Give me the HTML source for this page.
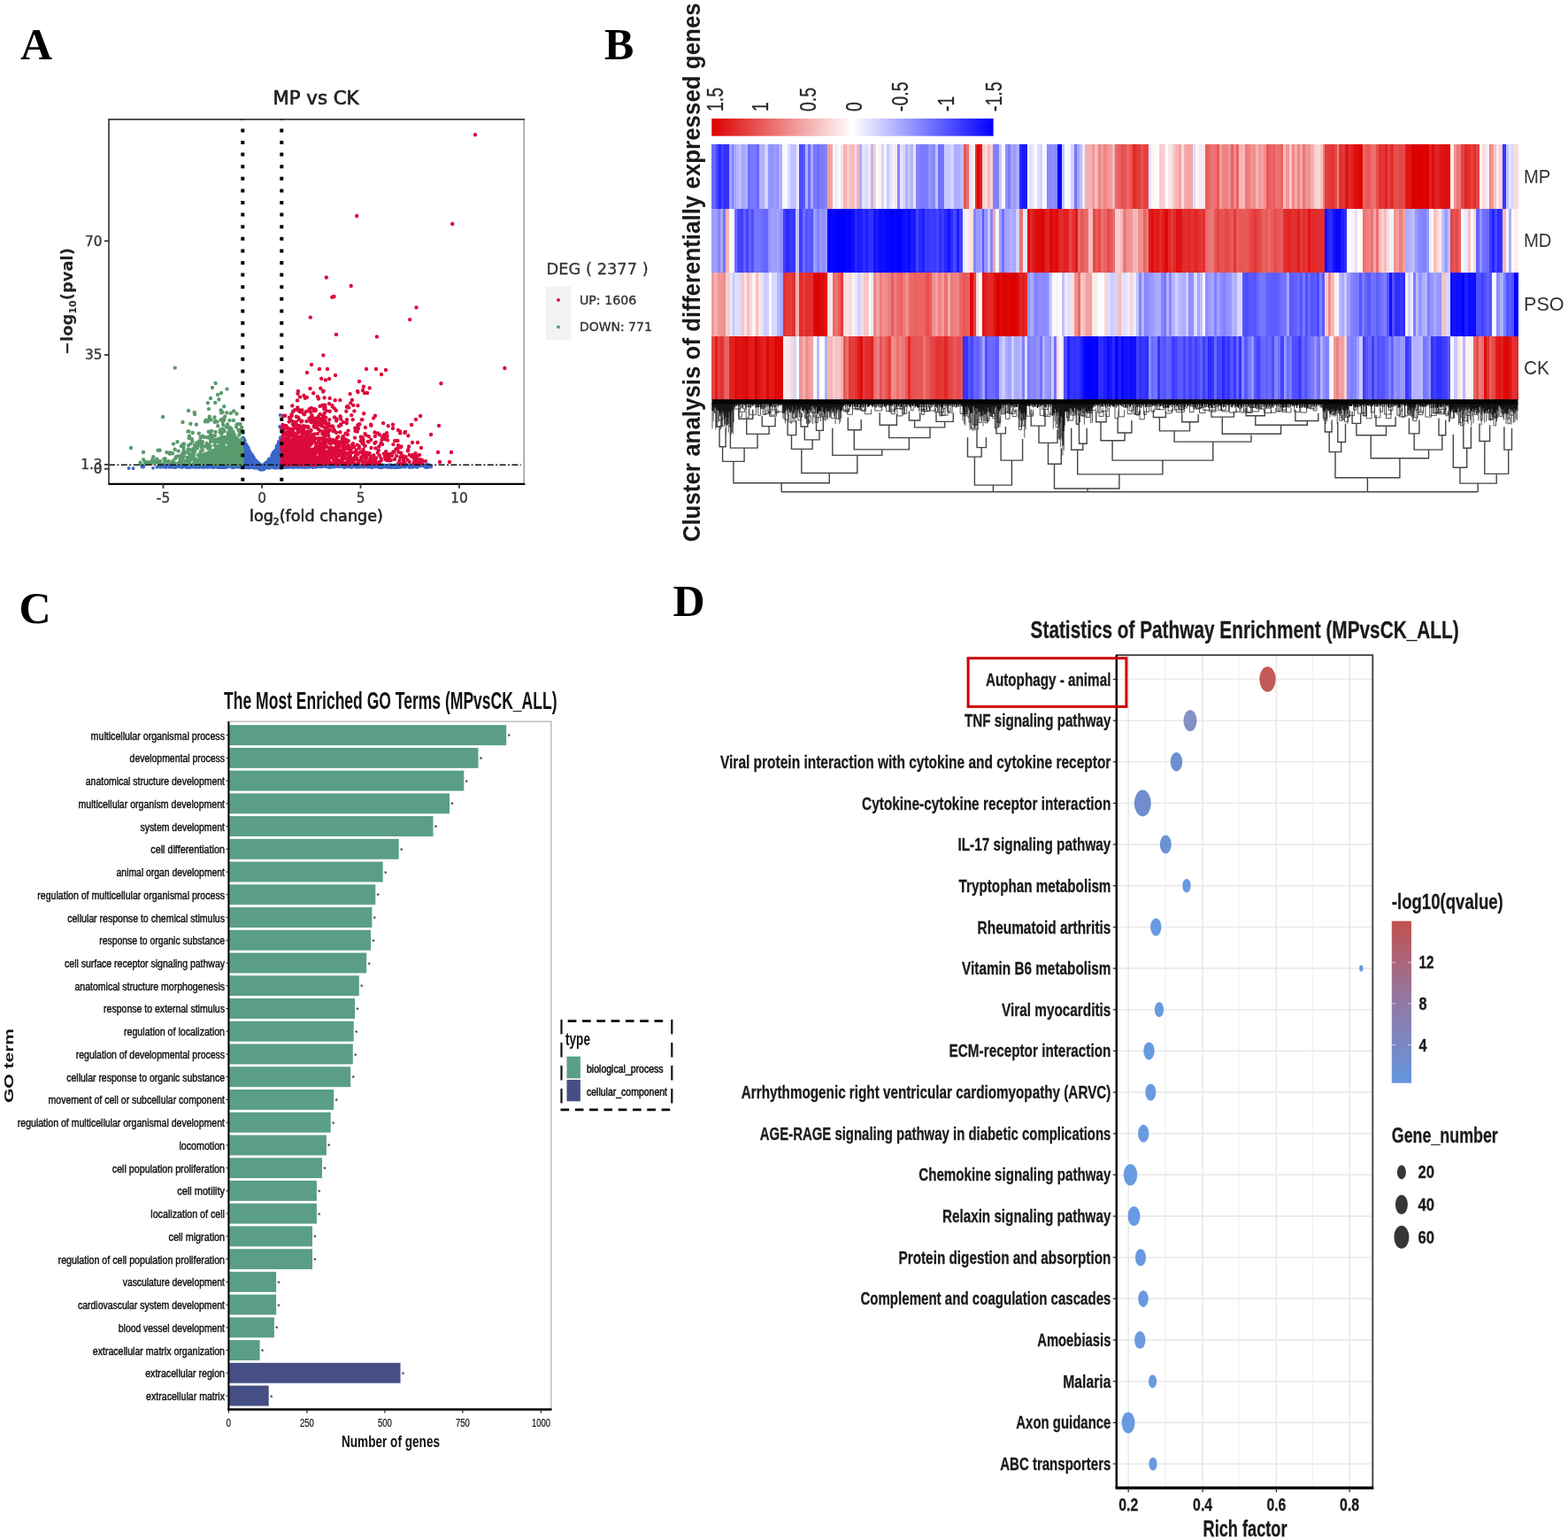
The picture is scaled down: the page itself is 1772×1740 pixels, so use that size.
<!DOCTYPE html>
<html lang="en"><head><meta charset="utf-8"><title>Figure</title>
<style>
html,body{margin:0;padding:0;background:#fff}
svg{display:block}
.dv{font-family:"DejaVu Sans","Liberation Sans",sans-serif}
.ls{font-family:"Liberation Sans",sans-serif}
.lsf{font-family:"Liberation Serif",serif}
</style></head><body>
<svg width="1772" height="1740" viewBox="0 0 1772 1740">
<rect width="1772" height="1740" fill="#fff"/>
<g id="panelA">
<path d="M284.9 526.5h0M280.5 526.5h0M191.6 528.0h0M208.0 525.5h0M213.0 526.3h0M302.1 528.1h0M210.4 527.8h0M308.5 526.3h0M376.7 526.4h0M267.7 527.5h0M389.4 527.2h0M360.2 527.2h0M424.5 527.4h0M356.8 525.3h0M320.4 526.8h0M292.9 526.6h0M192.1 525.7h0M356.4 527.2h0M394.0 526.3h0M320.4 525.1h0M325.9 528.0h0M395.9 524.9h0M241.1 528.2h0M343.9 527.8h0M198.2 527.8h0M256.2 525.3h0M204.8 526.4h0M451.9 525.4h0M265.7 527.0h0M452.1 527.7h0M301.9 526.3h0M352.2 526.8h0M293.7 525.1h0M392.5 526.2h0M364.9 525.3h0M425.6 526.9h0M211.9 528.0h0M245.6 527.7h0M324.1 527.9h0M296.0 525.3h0M295.4 527.0h0M217.8 524.9h0M323.4 527.9h0M341.3 527.4h0M415.2 526.5h0M225.2 528.1h0M342.6 525.4h0M313.4 527.0h0M231.4 526.5h0M311.1 525.0h0M442.4 525.5h0M384.3 526.5h0M335.1 527.4h0M393.2 526.7h0M468.4 525.1h0M302.9 527.5h0M221.1 525.4h0M327.6 525.6h0M206.1 525.2h0M420.8 526.6h0M235.0 527.1h0M426.5 526.9h0M303.6 525.8h0M221.9 527.7h0M458.5 527.7h0M434.4 526.1h0M287.9 527.8h0M184.4 526.1h0M342.1 526.8h0M448.3 527.5h0M299.9 527.4h0M361.1 525.2h0M288.9 526.3h0M458.3 525.2h0M334.4 526.5h0M185.8 527.6h0M181.3 527.7h0M325.8 526.4h0M280.4 526.4h0M261.5 527.3h0M417.7 526.4h0M413.9 526.8h0M368.5 526.5h0M393.2 526.5h0M327.2 525.9h0M449.8 527.4h0M352.2 525.4h0M282.3 526.8h0M361.4 525.6h0M328.4 525.9h0M391.2 527.5h0M473.2 526.6h0M484.7 527.7h0M312.8 527.1h0M209.7 525.8h0M186.0 526.8h0M254.2 528.0h0M483.2 525.0h0M254.7 528.1h0M331.3 525.2h0M333.4 527.7h0M462.9 525.9h0M276.5 528.0h0M468.8 525.6h0M205.8 528.0h0M445.6 527.1h0M350.2 527.3h0M219.8 527.4h0M248.2 528.1h0M267.9 527.3h0M373.9 527.1h0M375.4 526.4h0M238.3 525.1h0M212.7 526.8h0M332.4 526.9h0M336.0 525.0h0M285.5 525.9h0M375.8 527.1h0M303.7 528.0h0M306.7 525.4h0M447.9 527.3h0M313.6 526.7h0M228.5 527.4h0M476.0 526.4h0M255.3 527.2h0M255.0 526.6h0M241.9 528.2h0M333.7 526.9h0M284.1 526.3h0M342.9 526.1h0M400.4 526.9h0M280.4 527.7h0M402.9 528.1h0M437.1 526.2h0M405.9 527.8h0M341.2 525.5h0M427.7 526.3h0M454.8 525.9h0M329.7 527.8h0M328.2 526.2h0M372.8 526.6h0M181.1 525.8h0M334.8 526.0h0M200.4 527.4h0M242.2 525.8h0M243.2 525.0h0M332.0 526.6h0M390.4 526.2h0M318.6 525.8h0M273.7 528.2h0M326.0 526.0h0M393.1 527.3h0M339.0 526.7h0M216.5 527.6h0M481.0 528.2h0M321.3 525.0h0M325.6 527.5h0M410.6 526.5h0M321.0 525.3h0M243.1 525.3h0M353.1 526.7h0M297.3 527.1h0M277.3 528.2h0M411.1 527.8h0M465.1 525.2h0M269.2 526.9h0M487.4 527.0h0M317.7 525.5h0M267.9 527.4h0M261.8 527.6h0M294.9 525.3h0M429.9 525.2h0M469.5 525.8h0M195.3 526.7h0M411.7 527.3h0M195.1 527.8h0M302.8 527.2h0M407.5 527.4h0M250.0 527.7h0M278.7 525.2h0M433.1 526.7h0M204.4 527.9h0M298.6 526.3h0M453.1 526.9h0M307.4 527.0h0M333.8 527.3h0M226.9 525.4h0M294.5 527.4h0M303.1 525.1h0M441.2 528.2h0M190.0 525.3h0M325.7 528.2h0M300.5 525.5h0M443.3 527.4h0M222.5 525.1h0M402.1 525.7h0M320.8 528.1h0M285.6 525.2h0M321.9 526.1h0M322.9 528.0h0M341.4 526.9h0M248.8 528.2h0M272.8 525.1h0M378.4 526.7h0M370.3 527.2h0M186.7 526.0h0M277.2 526.0h0M339.5 526.8h0M305.5 525.6h0M407.5 527.6h0M311.1 527.5h0M263.8 525.1h0M304.5 526.0h0M346.3 526.9h0M245.6 527.8h0M213.8 525.3h0M405.5 525.1h0M361.1 525.1h0M271.5 527.0h0M254.9 528.2h0M266.1 525.1h0M218.1 527.5h0M289.8 525.5h0M249.3 525.2h0M239.4 525.3h0M189.4 525.5h0M303.9 528.1h0M199.3 527.4h0M410.0 527.1h0M263.8 526.2h0M260.7 527.2h0M299.9 526.1h0M186.8 527.5h0M326.3 525.1h0M244.2 525.2h0M236.3 525.8h0M433.2 526.2h0M320.4 527.0h0M322.7 527.4h0M373.6 526.4h0M280.3 525.3h0M315.1 526.6h0M398.5 527.5h0M308.3 526.0h0M410.2 526.0h0M217.3 527.3h0M354.5 525.8h0M307.1 527.4h0M227.2 526.3h0M280.5 524.9h0M321.6 524.9h0M211.5 525.5h0M438.7 528.1h0M229.3 527.6h0M479.5 525.2h0M294.6 526.7h0M260.0 525.1h0M212.6 526.2h0M247.0 527.8h0M238.2 527.6h0M254.3 526.0h0M321.2 526.4h0M379.7 526.9h0M349.3 527.9h0M230.4 526.9h0M336.6 526.4h0M290.0 525.4h0M486.7 527.6h0M283.7 528.2h0M457.5 525.5h0M305.0 526.7h0M229.5 525.2h0M207.4 527.0h0M273.7 527.3h0M340.4 527.9h0M331.0 525.0h0M421.2 526.6h0M196.5 526.9h0M458.3 525.5h0M229.4 527.5h0M304.5 525.5h0M249.2 526.9h0M339.4 527.8h0M256.1 525.3h0M192.7 525.7h0M191.8 527.8h0M364.5 526.2h0M274.3 526.3h0M311.1 526.8h0M254.3 527.5h0M415.0 526.7h0M235.3 527.9h0M219.6 527.9h0M316.1 528.1h0M257.3 525.8h0M419.3 528.0h0M335.1 525.1h0M221.9 524.9h0M405.3 527.6h0M482.2 525.1h0M323.1 528.0h0M288.0 527.7h0M186.0 525.5h0M224.2 525.2h0M253.0 528.1h0M294.4 525.1h0M389.2 527.7h0M227.5 527.0h0M448.7 526.3h0M282.6 524.9h0M373.8 525.6h0M261.5 526.3h0M290.9 526.8h0M234.4 528.1h0M205.5 526.3h0M187.7 528.2h0M257.1 526.5h0M261.2 527.5h0M341.9 527.9h0M296.8 526.3h0M256.4 527.8h0M256.9 527.7h0M209.5 525.3h0M420.7 527.4h0M183.6 526.4h0M287.9 526.8h0M468.4 527.4h0M246.9 527.4h0M198.0 528.2h0M349.6 527.8h0M241.4 526.6h0M377.5 527.7h0M286.1 528.1h0M453.7 525.9h0M182.0 525.8h0M323.2 526.7h0M297.5 527.1h0M410.7 525.4h0M309.7 526.4h0M314.2 526.5h0M261.7 525.0h0M246.8 528.2h0M291.5 525.8h0M280.6 527.1h0M253.6 526.1h0M393.3 525.0h0M324.5 525.9h0M443.9 525.8h0M178.0 527.5h0M319.2 528.1h0M212.9 527.1h0M281.4 528.1h0M393.2 525.9h0M256.7 525.5h0M432.3 528.0h0M447.1 525.1h0M270.9 527.9h0M190.6 525.5h0M375.2 526.1h0M363.4 527.6h0M278.3 528.2h0M343.6 525.9h0M352.6 525.4h0M283.0 526.9h0M314.4 527.1h0M396.9 527.5h0M308.7 528.2h0M242.2 525.0h0M181.4 526.6h0M268.9 526.6h0M286.9 527.4h0M312.7 526.6h0M213.9 528.0h0M422.5 525.6h0M373.3 526.9h0M301.5 527.9h0M370.2 527.5h0M261.0 526.6h0M296.8 527.5h0M321.9 525.7h0M411.8 527.1h0M335.9 525.8h0M232.2 525.7h0M235.7 526.7h0M310.9 525.9h0M334.8 527.7h0M267.2 527.1h0M238.3 525.8h0M211.4 527.9h0M298.3 525.6h0M405.7 527.6h0M292.0 527.5h0M226.1 525.9h0M334.1 526.7h0M223.7 526.9h0M408.1 526.8h0M356.7 526.8h0M250.4 525.3h0M418.2 525.4h0M389.2 526.7h0M276.4 527.9h0M309.2 525.9h0M347.5 526.8h0M320.1 526.9h0M387.8 527.6h0M381.5 526.9h0M330.8 528.1h0M319.1 526.5h0M211.1 526.4h0M400.8 526.1h0M435.2 526.9h0M181.7 526.0h0M300.8 527.8h0M483.0 528.0h0M264.5 528.2h0M308.9 525.9h0M308.9 525.1h0M375.7 525.6h0M354.4 525.6h0M375.2 526.4h0M249.6 527.1h0M376.6 525.5h0M357.7 526.4h0M218.6 527.1h0M269.3 526.8h0M322.3 525.8h0M278.1 526.8h0M376.2 527.0h0M465.8 528.0h0M434.8 525.6h0M223.2 526.1h0M349.1 525.1h0M317.9 527.5h0M312.2 527.7h0M458.3 527.7h0M454.3 525.6h0M385.8 525.6h0M274.8 525.8h0M315.0 526.4h0M239.5 527.8h0M269.2 526.6h0M333.3 525.4h0M182.1 526.7h0M353.2 525.4h0M295.4 525.1h0M203.2 526.1h0M188.8 526.0h0M301.6 525.0h0M337.2 525.3h0M190.5 526.2h0M284.2 527.0h0M326.1 525.7h0M244.9 526.8h0M350.5 527.3h0M434.8 526.6h0M263.7 525.0h0M381.5 527.1h0M236.4 525.6h0M192.4 525.3h0M260.0 527.2h0M355.2 526.1h0M422.9 526.2h0M369.8 525.9h0M363.5 527.5h0M385.3 525.7h0M264.2 528.1h0M418.4 526.1h0M293.6 525.6h0M279.5 527.2h0M312.6 525.1h0M196.8 528.1h0M216.6 526.3h0M462.7 528.2h0M299.2 525.1h0M481.9 526.9h0M211.4 527.5h0M344.6 528.2h0M316.6 525.4h0M291.6 525.8h0M254.6 527.6h0M195.5 525.9h0M443.3 528.0h0M373.5 526.7h0M372.0 528.2h0M184.6 525.5h0M278.7 525.8h0M231.1 526.6h0M198.4 526.3h0M315.1 527.7h0M425.4 526.1h0M373.8 527.0h0M422.0 525.6h0M419.0 525.9h0M345.3 526.2h0M480.8 526.2h0M275.0 525.3h0M296.0 526.2h0M455.8 527.3h0M238.4 525.5h0M326.5 525.5h0M429.8 526.3h0M264.3 525.6h0M390.7 527.1h0M206.2 525.6h0M241.7 525.1h0M252.1 526.0h0M293.6 525.6h0M377.8 525.6h0M204.2 525.3h0M340.6 526.3h0M245.9 527.6h0M395.8 526.4h0M303.9 527.7h0M193.8 527.0h0M212.7 525.6h0M228.1 527.1h0M442.2 525.4h0M329.7 527.4h0M419.8 525.1h0M416.2 525.0h0M327.3 527.6h0M355.4 525.3h0M321.1 525.2h0M199.8 526.9h0M216.9 527.4h0M353.8 525.1h0M386.1 526.7h0M229.2 524.9h0M315.7 527.4h0M288.4 525.2h0M313.5 526.1h0M220.9 527.8h0M412.4 526.0h0M272.0 525.7h0M294.9 526.6h0M321.2 527.8h0M289.4 528.1h0M264.4 525.1h0M446.8 527.8h0M381.0 526.1h0M255.2 525.5h0M327.0 527.8h0M281.9 527.8h0M235.3 526.9h0M319.6 527.7h0M258.6 525.2h0M215.2 528.0h0M455.5 527.5h0M294.4 527.0h0M485.0 525.2h0M328.9 525.3h0M197.7 527.3h0M311.7 527.8h0M180.6 526.5h0M237.2 525.2h0M247.2 527.8h0M235.5 525.9h0M254.0 527.9h0M367.3 527.3h0M243.4 525.9h0M429.8 527.6h0M200.3 526.9h0M312.5 525.4h0M446.1 528.2h0M460.1 525.3h0M254.8 525.5h0M250.5 528.2h0M340.0 526.5h0M217.2 525.5h0M343.7 525.9h0M297.4 528.0h0M448.6 526.6h0M338.0 526.5h0M186.4 527.5h0M295.7 528.1h0M209.7 527.6h0M185.5 526.3h0M341.0 527.9h0M447.6 528.1h0M217.9 526.6h0M386.4 526.9h0M222.2 525.4h0M225.3 525.8h0M230.6 525.1h0M299.7 525.5h0M341.8 525.1h0M298.7 526.8h0M482.0 525.2h0M430.9 528.1h0M339.3 525.1h0M256.8 526.1h0M292.2 528.0h0M313.3 528.2h0M222.9 525.7h0M468.4 525.6h0M452.2 528.1h0M340.2 526.0h0M264.2 525.2h0M244.1 525.1h0M289.3 526.1h0M217.1 525.1h0M236.7 527.7h0M308.7 527.3h0M296.9 526.4h0M438.5 526.3h0M317.0 525.9h0M321.9 526.2h0M297.7 526.5h0M298.0 528.2h0M288.6 527.4h0M351.3 527.3h0M330.7 525.7h0M332.5 528.0h0M299.4 525.8h0M257.8 525.1h0M272.2 526.0h0M369.7 525.5h0M339.4 525.8h0M413.8 525.6h0M398.1 527.8h0M335.1 525.7h0M360.3 525.0h0M356.1 525.6h0M448.6 527.0h0M319.2 525.8h0M270.2 526.4h0M318.0 526.6h0M203.1 527.2h0M224.7 526.3h0M207.1 527.2h0M439.6 525.1h0M242.9 525.2h0M243.2 525.2h0M418.1 524.9h0M339.3 526.0h0M299.9 526.3h0M288.1 526.0h0M273.2 527.0h0M303.4 526.3h0M450.8 526.6h0M315.5 524.9h0M285.7 525.5h0M386.9 526.5h0M214.0 525.9h0M432.6 525.3h0M283.6 527.3h0M337.5 527.6h0M236.2 526.2h0M288.7 526.1h0M193.1 525.6h0M274.4 528.2h0M273.7 526.3h0M233.7 527.3h0M379.1 524.9h0M356.8 527.8h0M228.3 527.9h0M296.8 526.5h0M433.4 525.6h0M301.6 525.9h0M253.0 527.3h0M210.6 526.3h0M287.4 527.0h0M196.9 526.3h0M475.4 526.2h0M383.4 527.2h0M456.7 527.2h0M365.5 526.6h0M255.4 526.9h0M259.6 526.6h0M389.3 527.7h0M336.0 526.4h0M215.4 527.0h0M288.8 527.8h0M434.2 527.4h0M297.1 526.0h0M309.0 525.9h0M309.1 526.8h0M437.4 527.7h0M288.6 527.0h0M273.9 525.1h0M271.1 525.9h0M260.3 526.3h0M303.6 526.2h0M245.4 527.8h0M337.9 527.3h0M417.5 526.1h0M280.0 527.6h0M309.3 526.0h0M213.6 527.0h0M334.8 527.5h0M218.9 527.3h0M304.2 525.7h0M451.7 527.8h0M313.0 526.0h0M384.3 526.9h0M382.9 527.4h0M440.6 526.1h0M364.1 525.9h0M254.4 527.7h0M285.8 527.2h0M305.5 525.5h0M355.5 527.4h0M313.9 527.1h0M180.3 525.7h0M336.8 528.1h0M242.8 525.6h0M244.7 525.7h0M206.5 526.9h0M410.1 527.3h0M207.7 526.8h0M466.3 525.8h0M435.5 526.7h0M196.8 526.8h0M337.6 527.8h0M270.0 527.4h0M348.2 526.1h0M211.1 528.0h0M290.2 527.6h0M276.5 527.4h0M254.4 526.8h0M468.0 527.2h0M225.6 526.4h0M282.7 526.4h0M262.8 526.7h0M415.8 527.9h0M269.1 527.5h0M238.6 527.6h0M396.0 527.9h0M279.9 527.0h0M448.4 525.7h0M205.9 525.0h0M306.4 526.6h0M289.9 525.2h0M378.4 525.1h0M294.3 527.4h0M310.4 527.2h0M237.2 525.4h0M203.2 525.6h0M435.6 527.1h0M236.8 527.2h0M293.5 527.0h0M357.3 526.2h0M432.3 525.2h0M470.8 526.6h0M312.3 526.3h0M204.7 527.7h0M316.4 527.9h0M192.3 527.6h0M348.1 525.6h0M214.8 526.0h0M338.4 527.1h0M315.0 525.5h0M281.0 526.4h0M346.9 527.9h0M279.7 525.0h0M459.7 525.0h0M476.0 525.5h0M198.5 526.2h0M271.5 525.1h0M328.0 527.2h0M285.7 528.1h0M238.2 526.7h0M206.3 527.0h0M358.8 526.5h0M353.9 527.9h0M235.6 526.4h0M214.6 527.4h0M209.3 527.4h0M330.6 527.5h0M230.8 528.0h0M290.6 526.8h0M445.8 525.9h0M374.3 527.9h0M435.5 527.7h0M475.5 525.7h0M222.1 528.0h0M252.9 528.2h0M291.4 527.2h0M397.7 525.3h0M371.2 526.4h0M462.4 527.7h0M302.3 525.5h0M217.8 525.8h0M471.8 528.1h0M222.2 526.4h0M361.6 527.4h0M239.5 525.5h0M262.7 528.2h0M214.0 527.6h0M277.5 527.8h0M449.4 525.9h0M428.8 528.2h0M251.7 526.6h0M448.7 528.1h0M236.1 526.0h0M300.8 527.7h0M440.1 525.3h0M279.6 525.3h0M326.1 527.7h0M291.1 526.3h0M299.4 528.2h0M350.0 525.0h0M303.0 526.0h0M257.8 526.3h0M342.6 524.9h0M190.5 525.7h0M448.5 526.1h0M375.3 527.3h0M424.8 525.1h0M296.0 525.7h0M407.6 526.1h0M287.9 526.9h0M231.0 526.6h0M427.3 527.5h0M395.2 526.7h0M317.1 527.2h0M300.5 527.2h0M275.0 526.4h0M353.1 528.0h0M235.0 525.0h0M289.9 526.8h0M265.2 526.6h0M295.5 527.7h0M262.5 527.5h0M306.6 526.2h0M445.9 527.6h0M405.9 526.2h0M204.4 525.3h0M319.1 525.3h0M377.0 527.5h0M280.6 526.1h0M304.8 527.1h0M197.7 528.1h0M352.3 526.6h0M288.1 525.2h0M353.6 528.0h0M369.0 527.1h0M297.9 527.8h0M316.1 526.4h0M361.1 526.1h0M248.6 525.8h0M259.4 525.7h0M315.1 526.7h0M265.7 525.1h0M162.3 526.7h0M381.7 527.0h0M296.9 528.1h0M274.7 526.6h0M339.5 527.7h0M234.6 525.2h0M278.7 525.7h0M254.7 526.6h0M313.0 527.2h0M244.3 525.8h0M200.2 526.9h0M249.7 525.2h0M470.8 527.5h0M276.2 526.8h0M300.1 527.2h0M225.7 526.3h0M228.3 525.4h0M262.3 525.5h0M193.1 527.7h0M390.2 526.7h0M358.3 527.5h0M451.9 525.6h0M305.4 525.4h0M319.6 525.0h0M182.9 527.7h0M299.6 527.7h0M237.4 525.9h0M451.5 528.1h0M252.2 525.9h0M191.7 527.5h0M388.9 528.2h0M314.0 526.6h0M221.8 527.6h0M278.8 525.8h0M261.2 525.2h0M341.7 525.0h0M451.8 527.3h0M309.2 526.5h0M305.6 527.0h0M183.3 526.1h0M347.4 525.9h0M482.4 525.9h0M302.1 526.8h0M479.5 527.0h0M301.0 526.2h0M295.9 526.2h0M303.8 525.4h0M421.3 528.1h0M319.1 526.1h0M298.1 525.8h0M442.7 526.3h0M295.6 526.1h0M408.8 525.9h0M301.1 526.2h0M253.7 527.5h0M251.5 525.2h0M160.1 527.0h0M161.9 527.9h0M150.5 529.2h0M177.3 527.8h0M162.0 527.8h0M173.0 528.8h0M145.5 529.0h0M281.4 523.9h0M302.3 525.4h0M312.4 519.3h0M310.8 527.3h0M280.6 526.6h0M289.6 526.7h0M293.9 526.8h0M304.7 523.3h0M309.3 526.1h0M304.0 523.3h0M284.3 523.4h0M290.7 527.4h0M299.1 528.0h0M305.7 524.7h0M284.5 527.9h0M302.1 527.9h0M292.6 525.4h0M290.3 525.4h0M290.1 526.5h0M291.9 523.8h0M289.4 523.8h0M314.9 498.9h0M305.5 520.4h0M288.4 521.2h0M290.6 525.2h0M313.9 528.2h0M300.1 526.0h0M311.1 518.1h0M313.4 515.4h0M296.5 527.8h0M291.6 524.5h0M298.4 530.3h0M283.5 514.4h0M278.2 507.6h0M298.9 525.3h0M305.4 528.3h0M304.5 522.2h0M318.2 512.3h0M280.2 516.4h0M274.0 523.5h0M285.4 525.2h0M312.0 516.4h0M292.4 527.2h0M312.4 518.4h0M285.2 528.2h0M297.6 528.8h0M299.7 524.1h0M282.6 523.6h0M276.0 511.1h0M291.9 526.9h0M285.9 524.9h0M305.4 525.2h0M294.0 527.3h0M276.3 508.0h0M275.9 527.4h0M300.3 522.9h0M298.7 527.7h0M303.8 525.9h0M283.1 527.4h0M314.6 525.9h0M277.9 501.4h0M292.2 527.4h0M314.1 524.5h0M276.2 527.6h0M311.0 523.7h0M299.7 525.6h0M280.6 525.0h0M311.2 510.6h0M317.4 527.8h0M290.6 527.3h0M298.0 527.9h0M292.9 528.3h0M310.7 508.8h0M318.1 518.8h0M286.7 519.4h0M295.8 528.8h0M312.2 515.4h0M277.6 520.9h0M313.5 525.6h0M314.9 510.4h0M316.8 495.5h0M303.0 525.8h0M293.8 530.1h0M308.8 527.7h0M298.6 527.6h0M300.3 528.7h0M296.6 530.3h0M299.5 526.8h0M303.3 527.3h0M315.7 501.4h0M312.7 525.1h0M277.9 527.0h0M295.8 528.9h0M281.0 517.5h0M290.1 525.6h0M282.8 524.4h0M312.6 506.0h0M274.4 519.8h0M309.0 516.1h0M283.9 526.3h0M285.5 523.2h0M296.8 530.5h0M299.5 525.5h0M308.7 527.8h0M284.7 513.4h0M275.5 505.1h0M310.0 512.2h0M294.3 527.0h0M292.1 528.4h0M284.6 518.1h0M280.4 525.6h0M282.5 522.5h0M317.2 514.8h0M295.1 527.1h0M307.2 525.8h0M301.6 526.1h0M277.8 518.8h0M280.9 521.5h0M307.0 516.3h0M315.5 517.1h0M310.8 522.5h0M293.1 527.1h0M312.5 504.3h0M297.4 526.9h0M308.8 513.5h0M284.1 521.2h0M284.3 513.9h0M304.3 524.6h0M308.7 516.6h0M315.7 522.3h0M277.6 504.1h0M288.8 520.8h0M309.1 519.7h0M274.4 498.8h0M292.4 526.2h0M288.7 525.4h0M311.4 522.2h0M277.6 508.2h0M293.4 530.3h0M304.2 519.9h0M281.9 509.0h0M289.9 521.4h0M300.9 527.5h0M296.0 526.8h0M282.1 527.1h0M297.2 527.0h0M294.0 529.4h0M278.2 504.5h0M296.6 527.2h0M303.4 522.7h0M293.5 528.1h0M301.9 524.7h0M303.9 526.3h0M289.9 528.4h0M310.9 516.5h0M293.7 527.9h0M307.1 523.9h0M279.8 518.1h0M280.1 515.0h0M275.8 503.6h0M302.3 522.3h0M286.7 523.6h0M317.3 499.5h0M303.9 518.7h0M305.4 525.4h0M280.9 510.2h0M309.1 526.3h0M296.7 527.8h0M281.3 527.8h0M287.0 517.1h0M316.6 518.2h0M315.8 518.4h0M293.2 527.6h0M291.3 522.3h0M285.6 515.9h0M293.8 527.7h0M287.7 520.5h0M294.7 527.8h0M286.0 516.3h0M297.3 529.8h0M308.1 514.8h0M299.0 523.9h0M285.5 528.0h0M298.2 529.1h0M309.7 522.8h0M302.5 526.3h0M304.6 524.4h0M315.6 517.8h0M291.2 527.6h0M282.0 523.5h0M296.9 530.3h0M288.8 524.9h0M296.1 528.5h0M291.7 527.2h0M311.4 509.4h0M280.4 511.1h0M296.0 527.8h0M310.3 510.3h0M279.6 511.0h0M301.0 528.5h0M300.6 527.9h0M283.2 527.2h0M303.9 524.9h0M289.7 528.3h0M311.1 528.9h0M301.8 526.7h0M276.3 510.9h0M309.7 512.3h0M278.6 511.7h0M288.9 523.5h0M283.4 525.2h0M311.1 522.9h0M275.1 528.0h0M296.2 528.3h0M306.0 523.5h0M296.5 527.3h0M318.1 510.8h0M288.4 528.3h0M295.0 528.0h0M305.3 524.6h0M282.2 523.2h0M282.4 518.7h0M293.3 525.3h0M282.5 517.9h0M305.0 524.6h0M316.0 517.1h0M305.8 526.2h0M274.3 515.6h0M301.8 526.1h0M281.0 506.6h0M287.3 526.9h0M289.5 525.6h0M294.0 530.2h0M308.4 511.5h0M314.4 514.8h0M310.4 526.6h0M298.8 527.8h0M284.9 514.9h0M305.4 523.1h0M293.2 526.9h0M309.9 527.3h0M274.3 507.0h0M290.6 522.6h0M308.8 528.2h0M313.4 527.0h0M288.1 519.5h0M295.3 529.8h0M314.1 525.9h0M300.1 527.7h0M294.1 527.9h0M293.3 525.2h0M276.1 515.7h0M303.7 526.5h0M302.7 524.7h0M280.0 521.7h0M276.5 497.2h0M283.9 515.4h0M310.4 513.0h0M275.4 495.0h0M309.5 528.0h0M284.4 527.0h0M303.7 525.8h0M314.7 524.3h0M274.5 525.1h0M317.1 522.2h0M309.7 518.7h0M278.4 504.1h0M314.6 503.3h0M298.5 528.3h0M300.2 528.5h0M276.1 519.3h0M291.4 523.9h0M274.8 514.5h0M294.1 530.0h0M292.8 523.5h0M298.1 527.8h0M311.6 527.5h0M290.1 522.7h0M280.3 505.5h0M308.0 527.7h0M278.8 512.7h0M296.9 528.3h0M302.6 525.8h0M309.2 521.2h0M305.7 520.0h0M311.6 508.1h0M281.7 524.2h0M305.2 525.2h0M289.2 528.1h0M293.5 527.0h0M307.7 521.1h0M307.3 525.0h0M292.1 527.5h0M313.2 524.4h0M308.1 513.7h0M309.1 527.0h0M310.5 515.4h0M290.1 521.0h0M280.9 514.2h0M297.7 527.1h0M304.5 528.1h0M283.2 512.2h0M274.3 502.1h0M317.8 512.4h0M304.3 520.6h0M307.3 524.9h0M274.9 521.4h0M285.3 524.3h0M300.1 525.2h0M304.7 528.2h0M276.7 517.5h0M280.0 516.9h0M316.9 519.2h0M308.0 527.3h0M287.2 520.8h0M293.5 527.0h0M289.0 528.5h0M310.7 510.2h0M309.5 523.5h0M274.1 494.7h0M280.7 515.4h0M303.2 527.6h0M278.0 523.4h0M302.8 526.9h0M276.6 501.7h0M279.5 524.2h0M305.9 518.2h0M284.9 520.9h0M278.7 507.2h0M286.4 519.0h0M283.7 525.1h0M290.8 524.2h0M294.7 528.1h0M311.0 528.3h0M293.3 526.5h0M305.4 527.4h0M295.1 529.0h0M279.0 519.3h0M294.6 530.5h0M283.6 519.0h0M312.5 518.2h0M278.6 521.8h0M284.4 514.8h0M283.2 524.1h0M314.9 506.4h0M277.0 519.1h0M282.9 522.1h0M279.0 522.5h0M281.7 515.2h0M296.7 527.8h0M297.7 528.4h0M302.7 521.6h0M315.9 500.6h0M290.1 528.0h0M283.8 513.4h0M277.4 527.9h0M293.3 528.0h0M307.1 514.4h0M291.6 528.9h0M316.0 513.0h0M296.5 526.8h0M301.4 522.6h0M282.7 524.5h0M283.8 526.0h0M291.9 524.7h0M274.7 523.1h0M310.6 515.7h0M285.2 520.5h0M305.4 525.9h0M279.1 526.7h0M279.8 514.4h0M313.2 522.6h0M281.2 518.9h0M291.9 527.0h0M312.1 525.5h0M315.7 527.3h0M314.5 528.4h0M286.6 516.6h0M312.5 515.4h0M311.6 521.3h0M296.6 528.1h0M299.8 526.5h0M316.6 526.3h0M313.7 523.8h0M304.6 526.2h0M290.0 523.4h0M277.0 509.5h0M294.7 530.8h0M294.9 528.2h0M281.7 520.9h0M284.1 512.8h0M282.9 510.8h0M313.8 508.0h0M289.7 522.4h0M279.4 523.4h0M285.6 527.0h0M291.8 528.5h0M299.7 527.3h0M289.6 525.1h0M281.5 528.6h0M303.8 525.0h0M316.6 499.8h0M302.3 522.8h0M316.8 501.9h0M287.1 519.1h0M300.5 526.3h0M300.0 528.9h0M297.6 530.5h0M273.9 502.2h0M273.9 518.7h0M305.4 528.5h0M278.8 516.2h0M280.3 516.5h0M288.0 523.8h0M285.2 527.7h0M280.9 514.8h0M304.8 519.5h0M306.2 522.1h0M282.1 523.3h0M276.0 505.8h0M290.9 527.3h0M309.3 527.8h0M299.8 524.6h0M309.6 524.4h0M277.9 512.5h0M279.9 514.5h0M278.5 522.3h0M285.2 521.0h0M306.0 519.0h0M283.6 517.6h0M304.5 518.5h0M282.8 516.3h0M285.3 525.6h0M308.1 523.0h0M316.5 518.3h0M287.8 528.3h0M300.9 528.6h0M296.6 527.3h0M294.3 528.8h0M296.9 528.7h0M308.3 527.7h0M291.0 527.1h0M303.5 525.7h0M295.0 529.3h0M293.6 528.3h0M278.4 511.1h0M286.1 515.7h0M314.3 515.2h0M301.3 528.4h0M307.2 522.1h0M277.5 526.2h0M316.7 518.9h0M307.9 527.2h0M276.9 512.3h0M310.9 525.1h0M307.8 523.3h0M279.2 503.5h0M278.9 509.1h0M313.5 522.4h0M316.4 519.1h0M294.4 530.3h0M282.3 527.6h0M310.0 523.9h0M285.1 513.9h0M280.3 525.0h0M281.4 521.5h0M282.1 512.1h0M312.2 528.7h0M307.7 514.1h0M316.2 500.3h0M310.2 521.3h0M290.4 526.0h0M278.6 504.0h0M292.0 523.4h0M307.4 514.3h0M309.6 521.9h0M307.4 526.8h0M303.0 521.0h0M279.7 520.5h0M310.3 511.1h0M311.5 527.1h0M315.5 507.1h0M302.8 520.9h0M298.1 527.6h0M308.6 526.8h0M288.9 528.0h0M288.3 520.7h0M283.8 527.8h0M306.8 522.1h0M291.6 526.1h0M287.5 518.7h0M294.7 529.5h0M312.7 526.2h0M299.9 527.4h0M295.3 528.1h0M283.0 522.1h0M316.5 524.7h0M314.5 511.3h0M293.0 526.6h0M277.8 505.0h0M308.9 524.8h0M306.9 527.1h0M313.1 523.1h0M290.7 521.9h0M282.7 522.6h0M306.4 521.2h0M296.0 526.9h0M318.3 498.0h0M281.9 523.3h0M307.6 525.9h0M314.9 528.2h0M296.1 526.9h0M296.5 530.2h0M301.8 527.2h0M300.6 527.1h0M292.4 526.2h0M277.8 519.0h0M305.7 525.8h0M285.1 526.3h0M300.6 528.1h0M299.8 524.4h0M305.5 525.4h0M311.1 528.0h0M315.8 526.1h0M276.8 507.6h0M280.0 513.3h0M318.2 499.3h0M284.6 526.4h0M292.0 527.1h0M280.9 527.0h0M282.3 518.9h0M281.9 519.8h0M317.1 494.9h0M294.7 530.2h0M281.2 513.5h0M316.8 516.4h0M292.7 525.0h0M291.2 522.9h0M299.2 524.2h0M306.2 520.1h0M314.7 515.8h0M287.0 520.9h0M306.5 527.7h0M290.0 525.9h0M300.0 526.8h0M315.8 515.7h0M281.8 510.2h0M309.4 522.7h0M295.1 527.2h0M289.3 520.5h0M302.2 526.1h0M291.0 523.2h0M285.3 523.2h0M289.9 526.7h0M286.0 517.7h0M280.8 528.5h0M282.3 512.8h0M280.3 527.6h0M285.5 518.5h0M314.3 520.9h0M314.8 500.6h0M293.1 524.9h0M312.0 526.7h0M312.6 513.5h0M317.3 526.9h0M279.2 510.4h0M301.8 527.7h0M281.8 514.8h0M316.9 494.1h0M293.1 527.6h0M284.1 520.9h0M305.2 526.7h0M280.5 511.6h0M276.3 506.8h0M275.2 501.0h0M299.4 523.9h0M300.5 526.3h0M315.8 514.2h0M298.7 528.0h0M290.8 528.9h0M309.5 518.9h0M274.0 513.1h0M303.6 521.5h0M291.9 526.3h0M315.1 519.0h0M290.5 521.9h0M309.0 513.5h0M317.9 516.9h0M307.5 519.1h0M280.8 523.3h0M286.0 528.1h0M315.2 524.3h0M307.6 514.1h0M299.9 523.2h0M277.6 525.9h0M286.0 517.1h0M293.4 527.8h0M302.6 524.5h0M305.9 520.1h0M286.1 516.5h0M315.8 521.9h0M299.2 527.0h0M294.0 527.0h0M294.8 530.2h0M304.0 518.3h0M297.8 528.2h0M290.5 522.6h0M275.2 525.9h0M311.7 528.2h0M294.4 527.9h0M289.0 527.9h0M279.8 527.2h0M282.0 522.0h0M281.0 523.6h0M308.7 512.2h0M283.6 523.6h0M317.0 506.4h0M297.5 530.4h0M314.5 518.9h0M306.9 521.9h0M310.4 519.4h0M280.9 516.3h0M291.8 528.1h0M294.7 529.3h0M298.4 530.1h0M313.2 502.9h0M317.5 507.5h0M316.8 509.6h0M287.7 526.7h0M279.2 512.5h0M298.8 527.3h0M289.9 526.4h0M297.9 529.3h0M300.7 522.3h0M284.6 528.1h0M274.1 521.2h0M296.3 528.1h0M304.2 523.8h0M303.9 528.9h0M275.9 496.4h0M287.7 528.9h0M292.2 527.2h0M310.5 524.6h0M281.7 527.6h0M315.3 501.1h0M296.7 529.2h0M304.8 519.0h0M317.5 501.4h0M285.8 523.8h0M303.2 524.5h0M318.0 504.0h0M280.9 516.4h0M289.7 527.7h0M280.0 525.3h0M299.9 528.2h0M296.1 529.1h0M297.9 529.1h0M284.3 525.0h0M310.4 527.0h0M295.0 527.7h0M283.6 514.2h0M293.9 528.4h0M281.8 527.2h0M288.5 522.4h0M292.6 526.0h0M315.5 524.0h0M287.3 518.3h0M305.2 526.9h0M275.7 500.1h0M302.6 523.3h0M276.3 518.0h0M278.3 508.7h0M296.5 529.1h0M303.2 520.2h0M273.9 513.6h0M282.5 515.5h0M318.0 518.8h0M303.6 524.8h0M304.4 527.2h0M276.8 497.8h0M314.7 513.7h0M295.5 528.8h0M309.8 510.1h0M310.0 526.0h0M295.3 528.0h0M299.5 528.5h0M305.6 527.9h0M288.1 522.7h0M305.9 519.5h0M290.1 526.7h0M317.3 528.8h0M277.8 503.6h0M302.1 521.6h0M305.7 523.9h0M303.6 528.5h0M289.5 524.9h0M287.9 524.9h0M312.3 504.6h0M302.4 526.5h0M282.5 519.4h0M316.7 469.0h0M317.2 483.7h0M316.1 481.9h0M274.8 489.3h0" fill="none" stroke="#3a66c8" stroke-width="3.8" stroke-linecap="round" opacity="1"/>
<path d="M261.3 514.1h0M247.0 519.0h0M252.7 515.7h0M240.9 510.0h0M264.0 507.3h0M228.0 519.9h0M195.5 520.6h0M263.4 506.8h0M222.3 503.6h0M266.5 518.7h0M262.7 504.1h0M233.9 519.8h0M227.5 505.1h0M243.3 518.8h0M271.8 524.5h0M175.3 520.6h0M171.4 523.4h0M270.2 507.4h0M253.6 519.6h0M253.6 486.9h0M216.8 508.9h0M262.4 520.3h0M263.8 497.4h0M216.2 513.6h0M229.1 522.6h0M203.5 519.2h0M246.5 524.5h0M258.8 524.7h0M259.7 518.7h0M239.4 520.7h0M273.1 513.1h0M263.2 496.5h0M201.5 515.4h0M248.0 524.2h0M261.9 511.1h0M252.2 520.8h0M262.5 518.2h0M265.4 514.7h0M259.4 500.2h0M223.6 500.2h0M254.1 522.8h0M265.9 503.7h0M218.1 517.5h0M225.3 519.8h0M270.8 521.8h0M273.6 523.7h0M259.8 514.0h0M263.4 514.3h0M268.1 515.7h0M259.7 512.6h0M260.4 510.3h0M248.8 523.3h0M180.2 524.3h0M241.5 517.2h0M261.7 512.4h0M179.0 522.4h0M268.4 510.1h0M255.9 520.6h0M226.7 494.0h0M259.6 524.5h0M266.2 494.1h0M253.0 521.2h0M268.0 508.8h0M264.7 522.8h0M245.1 511.6h0M262.4 522.8h0M253.8 522.5h0M262.6 513.2h0M244.8 509.0h0M266.1 500.0h0M248.5 516.8h0M255.8 482.5h0M270.3 524.5h0M191.9 512.7h0M217.4 498.7h0M251.6 486.7h0M256.2 493.6h0M214.0 492.8h0M261.2 518.7h0M271.6 512.4h0M269.8 520.3h0M263.9 475.0h0M256.2 519.6h0M195.1 512.2h0M270.8 503.1h0M214.1 508.0h0M254.9 514.9h0M267.1 511.6h0M220.1 506.4h0M258.5 521.1h0M181.0 521.1h0M252.8 501.1h0M232.5 512.4h0M260.8 508.6h0M258.0 522.3h0M198.2 517.9h0M227.1 502.5h0M260.6 522.0h0M243.3 515.9h0M247.7 514.5h0M273.6 521.3h0M220.2 510.5h0M244.1 496.5h0M263.3 487.7h0M222.9 506.6h0M181.8 524.3h0M257.7 522.4h0M266.2 515.8h0M267.6 522.0h0M254.3 515.3h0M252.6 523.8h0M267.0 504.7h0M248.3 520.5h0M228.0 502.0h0M265.9 510.2h0M259.7 523.9h0M242.7 521.7h0M249.6 523.0h0M218.7 523.4h0M271.1 523.8h0M253.5 518.9h0M255.1 499.3h0M235.1 520.0h0M273.5 523.5h0M266.6 505.2h0M257.7 511.4h0M271.4 508.2h0M256.4 496.1h0M254.2 516.2h0M206.9 511.8h0M249.0 509.7h0M265.2 496.4h0M271.2 497.5h0M158.5 522.7h0M243.6 510.3h0M263.0 505.7h0M266.8 510.1h0M241.4 513.5h0M261.9 518.8h0M269.6 520.4h0M226.6 511.2h0M224.0 503.1h0M271.6 523.8h0M259.9 517.2h0M252.8 522.7h0M251.4 465.7h0M259.2 520.9h0M169.3 522.5h0M219.9 503.0h0M263.9 524.3h0M255.8 516.5h0M230.4 521.9h0M251.7 476.8h0M205.2 515.3h0M257.5 515.5h0M199.3 515.9h0M236.4 473.7h0M270.2 508.4h0M273.1 523.2h0M254.4 522.2h0M266.1 523.6h0M267.2 522.9h0M221.9 520.3h0M265.4 522.6h0M270.6 509.0h0M213.8 524.0h0M238.1 499.0h0M263.9 521.9h0M256.4 510.6h0M263.0 509.8h0M271.0 512.6h0M270.0 515.7h0M235.4 514.5h0M206.5 477.0h0M206.5 502.1h0M223.0 521.2h0M242.3 508.9h0M213.8 520.7h0M244.9 513.3h0M236.1 503.5h0M270.4 511.2h0M238.7 520.6h0M176.7 522.6h0M259.6 504.0h0M242.1 508.6h0M251.9 473.6h0M254.8 511.3h0M235.9 462.1h0M264.3 515.6h0M262.4 501.1h0M218.0 507.3h0M268.6 521.7h0M261.3 522.4h0M235.7 487.8h0M261.7 515.7h0M258.6 515.9h0M259.3 494.2h0M259.5 474.9h0M265.9 524.6h0M270.5 513.5h0M252.6 519.2h0M208.1 501.4h0M273.1 504.2h0M237.9 491.0h0M268.7 520.8h0M258.4 505.5h0M248.1 507.1h0M246.2 481.3h0M261.8 516.3h0M261.5 484.6h0M242.5 471.4h0M228.4 513.9h0M230.8 522.8h0M244.6 509.8h0M206.5 523.2h0M253.3 474.5h0M255.9 508.6h0M268.0 521.4h0M255.6 514.2h0M257.7 500.4h0M228.1 520.1h0M262.8 517.5h0M242.5 517.4h0M245.6 516.5h0M273.3 524.2h0M257.2 479.4h0M219.1 511.6h0M273.3 521.1h0M244.5 510.2h0M259.5 516.9h0M270.5 503.8h0M246.3 508.0h0M212.0 510.7h0M210.2 520.7h0M197.6 507.7h0M247.8 518.6h0M230.6 517.5h0M250.1 485.9h0M248.6 523.6h0M249.5 463.5h0M244.3 505.9h0M250.8 473.6h0M273.3 498.9h0M271.8 524.5h0M242.3 514.0h0M266.0 514.3h0M245.7 508.5h0M180.7 508.8h0M265.2 518.0h0M260.9 517.3h0M228.9 524.2h0M253.2 514.7h0M258.5 483.5h0M271.7 522.8h0M269.4 508.9h0M247.6 495.5h0M252.4 495.6h0M221.9 479.7h0M223.6 524.9h0M212.9 520.2h0M229.0 492.8h0M261.7 495.0h0M239.1 487.0h0M248.5 519.7h0M250.1 490.4h0M207.5 510.2h0M240.0 495.0h0M229.9 523.0h0M263.7 515.8h0M222.8 523.1h0M260.8 521.3h0M231.6 504.4h0M271.1 510.8h0M211.4 516.9h0M272.7 521.4h0M226.9 498.2h0M250.9 522.5h0M259.1 519.7h0M233.2 517.4h0M263.7 500.2h0M259.3 487.5h0M248.5 515.7h0M270.4 505.8h0M253.9 494.3h0M206.7 523.3h0M243.2 475.8h0M241.2 510.7h0M263.5 515.7h0M200.5 499.2h0M173.3 516.3h0M242.9 492.1h0M272.9 500.9h0M220.6 502.9h0M254.7 521.3h0M225.2 523.3h0M158.8 523.9h0M257.6 489.7h0M186.3 521.8h0M270.3 515.3h0M247.4 451.3h0M257.6 516.3h0M268.0 502.1h0M257.0 518.8h0M253.2 459.3h0M248.8 523.9h0M268.5 504.3h0M207.5 506.3h0M256.2 512.5h0M272.4 511.0h0M238.5 474.2h0M222.1 523.8h0M249.4 520.4h0M272.4 524.5h0M233.5 518.7h0M255.9 521.6h0M267.7 504.2h0M260.8 496.3h0M258.7 521.6h0M164.1 523.2h0M243.0 517.1h0M265.8 524.5h0M212.6 507.6h0M262.9 506.9h0M263.0 518.6h0M230.7 493.9h0M259.4 524.3h0M272.8 518.7h0M229.5 520.7h0M227.6 500.2h0M253.5 500.1h0M266.3 524.9h0M264.7 504.2h0M243.2 499.7h0M240.4 509.8h0M246.3 520.9h0M262.5 523.4h0M260.8 511.8h0M268.0 523.2h0M231.8 523.0h0M265.0 520.4h0M208.8 512.6h0M237.9 519.0h0M183.8 524.7h0M262.0 516.5h0M204.9 503.9h0M262.6 490.8h0M264.1 523.1h0M259.9 521.9h0M265.0 516.5h0M262.7 502.9h0M234.9 476.2h0M226.5 513.8h0M261.7 492.3h0M245.5 476.5h0M208.0 509.9h0M265.5 499.4h0M260.7 508.2h0M267.3 517.3h0M267.4 524.3h0M264.1 522.6h0M251.1 497.4h0M270.7 499.2h0M269.6 505.7h0M254.6 511.4h0M178.6 508.7h0M207.0 515.3h0M188.4 511.1h0M228.9 508.5h0M270.5 520.2h0M235.0 502.4h0M257.8 524.2h0M192.1 511.4h0M254.5 510.7h0M272.9 523.9h0M214.7 517.1h0M163.5 521.8h0M237.0 506.3h0M273.2 508.6h0M222.9 524.4h0M196.4 524.5h0M269.3 506.5h0M268.9 498.6h0M269.5 486.0h0M273.6 524.2h0M270.4 487.6h0M272.4 516.3h0M253.4 512.8h0M224.9 489.7h0M257.3 520.5h0M255.2 511.0h0M207.2 516.1h0M266.4 519.4h0M262.4 516.9h0M272.6 501.7h0M237.7 496.2h0M262.9 521.5h0M249.3 498.4h0M268.2 501.3h0M224.6 521.2h0M270.3 507.0h0M242.3 510.9h0M248.8 488.2h0M246.9 499.0h0M248.1 514.9h0M257.2 511.7h0M260.2 516.4h0M259.7 523.1h0M235.2 513.3h0M246.7 519.9h0M273.2 500.5h0M254.9 523.9h0M206.5 519.1h0M237.6 512.1h0M258.9 499.9h0M213.7 520.2h0M235.9 521.8h0M271.8 524.0h0M223.9 514.3h0M206.8 513.4h0M247.0 519.7h0M194.2 523.8h0M265.9 512.9h0M261.9 499.8h0M267.7 519.4h0M186.6 518.1h0M270.2 512.1h0M243.1 524.3h0M269.7 522.4h0M262.7 490.7h0M251.9 509.7h0M264.0 522.5h0M264.6 490.6h0M268.3 523.0h0M266.5 517.9h0M230.8 513.1h0M258.5 488.2h0M257.0 508.4h0M251.3 516.6h0M264.2 493.6h0M260.3 515.4h0M251.2 521.5h0M261.4 513.1h0M273.6 517.9h0M271.5 521.9h0M221.6 518.6h0M265.1 520.2h0M260.9 501.3h0M237.6 504.0h0M272.3 521.1h0M251.1 499.4h0M265.4 500.9h0M272.3 512.8h0M269.9 519.1h0M207.5 523.6h0M267.0 482.6h0M239.2 518.5h0M271.0 523.2h0M260.7 516.2h0M193.3 523.4h0M243.8 511.3h0M267.7 522.3h0M265.4 515.7h0M249.4 485.1h0M254.7 495.4h0M273.1 523.0h0M245.9 522.4h0M263.2 509.1h0M238.8 514.3h0M268.6 519.7h0M269.4 518.1h0M269.6 514.3h0M249.5 496.4h0M270.9 489.8h0M213.6 495.0h0M227.1 522.7h0M264.8 495.1h0M262.0 513.4h0M270.5 504.2h0M225.8 515.8h0M230.5 516.4h0M261.0 497.9h0M255.1 512.7h0M252.0 488.1h0M260.6 517.0h0M214.2 513.5h0M260.1 491.7h0M225.1 523.4h0M267.2 523.0h0M251.0 511.4h0M257.8 523.4h0M197.7 523.5h0M240.1 492.3h0M238.2 523.6h0M265.6 522.6h0M250.9 522.0h0M251.1 493.6h0M254.1 470.8h0M227.8 518.5h0M234.1 494.1h0M260.1 497.9h0M248.8 486.6h0M273.5 501.2h0M216.6 518.9h0M236.0 494.3h0M242.2 522.4h0M271.3 519.9h0M264.6 523.7h0M201.6 509.6h0M262.6 518.6h0M162.1 519.1h0M271.3 519.5h0M219.6 518.4h0M273.0 524.2h0M251.1 505.4h0M248.9 518.5h0M233.7 500.9h0M254.5 519.3h0M272.5 512.8h0M267.5 479.8h0M222.7 521.8h0M264.2 464.5h0M270.1 519.2h0M260.8 523.1h0M217.8 489.0h0M261.7 522.0h0M172.2 519.5h0M271.7 508.0h0M190.7 521.2h0M250.7 519.0h0M185.7 519.5h0M260.2 483.2h0M185.3 518.8h0M273.1 488.9h0M264.9 512.4h0M265.6 509.9h0M270.7 521.9h0M260.8 523.7h0M225.3 498.1h0M168.3 522.5h0M251.7 484.6h0M218.0 512.6h0M216.8 496.0h0M272.9 514.2h0M268.9 514.4h0M257.7 516.0h0M273.6 509.5h0M269.4 503.0h0M214.2 521.8h0M231.4 516.5h0M273.1 521.5h0M247.0 519.3h0M238.0 519.8h0M256.3 513.5h0M254.3 516.3h0M237.4 492.9h0M267.6 511.4h0M255.5 519.0h0M240.3 522.2h0M245.2 513.0h0M254.4 509.3h0M257.1 514.9h0M249.7 474.3h0M261.7 510.0h0M233.3 502.6h0M258.7 503.3h0M213.1 519.1h0M271.7 516.6h0M232.6 474.8h0M240.4 523.5h0M272.6 524.6h0M251.2 521.0h0M215.3 478.7h0M260.4 513.0h0M264.5 524.9h0M265.1 494.4h0M252.8 518.9h0M245.4 517.8h0M258.8 516.4h0M256.3 466.4h0M233.6 522.0h0M272.6 498.7h0M262.4 487.2h0M250.8 517.7h0M260.8 466.8h0M203.5 524.8h0M270.1 503.1h0M226.8 522.7h0M273.3 501.9h0M220.5 520.7h0M215.2 519.3h0M273.6 507.0h0M228.9 499.2h0M231.9 517.6h0M261.1 522.6h0M269.6 503.2h0M251.6 517.8h0M257.6 505.6h0M207.9 501.5h0M233.5 514.9h0M248.5 523.1h0M262.5 524.2h0M235.7 506.1h0M266.8 500.6h0M244.6 509.3h0M258.6 522.4h0M213.5 487.5h0M268.0 515.2h0M271.9 515.0h0M253.9 494.8h0M247.2 516.6h0M273.7 509.1h0M270.1 510.8h0M269.5 515.9h0M273.5 519.0h0M266.8 520.7h0M265.3 517.3h0M260.3 524.6h0M219.0 514.5h0M273.6 496.4h0M255.3 496.7h0M206.8 516.5h0M248.9 518.0h0M244.7 506.3h0M244.6 523.6h0M273.2 483.0h0M271.3 522.5h0M260.9 495.0h0M222.2 500.4h0M264.6 508.8h0M265.7 523.4h0M225.7 522.4h0M263.9 510.2h0M251.3 500.6h0M250.7 520.1h0M268.9 519.1h0M208.2 523.8h0M266.3 514.3h0M272.9 514.5h0M246.0 497.5h0M265.4 514.2h0M261.2 510.0h0M250.3 464.3h0M250.4 507.1h0M177.3 518.6h0M248.4 520.2h0M227.9 503.1h0M253.5 504.2h0M234.9 455.2h0M264.5 515.1h0M188.8 521.6h0M272.9 515.4h0M262.6 515.1h0M271.5 517.4h0M260.8 513.4h0M258.9 524.6h0M249.0 513.5h0M262.1 514.8h0M225.9 522.5h0M266.7 517.8h0M259.0 504.8h0M174.1 521.7h0M220.7 524.3h0M178.5 520.8h0M271.6 518.9h0M242.7 476.7h0M259.8 490.3h0M266.1 515.5h0M270.0 504.0h0M271.3 505.2h0M236.2 522.4h0M207.3 504.3h0M254.5 509.0h0M268.8 524.2h0M268.3 495.6h0M268.8 516.4h0M270.3 491.5h0M235.0 506.6h0M214.3 513.2h0M211.9 521.2h0M269.3 513.3h0M255.1 522.4h0M235.6 517.7h0M219.7 465.9h0M271.5 517.2h0M264.8 491.2h0M269.2 479.2h0M207.6 523.6h0M255.4 499.6h0M267.5 467.5h0M273.3 523.7h0M231.9 476.4h0M266.1 520.5h0M271.0 518.5h0M166.1 522.1h0M272.7 515.2h0M270.6 517.2h0M261.8 508.3h0M270.3 520.9h0M243.2 455.0h0M269.7 505.9h0M254.4 509.0h0M266.4 511.7h0M244.2 524.7h0M165.3 524.2h0M213.0 503.2h0M205.3 513.9h0M273.5 513.1h0M229.3 522.7h0M266.1 523.8h0M270.3 504.1h0M249.9 466.3h0M247.5 509.8h0M215.5 516.7h0M247.8 504.3h0M247.4 513.2h0M236.1 510.9h0M262.3 499.3h0M254.7 519.3h0M264.8 514.0h0M266.1 515.2h0M260.5 497.2h0M203.8 520.8h0M243.6 488.0h0M239.5 513.3h0M239.1 515.8h0M227.2 509.5h0M270.4 521.0h0M272.7 514.2h0M196.0 501.6h0M254.7 519.4h0M254.9 514.8h0M260.6 510.0h0M252.3 480.1h0M230.4 524.3h0M237.4 503.6h0M252.8 514.7h0M219.4 524.2h0M269.7 512.4h0M236.8 470.8h0M224.1 514.5h0M223.7 522.3h0M213.3 524.8h0M271.7 485.5h0M244.7 519.1h0M267.7 522.7h0M254.9 507.3h0M242.4 503.1h0M212.5 487.4h0M253.3 504.3h0M268.0 496.4h0M253.3 506.6h0M236.5 518.5h0M257.3 520.8h0M268.5 510.4h0M271.6 479.3h0M264.3 519.7h0M271.0 498.5h0M228.5 503.3h0M244.5 504.3h0M251.5 504.4h0M269.5 499.6h0M248.4 502.7h0M253.3 511.3h0M273.0 524.4h0M201.9 523.0h0M215.5 501.4h0M242.0 498.7h0M264.3 497.8h0M218.6 516.9h0M260.2 492.9h0M238.9 509.1h0M197.7 415.6h0M243.6 433.0h0M256.5 439.6h0M240.0 438.0h0M246.0 446.0h0M250.0 444.0h0M238.0 450.0h0M148.0 506.0h0M162.0 511.0h0M184.0 471.0h0M213.0 464.0h0M220.0 468.0h0" fill="none" stroke="#5a9b6e" stroke-width="4.4" stroke-linecap="round" opacity="1"/>
<path d="M408.1 516.5h0M367.4 510.8h0M331.0 508.2h0M336.0 452.4h0M332.0 523.2h0M337.2 513.3h0M451.6 520.3h0M332.0 521.3h0M400.4 464.4h0M362.3 513.5h0M358.0 483.2h0M413.9 524.8h0M382.2 503.0h0M321.6 496.0h0M337.5 464.0h0M327.5 524.0h0M353.2 521.4h0M378.7 452.3h0M443.0 514.7h0M392.0 504.5h0M365.1 516.4h0M335.0 493.1h0M320.9 520.0h0M321.7 511.9h0M400.1 504.9h0M342.9 467.4h0M332.1 514.9h0M324.7 515.4h0M386.2 523.7h0M434.1 491.3h0M320.3 523.0h0M331.1 503.6h0M342.5 515.6h0M349.5 463.8h0M327.2 513.7h0M336.6 524.3h0M366.1 471.0h0M333.4 518.9h0M350.6 502.4h0M340.8 518.8h0M344.1 501.4h0M363.1 523.1h0M323.3 522.3h0M326.9 519.1h0M419.4 520.0h0M326.9 508.8h0M354.9 490.7h0M366.0 505.6h0M363.6 522.9h0M337.5 501.4h0M322.2 499.4h0M338.1 512.7h0M330.6 522.9h0M367.5 460.5h0M457.4 489.0h0M319.4 480.0h0M406.0 506.2h0M342.6 522.1h0M352.0 522.2h0M404.9 484.3h0M333.0 519.8h0M393.6 503.4h0M352.6 523.2h0M346.6 492.2h0M327.9 519.7h0M387.0 504.2h0M319.7 510.0h0M347.4 512.5h0M437.9 513.2h0M341.4 524.1h0M409.2 516.9h0M332.5 482.8h0M396.2 505.9h0M352.4 524.2h0M374.6 507.8h0M319.0 522.8h0M363.2 427.7h0M364.0 524.6h0M452.7 505.4h0M320.1 511.8h0M340.4 509.6h0M328.8 522.1h0M367.9 499.3h0M445.6 511.1h0M339.8 464.9h0M357.1 475.8h0M465.2 515.7h0M366.4 473.9h0M339.6 506.4h0M351.2 523.9h0M344.8 490.3h0M322.2 519.2h0M377.7 514.0h0M356.7 463.8h0M348.3 512.7h0M340.8 522.8h0M368.2 471.6h0M336.8 523.3h0M351.1 487.0h0M376.9 511.5h0M401.1 516.8h0M348.9 513.1h0M333.5 506.6h0M329.0 507.0h0M337.3 513.5h0M318.8 513.2h0M453.5 524.3h0M328.0 497.6h0M349.2 518.6h0M348.6 517.7h0M417.9 520.2h0M356.9 509.8h0M362.5 508.5h0M334.0 509.7h0M420.1 521.4h0M327.0 501.5h0M321.0 520.8h0M345.0 481.7h0M379.6 505.1h0M338.2 512.0h0M364.9 487.4h0M325.7 498.9h0M337.7 521.9h0M327.8 504.4h0M325.8 524.8h0M323.9 523.8h0M345.3 499.6h0M347.1 490.6h0M423.9 492.9h0M326.2 521.5h0M327.5 519.3h0M380.1 488.8h0M322.2 500.8h0M329.8 517.2h0M372.5 521.8h0M333.5 524.7h0M360.6 499.1h0M335.2 514.4h0M376.9 510.2h0M331.0 520.4h0M328.1 492.6h0M337.4 494.7h0M352.5 469.3h0M360.5 509.9h0M347.3 518.3h0M420.2 523.6h0M390.7 499.9h0M401.7 518.7h0M330.4 507.6h0M344.9 449.8h0M453.3 511.9h0M365.3 510.7h0M348.3 519.0h0M397.2 469.1h0M348.5 503.2h0M318.6 483.5h0M328.1 523.8h0M330.8 522.8h0M386.1 499.7h0M338.0 473.9h0M351.6 522.5h0M318.5 523.6h0M391.9 459.8h0M366.4 499.4h0M334.5 523.7h0M394.1 507.0h0M368.0 522.1h0M335.0 511.5h0M324.4 516.3h0M318.9 517.8h0M324.4 517.8h0M385.4 508.8h0M359.0 448.2h0M331.0 511.0h0M334.4 490.7h0M367.8 429.4h0M372.7 485.9h0M323.1 504.8h0M381.8 523.6h0M345.9 507.1h0M339.7 511.5h0M355.9 510.6h0M326.9 498.3h0M425.1 517.4h0M417.7 438.4h0M333.6 520.4h0M347.9 519.2h0M345.4 521.7h0M323.9 523.7h0M323.8 503.7h0M407.8 493.8h0M396.9 517.6h0M391.0 523.9h0M449.4 497.9h0M377.7 522.9h0M362.3 502.3h0M365.6 511.6h0M328.4 489.3h0M359.5 480.2h0M382.3 506.5h0M347.0 510.2h0M332.1 521.2h0M318.5 500.8h0M372.1 510.3h0M355.4 512.2h0M348.5 482.9h0M349.0 502.3h0M323.7 520.0h0M336.8 519.1h0M374.4 500.1h0M427.8 508.6h0M453.4 504.4h0M387.3 521.7h0M387.9 516.0h0M344.7 482.8h0M423.5 521.6h0M337.8 521.1h0M335.9 514.3h0M324.3 517.9h0M330.3 519.0h0M319.3 483.4h0M333.0 506.3h0M325.0 494.7h0M320.5 518.1h0M324.9 523.8h0M468.7 516.2h0M376.9 519.2h0M320.0 523.9h0M327.1 489.3h0M384.3 452.1h0M325.7 518.3h0M387.7 492.9h0M351.6 516.5h0M320.1 509.2h0M348.3 520.6h0M332.2 495.6h0M369.8 498.3h0M320.0 521.3h0M379.6 501.2h0M327.6 510.4h0M368.6 487.4h0M414.8 511.6h0M362.9 480.7h0M380.4 524.2h0M351.9 516.5h0M339.5 518.4h0M376.5 483.0h0M324.0 506.8h0M382.7 521.1h0M455.5 515.2h0M336.3 511.0h0M340.3 476.6h0M354.0 522.0h0M355.1 520.6h0M322.3 508.3h0M364.8 511.2h0M380.2 475.4h0M322.3 524.7h0M359.9 523.3h0M341.3 488.9h0M321.7 504.8h0M323.6 491.6h0M328.2 521.4h0M341.3 475.7h0M352.9 491.5h0M318.3 524.6h0M324.3 523.3h0M333.4 513.2h0M319.6 511.2h0M340.3 513.5h0M338.0 523.2h0M321.6 484.1h0M382.0 508.9h0M337.1 482.2h0M330.9 513.6h0M338.5 523.3h0M341.4 501.6h0M377.6 497.5h0M338.6 521.1h0M359.0 520.5h0M326.5 506.3h0M319.2 519.6h0M444.4 502.1h0M438.1 497.2h0M319.8 512.2h0M381.8 523.1h0M349.7 501.6h0M326.7 476.5h0M330.7 476.2h0M365.6 513.8h0M345.0 523.5h0M332.2 489.5h0M337.4 481.0h0M414.5 514.1h0M330.1 519.4h0M393.0 504.1h0M335.8 512.1h0M337.0 471.6h0M353.4 492.9h0M346.5 476.0h0M359.7 508.5h0M324.3 524.1h0M326.7 514.4h0M342.5 508.0h0M329.3 510.1h0M428.3 504.4h0M355.3 513.7h0M318.8 516.1h0M335.6 500.1h0M388.8 511.0h0M347.6 519.7h0M318.9 517.7h0M450.4 510.9h0M323.0 515.4h0M326.1 523.6h0M345.8 518.5h0M384.7 470.4h0M319.1 520.5h0M398.2 502.1h0M410.6 499.6h0M346.3 522.4h0M330.1 512.2h0M324.2 524.0h0M428.7 514.5h0M456.1 520.5h0M327.3 512.1h0M349.3 509.9h0M334.3 477.3h0M320.5 523.1h0M376.6 487.3h0M365.2 482.1h0M473.6 523.4h0M322.9 521.0h0M433.1 478.1h0M357.9 506.3h0M329.0 505.1h0M343.7 509.8h0M331.3 493.2h0M359.1 490.0h0M342.6 514.6h0M337.0 488.9h0M333.3 521.1h0M318.6 507.2h0M335.3 494.3h0M378.8 511.4h0M342.4 516.3h0M350.2 517.9h0M320.9 509.2h0M368.6 484.8h0M319.0 524.7h0M352.6 519.6h0M349.9 524.2h0M457.3 522.7h0M348.4 488.8h0M361.7 458.9h0M323.5 505.1h0M384.7 480.3h0M349.7 523.7h0M351.1 499.1h0M336.0 503.0h0M338.7 484.9h0M337.8 513.7h0M395.6 518.0h0M339.4 522.0h0M481.0 521.1h0M340.8 516.3h0M354.2 444.3h0M355.8 524.3h0M330.3 509.3h0M326.4 520.5h0M353.5 509.9h0M377.1 523.1h0M363.6 495.6h0M435.5 496.3h0M329.4 524.8h0M392.1 512.4h0M347.5 519.8h0M368.2 523.8h0M331.7 514.0h0M354.9 464.2h0M324.2 522.4h0M343.2 504.3h0M410.1 524.4h0M323.3 523.0h0M342.3 501.4h0M462.8 513.9h0M324.3 496.2h0M410.0 521.5h0M416.6 499.2h0M321.3 524.6h0M374.9 516.9h0M359.4 516.7h0M389.1 507.8h0M341.9 518.2h0M373.0 481.5h0M340.0 496.6h0M468.1 518.3h0M392.7 458.9h0M339.1 512.0h0M336.9 441.9h0M333.9 524.2h0M383.2 501.9h0M346.7 490.7h0M379.0 507.9h0M387.3 511.6h0M346.4 499.4h0M335.6 517.2h0M365.7 477.7h0M437.6 518.0h0M336.6 509.5h0M319.8 492.9h0M321.1 489.2h0M372.7 496.1h0M341.5 490.4h0M407.2 520.2h0M347.6 516.1h0M346.8 448.9h0M360.1 485.2h0M380.8 506.2h0M353.4 517.6h0M366.3 493.5h0M332.2 490.0h0M349.8 489.3h0M412.0 444.1h0M339.3 494.1h0M337.4 517.2h0M336.0 494.0h0M320.9 490.8h0M361.9 495.1h0M406.1 511.6h0M328.8 497.2h0M361.8 503.9h0M327.0 518.7h0M354.6 508.9h0M335.0 503.1h0M337.3 501.7h0M338.3 493.4h0M352.3 501.1h0M352.0 524.0h0M358.9 475.9h0M414.0 524.7h0M359.7 507.4h0M393.5 486.6h0M334.1 524.3h0M323.1 515.1h0M437.4 520.0h0M338.1 517.5h0M365.3 524.0h0M355.0 522.0h0M320.4 524.1h0M428.4 522.1h0M340.6 523.3h0M336.7 462.4h0M361.3 510.2h0M363.5 514.5h0M395.1 514.2h0M366.5 503.5h0M340.1 517.2h0M384.3 511.6h0M332.5 501.9h0M323.5 522.2h0M362.4 519.8h0M329.4 519.1h0M412.9 483.0h0M344.2 513.5h0M446.0 518.9h0M327.5 511.2h0M320.6 516.0h0M386.7 496.8h0M331.2 511.1h0M320.4 496.2h0M337.3 511.4h0M381.1 522.8h0M367.3 492.6h0M340.8 484.4h0M350.9 512.7h0M390.5 489.8h0M330.7 513.1h0M355.4 490.5h0M343.5 489.4h0M352.7 497.2h0M359.6 521.9h0M325.9 521.5h0M319.5 522.6h0M351.2 512.1h0M318.8 521.4h0M322.4 522.8h0M340.0 514.0h0M325.9 496.2h0M334.9 470.7h0M322.0 506.9h0M346.3 513.6h0M419.0 479.7h0M348.7 506.9h0M319.7 523.1h0M430.6 517.9h0M473.8 522.8h0M323.0 520.4h0M444.0 479.7h0M331.6 489.8h0M321.6 513.5h0M332.4 492.0h0M352.9 471.0h0M368.1 503.0h0M319.3 507.7h0M327.4 523.9h0M351.6 486.2h0M341.0 485.8h0M326.8 511.8h0M402.0 514.7h0M364.6 503.5h0M387.2 504.7h0M391.3 464.8h0M364.8 521.1h0M361.7 467.9h0M332.2 514.1h0M437.6 492.7h0M372.7 464.8h0M409.4 510.0h0M320.2 512.0h0M323.6 519.3h0M339.1 465.2h0M343.4 447.0h0M428.6 523.6h0M416.6 522.7h0M363.9 496.1h0M367.5 475.7h0M363.6 472.9h0M392.0 499.2h0M338.0 517.2h0M326.0 522.8h0M345.6 500.3h0M328.5 519.2h0M362.0 504.6h0M352.1 520.7h0M345.7 497.3h0M335.5 522.2h0M348.8 524.9h0M323.1 510.0h0M343.7 523.4h0M393.1 520.4h0M334.5 518.8h0M349.5 510.8h0M398.1 505.8h0M324.4 523.1h0M415.5 523.9h0M340.4 509.0h0M323.6 518.9h0M375.0 500.5h0M326.7 490.3h0M326.4 511.6h0M319.4 517.5h0M350.2 518.0h0M334.5 504.8h0M341.1 499.2h0M369.4 496.7h0M444.4 510.4h0M387.9 476.9h0M334.2 479.3h0M409.7 516.2h0M344.3 494.5h0M341.1 512.1h0M324.9 520.3h0M320.4 513.0h0M339.6 511.2h0M367.0 516.7h0M319.2 502.2h0M324.5 518.6h0M365.6 441.6h0M461.4 492.2h0M379.2 516.7h0M349.7 515.7h0M365.3 514.2h0M338.7 503.4h0M343.1 486.7h0M322.2 488.7h0M327.4 517.6h0M329.1 516.7h0M357.1 524.7h0M332.7 497.0h0M340.2 503.3h0M332.5 514.0h0M329.8 504.5h0M348.1 516.5h0M354.1 514.8h0M353.0 520.8h0M406.4 479.3h0M322.5 514.8h0M340.6 487.0h0M334.6 521.3h0M407.6 498.1h0M339.2 504.7h0M353.9 516.0h0M368.1 484.0h0M323.2 519.7h0M368.4 520.7h0M331.6 505.9h0M421.7 523.8h0M388.4 498.9h0M346.7 524.3h0M329.2 515.9h0M408.7 510.5h0M318.4 515.9h0M320.6 518.4h0M331.7 515.3h0M332.8 507.8h0M360.0 450.5h0M323.1 520.6h0M337.5 485.6h0M322.8 512.2h0M330.9 516.0h0M410.7 512.7h0M321.3 503.6h0M342.4 506.5h0M320.1 510.8h0M323.4 499.5h0M331.2 518.5h0M352.4 516.2h0M335.6 517.5h0M403.7 502.6h0M326.5 520.5h0M422.1 472.4h0M353.7 508.4h0M431.5 497.2h0M353.7 521.8h0M393.8 503.4h0M333.6 513.1h0M334.7 476.8h0M395.9 514.9h0M450.0 503.1h0M347.7 482.0h0M393.6 512.0h0M387.3 514.4h0M330.5 518.4h0M357.9 508.8h0M318.9 507.9h0M319.6 524.9h0M414.1 517.8h0M345.5 520.2h0M362.3 438.8h0M322.5 523.5h0M332.8 524.4h0M388.1 496.8h0M389.5 524.4h0M355.7 477.9h0M341.8 498.7h0M347.3 520.9h0M365.6 504.2h0M340.3 522.5h0M348.1 509.9h0M335.3 505.1h0M326.0 514.7h0M372.7 449.9h0M376.7 509.6h0M338.4 504.5h0M340.6 500.7h0M371.5 478.4h0M335.4 520.4h0M356.1 513.0h0M327.8 505.9h0M367.4 523.9h0M355.3 499.0h0M351.9 461.0h0M392.7 517.8h0M321.0 511.3h0M360.7 512.4h0M424.9 522.4h0M446.3 498.0h0M342.6 512.6h0M346.8 495.2h0M330.5 517.0h0M393.3 498.3h0M331.9 515.2h0M330.3 458.4h0M325.6 517.0h0M375.4 458.3h0M366.9 514.3h0M321.2 507.5h0M334.4 512.5h0M414.2 522.8h0M342.2 494.7h0M341.3 487.5h0M333.2 463.2h0M333.8 508.3h0M335.6 516.0h0M393.7 498.2h0M354.4 514.7h0M325.1 519.6h0M318.9 516.0h0M346.0 523.6h0M324.0 524.4h0M404.4 458.3h0M401.3 516.5h0M342.4 513.7h0M372.2 474.1h0M375.7 507.0h0M341.4 463.4h0M353.0 507.8h0M430.5 501.0h0M330.8 519.9h0M356.7 524.2h0M396.0 519.2h0M333.9 503.5h0M326.6 521.2h0M360.9 495.3h0M373.3 506.6h0M325.0 510.8h0M329.7 522.7h0M469.6 512.3h0M365.1 497.8h0M358.7 500.6h0M378.8 519.9h0M460.9 509.4h0M336.2 520.3h0M346.8 519.7h0M374.1 505.4h0M340.5 519.6h0M345.9 524.6h0M402.9 518.0h0M433.8 512.7h0M324.7 496.9h0M392.0 474.2h0M329.4 522.9h0M362.8 515.4h0M371.1 505.6h0M341.2 498.3h0M326.9 504.8h0M342.6 520.7h0M324.7 518.7h0M353.4 518.5h0M325.8 517.1h0M325.3 520.1h0M325.5 504.4h0M319.6 487.4h0M341.5 523.2h0M331.2 504.8h0M394.3 516.3h0M394.3 519.1h0M319.2 515.3h0M328.4 510.5h0M326.3 496.3h0M341.4 509.8h0M333.1 505.5h0M353.0 519.1h0M372.8 499.2h0M328.9 512.3h0M333.7 512.6h0M320.2 518.4h0M325.1 512.7h0M359.9 472.3h0M323.5 481.3h0M392.8 513.2h0M325.7 507.8h0M385.3 473.6h0M338.0 515.5h0M351.3 519.5h0M319.4 522.4h0M399.2 522.0h0M349.5 519.9h0M450.4 523.2h0M356.5 505.9h0M427.1 524.1h0M351.0 514.6h0M339.6 505.5h0M353.8 474.9h0M330.8 521.7h0M369.4 515.6h0M323.6 519.5h0M352.2 524.9h0M320.3 500.0h0M322.2 517.8h0M394.1 460.4h0M322.3 522.3h0M469.4 512.7h0M336.6 488.0h0M380.9 512.3h0M380.7 473.5h0M342.4 521.6h0M331.9 506.3h0M387.1 517.5h0M318.4 504.2h0M453.2 511.8h0M342.9 481.2h0M390.9 518.0h0M323.1 520.9h0M327.3 519.6h0M328.6 516.9h0M318.7 524.6h0M352.8 511.9h0M359.2 519.9h0M395.6 445.1h0M469.2 520.9h0M340.9 521.7h0M329.2 513.4h0M335.6 516.9h0M407.0 510.9h0M357.1 500.5h0M447.4 507.4h0M362.8 501.4h0M365.9 499.0h0M336.7 523.2h0M352.4 518.1h0M333.3 516.5h0M474.1 522.0h0M340.0 495.5h0M349.6 516.3h0M327.0 523.6h0M332.5 516.6h0M354.4 495.9h0M343.8 514.5h0M385.3 522.3h0M352.0 496.6h0M337.9 524.3h0M323.7 489.7h0M320.5 517.9h0M366.6 449.4h0M334.6 521.0h0M318.5 513.5h0M413.5 519.2h0M411.6 515.4h0M321.5 521.8h0M358.9 510.5h0M390.4 517.9h0M340.9 501.3h0M366.4 516.4h0M360.0 470.4h0M350.2 502.8h0M346.2 504.1h0M357.1 504.6h0M473.8 521.9h0M333.7 516.4h0M341.8 519.6h0M346.1 522.9h0M363.9 520.4h0M330.4 515.4h0M365.9 506.6h0M357.7 523.8h0M348.3 482.4h0M331.0 509.2h0M379.6 523.1h0M332.0 502.2h0M340.0 514.1h0M328.0 506.7h0M332.6 514.7h0M319.4 509.4h0M319.7 492.2h0M372.0 456.1h0M320.8 514.1h0M341.1 523.7h0M403.3 517.9h0M345.2 514.9h0M329.5 468.1h0M338.7 518.3h0M336.6 444.7h0M419.5 506.0h0M419.4 480.8h0M385.9 515.7h0M368.0 518.8h0M327.4 491.1h0M391.1 496.7h0M367.5 509.8h0M324.1 519.3h0M337.0 520.3h0M329.8 469.8h0M382.3 511.1h0M394.4 519.6h0M346.2 524.7h0M330.1 508.6h0M343.4 511.1h0M336.3 502.6h0M381.0 494.7h0M392.8 490.9h0M462.1 504.5h0M343.8 500.2h0M322.7 523.7h0M374.1 515.2h0M331.8 509.2h0M333.3 521.7h0M386.9 495.0h0M358.9 480.2h0M356.1 518.0h0M333.8 497.9h0M460.6 519.6h0M339.6 506.7h0M439.9 518.2h0M332.1 501.6h0M342.0 523.9h0M347.3 502.8h0M378.6 506.3h0M330.5 511.8h0M462.7 521.8h0M418.5 517.5h0M362.8 520.6h0M409.6 494.4h0M328.5 521.0h0M387.0 514.6h0M338.9 520.9h0M368.0 522.6h0M339.0 448.6h0M338.9 463.4h0M372.4 514.5h0M329.1 515.6h0M361.6 511.6h0M326.4 519.1h0M364.7 514.2h0M338.7 520.8h0M359.5 521.8h0M476.6 521.3h0M365.6 515.5h0M372.5 513.1h0M353.4 511.8h0M333.1 513.3h0M369.6 510.7h0M365.2 442.6h0M328.5 512.8h0M368.7 514.4h0M336.1 499.1h0M402.6 508.5h0M344.4 500.3h0M350.5 439.0h0M331.2 499.7h0M323.2 522.4h0M370.0 523.0h0M404.1 513.2h0M470.0 523.7h0M370.2 512.1h0M334.2 519.2h0M331.8 493.2h0M338.5 496.4h0M366.3 462.0h0M432.1 501.9h0M361.8 515.2h0M369.0 464.1h0M384.6 470.4h0M419.3 496.8h0M322.2 517.5h0M321.5 505.4h0M329.0 503.4h0M350.2 517.5h0M440.2 520.3h0M343.7 482.4h0M364.8 523.5h0M338.0 522.4h0M320.2 521.1h0M322.1 520.6h0M354.9 518.0h0M349.0 507.7h0M323.2 524.9h0M426.8 511.5h0M327.2 520.6h0M361.7 486.6h0M473.2 521.8h0M336.6 513.1h0M471.6 518.9h0M334.8 519.9h0M372.1 517.3h0M343.5 523.0h0M419.3 516.0h0M365.2 469.8h0M328.1 502.8h0M357.5 510.4h0M376.9 497.6h0M366.6 514.1h0M348.5 496.3h0M322.9 520.9h0M325.8 490.2h0M357.8 482.5h0M321.1 521.8h0M356.8 472.7h0M329.5 488.2h0M372.4 515.3h0M374.4 498.6h0M329.2 523.8h0M422.3 524.1h0M422.5 519.0h0M386.7 519.1h0M367.6 521.8h0M399.0 519.3h0M341.9 516.6h0M330.9 479.5h0M322.5 516.4h0M318.7 523.2h0M328.1 515.0h0M461.3 508.0h0M367.8 477.3h0M331.8 515.5h0M348.8 520.9h0M346.7 509.3h0M350.7 513.9h0M357.1 503.3h0M389.3 515.4h0M397.7 511.2h0M319.0 518.5h0M329.8 522.7h0M396.2 455.4h0M365.8 513.6h0M318.3 523.0h0M326.2 511.5h0M321.3 513.6h0M322.8 519.4h0M347.8 516.3h0M348.1 511.3h0M396.1 522.1h0M360.6 521.8h0M318.7 522.6h0M332.1 490.2h0M324.9 502.7h0M343.6 517.4h0M390.6 523.3h0M369.9 511.4h0M326.9 510.0h0M374.3 523.8h0M343.7 487.6h0M379.8 463.7h0M449.4 506.9h0M324.8 508.2h0M355.1 482.5h0M326.3 523.3h0M347.2 515.0h0M363.3 505.1h0M320.9 483.9h0M358.5 479.8h0M376.4 524.1h0M319.3 502.3h0M339.0 514.9h0M396.3 522.0h0M327.8 505.4h0M330.5 511.5h0M341.0 487.4h0M319.3 519.2h0M320.0 469.8h0M401.3 483.8h0M419.5 480.5h0M348.7 506.7h0M471.5 514.9h0M377.9 486.1h0M332.6 511.6h0M466.7 514.0h0M363.7 501.3h0M411.2 467.2h0M360.9 520.5h0M349.3 493.9h0M333.6 495.7h0M326.8 521.9h0M335.9 517.6h0M331.9 523.9h0M366.2 460.0h0M335.2 524.4h0M437.1 489.1h0M376.0 496.9h0M338.6 487.0h0M364.5 523.4h0M362.7 519.3h0M320.4 508.0h0M331.5 506.6h0M374.7 505.8h0M324.7 483.2h0M327.1 520.8h0M469.7 523.3h0M349.9 493.6h0M382.4 524.3h0M415.8 498.9h0M328.3 510.0h0M369.1 479.4h0M356.8 524.3h0M328.5 524.7h0M327.4 512.5h0M324.6 516.9h0M382.9 481.5h0M337.5 518.1h0M436.2 510.3h0M330.8 519.9h0M341.5 493.4h0M324.7 521.7h0M380.1 498.9h0M388.1 510.8h0M318.5 514.1h0M331.1 521.3h0M343.0 520.3h0M364.5 523.9h0M323.0 502.4h0M366.6 467.0h0M395.4 509.3h0M325.8 523.7h0M323.3 520.4h0M353.4 499.3h0M394.4 506.6h0M327.6 521.4h0M328.0 524.5h0M388.1 493.7h0M319.3 512.7h0M369.4 516.7h0M325.2 508.0h0M418.3 520.4h0M349.8 511.4h0M347.8 522.5h0M341.3 522.3h0M351.0 507.7h0M336.3 460.5h0M333.4 515.5h0M396.1 508.5h0M348.9 511.2h0M326.5 523.5h0M477.3 520.2h0M344.0 520.2h0M412.1 515.3h0M375.8 459.5h0M341.7 508.1h0M345.8 519.3h0M381.1 504.7h0M333.6 500.9h0M381.5 505.5h0M326.4 500.0h0M383.3 504.4h0M326.2 499.0h0M319.1 518.8h0M369.3 483.4h0M430.9 520.3h0M323.8 523.5h0M455.9 518.8h0M320.8 512.2h0M328.0 522.8h0M350.7 507.7h0M371.5 522.0h0M349.0 513.2h0M337.8 522.7h0M373.3 501.0h0M361.4 520.4h0M422.3 514.4h0M331.1 465.0h0M340.4 522.6h0M357.0 519.4h0M333.6 508.6h0M340.5 512.6h0M342.6 515.8h0M330.9 486.2h0M349.6 462.1h0M375.5 506.6h0M409.3 474.2h0M340.9 517.4h0M326.3 517.4h0M338.8 524.3h0M336.0 524.0h0M346.1 464.9h0M401.6 524.5h0M320.9 501.9h0M335.4 501.8h0M351.1 522.1h0M352.5 499.4h0M416.8 493.1h0M334.7 518.1h0M388.1 523.4h0M345.5 524.6h0M320.5 517.5h0M318.3 497.6h0M351.6 471.0h0M368.1 523.9h0M325.1 510.2h0M333.3 508.9h0M350.7 520.8h0M371.0 515.2h0M324.8 521.5h0M341.2 505.6h0M329.9 516.9h0M326.2 523.6h0M318.5 524.3h0M346.0 494.8h0M340.1 518.1h0M320.6 523.0h0M328.2 523.4h0M358.8 510.2h0M368.4 497.1h0M382.5 520.0h0M320.1 519.3h0M332.9 521.8h0M412.5 490.2h0M397.1 519.7h0M410.6 507.8h0M435.1 516.5h0M452.1 487.5h0M329.0 524.6h0M427.0 489.4h0M452.2 489.4h0M331.9 520.0h0M437.3 515.4h0M391.8 478.0h0M337.4 512.8h0M433.5 492.7h0M327.6 489.5h0M354.1 491.0h0M343.1 503.4h0M342.8 494.6h0M408.7 498.0h0M352.2 509.4h0M330.8 506.2h0M318.6 523.1h0M356.2 516.2h0M321.8 512.8h0M342.1 517.2h0M329.5 517.8h0M371.3 519.6h0M332.2 494.2h0M424.0 519.8h0M322.7 518.6h0M372.0 500.5h0M338.3 519.3h0M354.5 521.0h0M332.0 490.0h0M334.8 501.8h0M318.9 487.6h0M361.0 524.2h0M383.4 513.6h0M363.0 517.9h0M366.9 497.1h0M367.3 457.8h0M382.8 505.0h0M328.3 518.9h0M441.8 520.0h0M429.1 491.2h0M391.7 524.7h0M321.1 521.5h0M401.4 486.9h0M346.7 516.9h0M320.4 487.8h0M469.3 523.4h0M394.4 523.5h0M328.1 505.6h0M371.1 520.8h0M385.1 523.2h0M384.5 520.7h0M363.8 513.1h0M325.2 515.9h0M351.4 524.7h0M321.5 522.6h0M335.3 484.4h0M357.7 501.2h0M467.2 514.6h0M336.2 507.4h0M399.0 520.5h0M347.7 511.1h0M319.4 522.2h0M326.0 484.3h0M345.2 502.3h0M401.3 510.8h0M423.5 488.5h0M325.0 523.2h0M324.3 518.9h0M341.0 475.6h0M342.1 515.4h0M338.7 524.8h0M330.8 500.7h0M367.4 514.0h0M355.8 509.1h0M347.0 514.5h0M342.1 484.6h0M344.1 468.3h0M324.5 524.8h0M344.5 524.7h0M325.3 516.2h0M333.6 518.7h0M336.4 509.8h0M328.8 506.9h0M318.9 512.8h0M413.4 491.6h0M364.3 490.3h0M378.0 471.5h0M320.4 509.9h0M385.9 510.8h0M318.9 487.6h0M328.8 523.1h0M432.3 494.3h0M331.8 520.6h0M356.0 507.4h0M355.5 462.2h0M319.1 511.7h0M471.2 519.6h0M344.1 505.5h0M359.0 476.7h0M412.7 503.7h0M325.6 520.0h0M364.6 457.6h0M323.5 511.2h0M319.0 523.4h0M322.8 514.8h0M324.0 497.0h0M331.2 518.9h0M319.8 516.6h0M339.3 522.3h0M328.1 508.2h0M334.3 522.8h0M337.4 498.1h0M329.9 504.6h0M328.1 473.4h0M422.5 519.2h0M344.4 496.1h0M410.0 515.3h0M395.9 510.4h0M326.3 492.5h0M375.6 523.6h0M348.8 512.8h0M399.5 518.7h0M328.4 514.6h0M417.4 513.7h0M343.5 521.1h0M338.8 521.2h0M334.7 479.7h0M346.2 524.2h0M349.2 522.5h0M345.5 516.7h0M374.6 523.6h0M320.4 513.5h0M352.8 516.2h0M371.9 509.4h0M329.3 515.3h0M318.4 505.7h0M439.2 516.1h0M331.4 516.7h0M334.8 509.9h0M370.8 521.5h0M328.0 522.9h0M410.4 496.4h0M353.3 516.2h0M362.7 475.6h0M381.7 508.7h0M411.8 503.2h0M334.1 511.9h0M329.0 510.0h0M335.5 510.9h0M334.8 506.5h0M334.0 514.1h0M350.1 502.4h0M343.2 504.1h0M331.0 523.9h0M319.5 496.1h0M322.4 523.9h0M385.1 479.4h0M380.0 518.1h0M325.7 514.2h0M349.8 509.7h0M321.8 510.9h0M325.3 523.0h0M408.9 474.2h0M424.4 506.4h0M321.4 510.7h0M324.6 519.2h0M435.6 519.0h0M388.6 508.7h0M339.2 481.4h0M363.7 476.5h0M324.1 494.7h0M353.0 512.2h0M337.1 520.8h0M327.0 524.1h0M378.0 461.6h0M328.3 500.3h0M329.8 513.8h0M329.0 506.0h0M384.3 488.2h0M345.1 508.0h0M424.0 469.7h0M345.8 524.4h0M334.9 524.7h0M342.8 519.2h0M409.6 517.3h0M346.5 518.1h0M350.7 507.8h0M321.2 513.1h0M327.2 486.5h0M412.3 511.3h0M377.0 499.7h0M338.1 502.4h0M355.6 514.9h0M336.6 515.1h0M342.9 518.6h0M360.0 509.8h0M350.4 502.9h0M339.9 517.0h0M349.5 472.6h0M363.7 516.0h0M385.3 480.3h0M346.8 502.2h0M351.5 520.7h0M356.6 519.6h0M350.2 515.8h0M329.1 522.8h0M477.1 523.6h0M323.2 503.6h0M404.5 443.0h0M342.9 524.8h0M354.7 481.1h0M329.0 503.9h0M371.3 492.2h0M331.2 523.3h0M333.4 497.7h0M318.6 516.5h0M325.6 521.7h0M375.9 481.5h0M334.2 522.3h0M328.0 519.5h0M467.8 522.2h0M377.5 523.0h0M404.7 521.2h0M326.9 471.7h0M339.9 514.1h0M328.0 519.0h0M330.5 523.5h0M339.0 524.3h0M458.6 516.2h0M327.3 498.7h0M474.9 519.2h0M327.8 512.0h0M322.5 497.7h0M324.9 506.2h0M319.9 523.3h0M338.4 523.5h0M350.7 475.7h0M417.6 512.2h0M362.4 511.9h0M351.9 512.8h0M399.3 457.9h0M333.7 520.9h0M347.7 499.1h0M422.8 518.8h0M320.7 520.0h0M404.7 480.8h0M373.3 512.9h0M448.0 515.3h0M325.1 514.1h0M334.7 510.9h0M404.4 480.3h0M327.4 515.5h0M335.6 519.8h0M438.7 481.3h0M347.6 514.1h0M355.2 519.9h0M320.3 515.2h0M360.9 512.2h0M341.6 515.9h0M321.1 480.6h0M351.4 510.1h0M324.9 509.1h0M322.9 523.2h0M369.4 482.8h0M321.1 516.9h0M371.0 488.3h0M371.6 521.1h0M344.6 523.5h0M351.4 501.8h0M399.0 501.3h0M333.0 522.0h0M398.7 474.1h0M325.1 522.2h0M350.7 472.3h0M329.2 488.8h0M330.5 490.9h0M328.7 484.6h0M409.5 500.8h0M326.1 506.7h0M321.3 521.8h0M379.5 500.5h0M337.8 519.0h0M342.9 500.6h0M394.5 516.9h0M355.1 508.5h0M350.4 487.2h0M389.2 522.9h0M329.6 500.6h0M359.0 504.8h0M345.5 515.8h0M382.9 499.2h0M356.4 510.2h0M403.8 487.6h0M361.5 522.5h0M327.6 520.0h0M364.6 524.6h0M358.7 518.9h0M362.2 520.0h0M370.9 523.8h0M410.9 436.8h0M375.5 509.4h0M350.8 465.5h0M327.8 517.1h0M388.5 502.1h0M350.7 509.3h0M390.6 511.9h0M325.6 486.6h0M320.6 518.6h0M339.8 519.3h0M324.7 515.1h0M342.2 512.3h0M325.8 513.7h0M364.8 496.7h0M337.0 510.3h0M330.7 510.1h0M397.9 452.0h0M356.1 517.7h0M402.1 511.8h0M352.1 522.5h0M327.8 503.0h0M322.2 469.8h0M326.0 512.7h0M405.4 522.9h0M380.5 524.0h0M439.1 516.2h0M349.8 508.0h0M321.2 512.8h0M347.9 513.9h0M372.1 521.3h0M332.7 503.9h0M358.2 523.3h0M363.8 521.8h0M366.3 519.1h0M324.8 524.7h0M319.2 496.4h0M318.9 524.3h0M340.4 521.2h0M389.9 504.3h0M324.9 523.1h0M327.6 513.3h0M364.1 503.4h0M365.1 506.8h0M338.9 523.8h0M351.8 473.4h0M382.3 515.0h0M356.7 523.6h0M344.0 521.8h0M318.9 519.1h0M441.1 512.9h0M332.5 499.4h0M328.1 517.3h0M356.9 495.3h0M373.1 522.6h0M318.7 514.7h0M344.8 521.0h0M328.3 517.5h0M347.6 487.5h0M321.0 524.2h0M327.7 518.0h0M325.6 514.4h0M321.4 505.6h0M351.8 477.2h0M341.9 508.8h0M329.1 524.0h0M326.7 508.9h0M344.9 514.7h0M356.1 514.0h0M472.8 523.2h0M359.7 496.6h0M391.3 507.0h0M333.3 499.4h0M337.4 487.9h0M324.2 524.5h0M401.0 494.6h0M467.5 522.9h0M324.6 488.9h0M373.7 499.0h0M362.6 495.6h0M362.1 519.7h0M366.6 516.0h0M348.0 521.5h0M333.7 522.7h0M338.1 501.0h0M395.4 508.1h0M357.8 506.2h0M338.8 506.0h0M405.8 504.2h0M452.4 516.3h0M392.7 524.9h0M348.6 520.4h0M339.5 498.1h0M356.9 481.3h0M370.0 505.3h0M333.4 514.5h0M320.3 502.1h0M467.6 523.9h0M336.8 522.4h0M387.9 509.0h0M331.8 523.0h0M347.2 524.2h0M321.5 505.1h0M415.9 512.8h0M373.8 523.5h0M320.3 489.1h0M415.4 524.0h0M361.0 479.1h0M424.6 499.6h0M382.2 493.4h0M318.8 517.9h0M383.5 499.6h0M355.6 524.8h0M329.1 507.2h0M423.4 500.7h0M361.1 518.9h0M355.2 513.7h0M368.6 517.1h0M326.1 512.9h0M323.2 524.5h0M336.3 517.4h0M368.0 489.8h0M364.9 502.7h0M366.7 520.5h0M363.2 523.9h0M325.8 523.6h0M349.8 517.9h0M377.2 523.5h0M356.8 463.1h0M537.0 152.3h0M403.2 244.0h0M511.2 253.0h0M368.8 313.5h0M396.7 323.0h0M375.3 335.8h0M377.5 335.0h0M470.5 347.4h0M463.2 361.1h0M350.8 358.6h0M380.0 377.9h0M425.9 380.4h0M365.4 401.4h0M570.4 416.0h0M498.4 433.2h0M352.0 412.0h0M361.0 417.0h0M370.0 417.0h0M347.0 421.0h0M379.0 424.0h0M414.0 417.0h0M425.0 417.0h0M436.0 418.0h0M431.0 423.0h0M406.0 431.0h0M372.0 428.0h0M410.0 441.0h0M415.0 444.0h0M404.0 442.0h0M475.0 470.0h0M470.0 474.0h0M465.0 480.0h0M496.0 481.0h0M487.0 491.0h0M472.0 500.0h0M476.0 506.0h0M495.0 511.0h0M510.0 511.0h0M497.0 522.0h0M508.0 522.0h0M474.0 514.0h0M466.0 500.0h0M458.0 488.0h0M450.0 486.0h0M444.0 484.0h0" fill="none" stroke="#dc0a3c" stroke-width="4.4" stroke-linecap="round" opacity="1"/>
<line x1="123.0" x2="588.7" y1="525.2" y2="525.2" stroke="#111" stroke-width="1.6" stroke-dasharray="7 2.4 2 2.4"/>
<line x1="274.3" x2="274.3" y1="134.8" y2="546.8" stroke="#000" stroke-width="4" stroke-dasharray="4 9.6" stroke-dashoffset="3"/>
<line x1="318.3" x2="318.3" y1="134.8" y2="546.8" stroke="#000" stroke-width="4" stroke-dasharray="4 9.6" stroke-dashoffset="3"/>
<line x1="592.2" x2="592.2" y1="134.8" y2="546.8" stroke="#999" stroke-width="1.5"/>
<line x1="122.2" x2="593.0" y1="134.8" y2="134.8" stroke="#3a3a3a" stroke-width="1.8"/>
<line x1="123.0" x2="123.0" y1="134.8" y2="546.8" stroke="#3a3a3a" stroke-width="1.7"/>
<line x1="122.4" x2="593.3" y1="546.8" y2="546.8" stroke="#000" stroke-width="2.2"/>
<line x1="118.0" x2="123.0" y1="272.3" y2="272.3" stroke="#333" stroke-width="1.8"/>
<text x="115.5" y="277.7" class="dv" font-size="15.3" fill="#3a3a3a" stroke="#3a3a3a" stroke-width="0.4" text-anchor="end">70</text>
<line x1="118.0" x2="123.0" y1="401.0" y2="401.0" stroke="#333" stroke-width="1.8"/>
<text x="115.5" y="406.4" class="dv" font-size="15.3" fill="#3a3a3a" stroke="#3a3a3a" stroke-width="0.4" text-anchor="end">35</text>
<line x1="118.0" x2="123.0" y1="524.9" y2="524.9" stroke="#333" stroke-width="1.8"/>
<text x="115.5" y="530.3" class="dv" font-size="15.3" fill="#3a3a3a" stroke="#3a3a3a" stroke-width="0.4" text-anchor="end">1.3</text>
<line x1="118.0" x2="123.0" y1="529.7" y2="529.7" stroke="#333" stroke-width="1.8"/>
<text x="115.5" y="535.1" class="dv" font-size="15.3" fill="#3a3a3a" stroke="#3a3a3a" stroke-width="0.4" text-anchor="end">0</text>
<line x1="184.5" x2="184.5" y1="546.8" y2="551.8" stroke="#333" stroke-width="1.8"/>
<text x="184.5" y="567.6" class="dv" font-size="15.3" fill="#3a3a3a" stroke="#3a3a3a" stroke-width="0.4" text-anchor="middle">-5</text>
<line x1="296.0" x2="296.0" y1="546.8" y2="551.8" stroke="#333" stroke-width="1.8"/>
<text x="296.0" y="567.6" class="dv" font-size="15.3" fill="#3a3a3a" stroke="#3a3a3a" stroke-width="0.4" text-anchor="middle">0</text>
<line x1="407.5" x2="407.5" y1="546.8" y2="551.8" stroke="#333" stroke-width="1.8"/>
<text x="407.5" y="567.6" class="dv" font-size="15.3" fill="#3a3a3a" stroke="#3a3a3a" stroke-width="0.4" text-anchor="middle">5</text>
<line x1="519.0" x2="519.0" y1="546.8" y2="551.8" stroke="#333" stroke-width="1.8"/>
<text x="519.0" y="567.6" class="dv" font-size="15.3" fill="#3a3a3a" stroke="#3a3a3a" stroke-width="0.4" text-anchor="middle">10</text>
<text x="357" y="118" class="dv" font-size="21" fill="#222" stroke="#222" stroke-width="0.7" text-anchor="middle" textLength="97" lengthAdjust="spacingAndGlyphs">MP vs CK</text>
<text x="282" y="589" class="dv" font-size="18" fill="#222" stroke="#222" stroke-width="0.6" textLength="151" lengthAdjust="spacingAndGlyphs">log<tspan font-size="11" dy="4">2</tspan><tspan dy="-4">(fold change)</tspan></text>
<text transform="translate(82 401) rotate(-90)" class="dv" font-size="18" font-weight="bold" fill="#222" textLength="121" lengthAdjust="spacingAndGlyphs">−log<tspan font-size="11" dy="4">10</tspan><tspan dy="-4">(pval)</tspan></text>
<text x="617.6" y="310" class="dv" font-size="17.5" fill="#333" stroke="#333" stroke-width="0.3" textLength="115" lengthAdjust="spacingAndGlyphs">DEG ( 2377 )</text>
<rect x="616.8" y="323.8" width="28.7" height="60.1" fill="#f2f2f2"/>
<circle cx="631" cy="339" r="1.9" fill="#dc0a3c"/><circle cx="631" cy="369.5" r="1.9" fill="#5a9b6e"/>
<text x="654.9" y="343.8" class="dv" font-size="13.5" fill="#333" stroke="#333" stroke-width="0.35" textLength="64.4" lengthAdjust="spacingAndGlyphs">UP: 1606</text>
<text x="654.9" y="374.3" class="dv" font-size="13.5" fill="#333" stroke="#333" stroke-width="0.35" textLength="81.9" lengthAdjust="spacingAndGlyphs">DOWN: 771</text>
</g>
<g id="panelB">
<defs><linearGradient id="cb" x1="0" x2="1" y1="0" y2="0"><stop offset="0" stop-color="#dd0000"/><stop offset="0.5" stop-color="#ffffff"/><stop offset="1" stop-color="#0000ff"/></linearGradient></defs>
<rect x="804.3" y="133.9" width="318.3" height="19.8" fill="url(#cb)"/>
<text transform="translate(816.5 126) rotate(-90)" class="ls" font-size="25" fill="#2a2a2a" stroke="#2a2a2a" stroke-width="0.3" textLength="27.1" lengthAdjust="spacingAndGlyphs">1.5</text>
<text transform="translate(868.2 126) rotate(-90)" class="ls" font-size="25" fill="#2a2a2a" stroke="#2a2a2a" stroke-width="0.3" textLength="10.8" lengthAdjust="spacingAndGlyphs">1</text>
<text transform="translate(921.8 126) rotate(-90)" class="ls" font-size="25" fill="#2a2a2a" stroke="#2a2a2a" stroke-width="0.3" textLength="27.1" lengthAdjust="spacingAndGlyphs">0.5</text>
<text transform="translate(974.0 126) rotate(-90)" class="ls" font-size="25" fill="#2a2a2a" stroke="#2a2a2a" stroke-width="0.3" textLength="10.8" lengthAdjust="spacingAndGlyphs">0</text>
<text transform="translate(1026.2 126) rotate(-90)" class="ls" font-size="25" fill="#2a2a2a" stroke="#2a2a2a" stroke-width="0.3" textLength="33.6" lengthAdjust="spacingAndGlyphs">-0.5</text>
<text transform="translate(1078.4 126) rotate(-90)" class="ls" font-size="25" fill="#2a2a2a" stroke="#2a2a2a" stroke-width="0.3" textLength="17.3" lengthAdjust="spacingAndGlyphs">-1</text>
<text transform="translate(1132.0 126) rotate(-90)" class="ls" font-size="25" fill="#2a2a2a" stroke="#2a2a2a" stroke-width="0.3" textLength="33.6" lengthAdjust="spacingAndGlyphs">-1.5</text>
<g shape-rendering="crispEdges">
<rect x="804.45" y="163.40" width="4.75" height="72.30" fill="#6868ff"/>
<rect x="808.91" y="163.40" width="3.33" height="72.30" fill="#4444ff"/>
<rect x="811.94" y="163.40" width="3.33" height="72.30" fill="#2626ff"/>
<rect x="814.97" y="163.40" width="3.33" height="72.30" fill="#4141ff"/>
<rect x="817.99" y="163.40" width="3.33" height="72.30" fill="#2f2fff"/>
<rect x="821.02" y="163.40" width="3.33" height="72.30" fill="#2f2fff"/>
<rect x="824.05" y="163.40" width="2.97" height="72.30" fill="#a4a4ff"/>
<rect x="826.72" y="163.40" width="2.97" height="72.30" fill="#8383ff"/>
<rect x="829.40" y="163.40" width="3.33" height="72.30" fill="#a5a5ff"/>
<rect x="832.42" y="163.40" width="3.33" height="72.30" fill="#b6b6ff"/>
<rect x="835.45" y="163.40" width="3.33" height="72.30" fill="#bebeff"/>
<rect x="838.48" y="163.40" width="3.33" height="72.30" fill="#a5a5ff"/>
<rect x="841.51" y="163.40" width="3.33" height="72.30" fill="#b3b3ff"/>
<rect x="844.54" y="163.40" width="3.64" height="72.30" fill="#6d6dff"/>
<rect x="847.88" y="163.40" width="3.64" height="72.30" fill="#7878ff"/>
<rect x="851.22" y="163.40" width="3.64" height="72.30" fill="#7777ff"/>
<rect x="854.56" y="163.40" width="3.64" height="72.30" fill="#6666ff"/>
<rect x="857.90" y="163.40" width="3.57" height="72.30" fill="#b2b2ff"/>
<rect x="861.17" y="163.40" width="3.57" height="72.30" fill="#afafff"/>
<rect x="864.43" y="163.40" width="3.57" height="72.30" fill="#d3d3ff"/>
<rect x="867.70" y="163.40" width="3.27" height="72.30" fill="#9595ff"/>
<rect x="870.67" y="163.40" width="3.27" height="72.30" fill="#9292ff"/>
<rect x="873.64" y="163.40" width="3.27" height="72.30" fill="#9a9aff"/>
<rect x="876.61" y="163.40" width="3.86" height="72.30" fill="#9494ff"/>
<rect x="880.17" y="163.40" width="3.86" height="72.30" fill="#b1b1ff"/>
<rect x="883.73" y="163.40" width="3.27" height="72.30" fill="#f9f9ff"/>
<rect x="886.70" y="163.40" width="3.27" height="72.30" fill="#fef7f7"/>
<rect x="889.67" y="163.40" width="3.27" height="72.30" fill="#dbdbff"/>
<rect x="892.64" y="163.40" width="4.75" height="72.30" fill="#c2c2ff"/>
<rect x="897.10" y="163.40" width="3.42" height="72.30" fill="#c0c0ff"/>
<rect x="900.21" y="163.40" width="3.42" height="72.30" fill="#e9e9ff"/>
<rect x="903.33" y="163.40" width="3.86" height="72.30" fill="#4b4bff"/>
<rect x="906.89" y="163.40" width="3.86" height="72.30" fill="#5959ff"/>
<rect x="910.46" y="163.40" width="3.27" height="72.30" fill="#b0b0ff"/>
<rect x="913.43" y="163.40" width="3.27" height="72.30" fill="#6b6bff"/>
<rect x="916.40" y="163.40" width="3.27" height="72.30" fill="#aaaaff"/>
<rect x="919.37" y="163.40" width="3.51" height="72.30" fill="#7979ff"/>
<rect x="922.57" y="163.40" width="3.51" height="72.30" fill="#6d6dff"/>
<rect x="925.78" y="163.40" width="3.51" height="72.30" fill="#7b7bff"/>
<rect x="928.99" y="163.40" width="3.51" height="72.30" fill="#7c7cff"/>
<rect x="932.19" y="163.40" width="3.51" height="72.30" fill="#8686ff"/>
<rect x="935.40" y="163.40" width="2.97" height="72.30" fill="#f29e9e"/>
<rect x="938.07" y="163.40" width="2.97" height="72.30" fill="#f3a5a5"/>
<rect x="940.74" y="163.40" width="3.27" height="72.30" fill="#f6f6ff"/>
<rect x="943.71" y="163.40" width="3.27" height="72.30" fill="#ececff"/>
<rect x="946.68" y="163.40" width="3.27" height="72.30" fill="#fef9f9"/>
<rect x="949.65" y="163.40" width="3.86" height="72.30" fill="#fbdfdf"/>
<rect x="953.22" y="163.40" width="3.86" height="72.30" fill="#f5b2b2"/>
<rect x="956.78" y="163.40" width="3.27" height="72.30" fill="#f9cfcf"/>
<rect x="959.75" y="163.40" width="3.27" height="72.30" fill="#f6bebe"/>
<rect x="962.72" y="163.40" width="3.27" height="72.30" fill="#f6bbbb"/>
<rect x="965.69" y="163.40" width="2.97" height="72.30" fill="#e2e2ff"/>
<rect x="968.36" y="163.40" width="2.97" height="72.30" fill="#f5b4b4"/>
<rect x="971.03" y="163.40" width="3.51" height="72.30" fill="#aaaaff"/>
<rect x="974.24" y="163.40" width="3.51" height="72.30" fill="#e3e3ff"/>
<rect x="977.45" y="163.40" width="3.51" height="72.30" fill="#ddddff"/>
<rect x="980.65" y="163.40" width="3.51" height="72.30" fill="#fce7e7"/>
<rect x="983.86" y="163.40" width="3.51" height="72.30" fill="#b6b6ff"/>
<rect x="987.07" y="163.40" width="3.27" height="72.30" fill="#f8cece"/>
<rect x="990.04" y="163.40" width="3.27" height="72.30" fill="#fffefe"/>
<rect x="993.00" y="163.40" width="3.27" height="72.30" fill="#fdefef"/>
<rect x="995.97" y="163.40" width="3.27" height="72.30" fill="#d4d4ff"/>
<rect x="998.94" y="163.40" width="3.27" height="72.30" fill="#f6f6ff"/>
<rect x="1001.91" y="163.40" width="3.27" height="72.30" fill="#c8c8ff"/>
<rect x="1004.88" y="163.40" width="3.27" height="72.30" fill="#e3e3ff"/>
<rect x="1007.85" y="163.40" width="3.27" height="72.30" fill="#efefff"/>
<rect x="1010.82" y="163.40" width="3.27" height="72.30" fill="#fce8e8"/>
<rect x="1013.79" y="163.40" width="3.35" height="72.30" fill="#8787ff"/>
<rect x="1016.84" y="163.40" width="3.35" height="72.30" fill="#e3e3ff"/>
<rect x="1019.90" y="163.40" width="3.35" height="72.30" fill="#d6d6ff"/>
<rect x="1022.95" y="163.40" width="3.35" height="72.30" fill="#b4b4ff"/>
<rect x="1026.01" y="163.40" width="3.35" height="72.30" fill="#c6c6ff"/>
<rect x="1029.06" y="163.40" width="3.35" height="72.30" fill="#b4b4ff"/>
<rect x="1032.11" y="163.40" width="3.35" height="72.30" fill="#e6e6ff"/>
<rect x="1035.17" y="163.40" width="3.86" height="72.30" fill="#8484ff"/>
<rect x="1038.73" y="163.40" width="3.86" height="72.30" fill="#7b7bff"/>
<rect x="1042.29" y="163.40" width="3.86" height="72.30" fill="#7b7bff"/>
<rect x="1045.86" y="163.40" width="3.86" height="72.30" fill="#7c7cff"/>
<rect x="1049.42" y="163.40" width="3.86" height="72.30" fill="#9595ff"/>
<rect x="1052.98" y="163.40" width="3.86" height="72.30" fill="#8787ff"/>
<rect x="1056.55" y="163.40" width="3.86" height="72.30" fill="#c4c4ff"/>
<rect x="1060.11" y="163.40" width="3.86" height="72.30" fill="#7171ff"/>
<rect x="1063.67" y="163.40" width="3.86" height="72.30" fill="#7474ff"/>
<rect x="1067.24" y="163.40" width="3.86" height="72.30" fill="#c9c9ff"/>
<rect x="1070.80" y="163.40" width="3.86" height="72.30" fill="#c8c8ff"/>
<rect x="1074.36" y="163.40" width="3.86" height="72.30" fill="#d5d5ff"/>
<rect x="1077.93" y="163.40" width="3.86" height="72.30" fill="#aeaeff"/>
<rect x="1081.49" y="163.40" width="3.86" height="72.30" fill="#afafff"/>
<rect x="1085.05" y="163.40" width="3.86" height="72.30" fill="#babaff"/>
<rect x="1088.62" y="163.40" width="3.42" height="72.30" fill="#e85555"/>
<rect x="1091.73" y="163.40" width="3.42" height="72.30" fill="#ec6e6e"/>
<rect x="1094.85" y="163.40" width="2.88" height="72.30" fill="#dcdcff"/>
<rect x="1097.43" y="163.40" width="2.88" height="72.30" fill="#fce6e6"/>
<rect x="1100.00" y="163.40" width="2.08" height="72.30" fill="#f3f3ff"/>
<rect x="1101.78" y="163.40" width="2.97" height="72.30" fill="#e43333"/>
<rect x="1104.45" y="163.40" width="2.97" height="72.30" fill="#de0808"/>
<rect x="1107.13" y="163.40" width="2.97" height="72.30" fill="#e11c1c"/>
<rect x="1109.80" y="163.40" width="3.42" height="72.30" fill="#f8cdcd"/>
<rect x="1112.92" y="163.40" width="3.42" height="72.30" fill="#fadbdb"/>
<rect x="1116.03" y="163.40" width="3.42" height="72.30" fill="#f6b8b8"/>
<rect x="1119.15" y="163.40" width="3.42" height="72.30" fill="#f9d3d3"/>
<rect x="1122.27" y="163.40" width="3.42" height="72.30" fill="#8383ff"/>
<rect x="1125.39" y="163.40" width="3.42" height="72.30" fill="#7e7eff"/>
<rect x="1128.51" y="163.40" width="3.86" height="72.30" fill="#ccccff"/>
<rect x="1132.07" y="163.40" width="3.86" height="72.30" fill="#f5f5ff"/>
<rect x="1135.63" y="163.40" width="3.51" height="72.30" fill="#9090ff"/>
<rect x="1138.84" y="163.40" width="3.51" height="72.30" fill="#7b7bff"/>
<rect x="1142.05" y="163.40" width="3.51" height="72.30" fill="#a7a7ff"/>
<rect x="1145.25" y="163.40" width="3.51" height="72.30" fill="#9a9aff"/>
<rect x="1148.46" y="163.40" width="3.51" height="72.30" fill="#ababff"/>
<rect x="1151.67" y="163.40" width="3.27" height="72.30" fill="#2828ff"/>
<rect x="1154.64" y="163.40" width="3.27" height="72.30" fill="#1717ff"/>
<rect x="1157.60" y="163.40" width="3.27" height="72.30" fill="#1818ff"/>
<rect x="1160.57" y="163.40" width="2.97" height="72.30" fill="#fefeff"/>
<rect x="1163.25" y="163.40" width="2.97" height="72.30" fill="#dfdfff"/>
<rect x="1165.92" y="163.40" width="3.42" height="72.30" fill="#eaeaff"/>
<rect x="1169.04" y="163.40" width="3.42" height="72.30" fill="#fcfcff"/>
<rect x="1172.15" y="163.40" width="3.42" height="72.30" fill="#ddddff"/>
<rect x="1175.27" y="163.40" width="3.42" height="72.30" fill="#d3d3ff"/>
<rect x="1178.39" y="163.40" width="4.75" height="72.30" fill="#f8f8ff"/>
<rect x="1182.84" y="163.40" width="3.42" height="72.30" fill="#8989ff"/>
<rect x="1185.96" y="163.40" width="3.42" height="72.30" fill="#8888ff"/>
<rect x="1189.08" y="163.40" width="3.42" height="72.30" fill="#9191ff"/>
<rect x="1192.20" y="163.40" width="3.42" height="72.30" fill="#8787ff"/>
<rect x="1195.31" y="163.40" width="4.75" height="72.30" fill="#0000ff"/>
<rect x="1199.77" y="163.40" width="3.86" height="72.30" fill="#c7c7ff"/>
<rect x="1203.33" y="163.40" width="3.86" height="72.30" fill="#fcfcff"/>
<rect x="1206.89" y="163.40" width="3.86" height="72.30" fill="#f4f4ff"/>
<rect x="1210.46" y="163.40" width="3.86" height="72.30" fill="#d3d3ff"/>
<rect x="1214.02" y="163.40" width="3.27" height="72.30" fill="#7474ff"/>
<rect x="1216.99" y="163.40" width="3.27" height="72.30" fill="#a6a6ff"/>
<rect x="1219.96" y="163.40" width="3.27" height="72.30" fill="#bebeff"/>
<rect x="1222.93" y="163.40" width="3.86" height="72.30" fill="#eaeaff"/>
<rect x="1226.49" y="163.40" width="3.86" height="72.30" fill="#f5b0b0"/>
<rect x="1230.06" y="163.40" width="3.86" height="72.30" fill="#f5b2b2"/>
<rect x="1233.62" y="163.40" width="3.86" height="72.30" fill="#f19898"/>
<rect x="1237.18" y="163.40" width="3.86" height="72.30" fill="#f6baba"/>
<rect x="1240.74" y="163.40" width="3.57" height="72.30" fill="#ef8484"/>
<rect x="1244.01" y="163.40" width="3.57" height="72.30" fill="#f29f9f"/>
<rect x="1247.28" y="163.40" width="3.57" height="72.30" fill="#ef8686"/>
<rect x="1250.54" y="163.40" width="3.57" height="72.30" fill="#f19898"/>
<rect x="1253.81" y="163.40" width="3.57" height="72.30" fill="#f29e9e"/>
<rect x="1257.08" y="163.40" width="3.57" height="72.30" fill="#f6b8b8"/>
<rect x="1260.34" y="163.40" width="3.57" height="72.30" fill="#ea6565"/>
<rect x="1263.61" y="163.40" width="3.57" height="72.30" fill="#e95e5e"/>
<rect x="1266.87" y="163.40" width="3.57" height="72.30" fill="#e74e4e"/>
<rect x="1270.14" y="163.40" width="3.57" height="72.30" fill="#e85555"/>
<rect x="1273.41" y="163.40" width="3.57" height="72.30" fill="#ea6565"/>
<rect x="1276.67" y="163.40" width="3.57" height="72.30" fill="#e85353"/>
<rect x="1279.94" y="163.40" width="3.27" height="72.30" fill="#e22525"/>
<rect x="1282.91" y="163.40" width="3.27" height="72.30" fill="#e43535"/>
<rect x="1285.88" y="163.40" width="3.27" height="72.30" fill="#e53939"/>
<rect x="1288.85" y="163.40" width="3.27" height="72.30" fill="#e85353"/>
<rect x="1291.82" y="163.40" width="3.27" height="72.30" fill="#e64040"/>
<rect x="1294.79" y="163.40" width="3.27" height="72.30" fill="#e64444"/>
<rect x="1297.76" y="163.40" width="3.42" height="72.30" fill="#e5e5ff"/>
<rect x="1300.87" y="163.40" width="3.42" height="72.30" fill="#fef4f4"/>
<rect x="1303.99" y="163.40" width="3.48" height="72.30" fill="#fef7f7"/>
<rect x="1307.17" y="163.40" width="3.48" height="72.30" fill="#ffffff"/>
<rect x="1310.35" y="163.40" width="3.48" height="72.30" fill="#f8caca"/>
<rect x="1313.53" y="163.40" width="3.48" height="72.30" fill="#f9d5d5"/>
<rect x="1316.72" y="163.40" width="3.48" height="72.30" fill="#fffefe"/>
<rect x="1319.90" y="163.40" width="3.48" height="72.30" fill="#fce8e8"/>
<rect x="1323.08" y="163.40" width="3.48" height="72.30" fill="#fbdddd"/>
<rect x="1326.26" y="163.40" width="3.35" height="72.30" fill="#f7c1c1"/>
<rect x="1329.31" y="163.40" width="3.35" height="72.30" fill="#f5b5b5"/>
<rect x="1332.37" y="163.40" width="3.35" height="72.30" fill="#f3a3a3"/>
<rect x="1335.42" y="163.40" width="3.35" height="72.30" fill="#fadbdb"/>
<rect x="1338.48" y="163.40" width="3.35" height="72.30" fill="#f4abab"/>
<rect x="1341.53" y="163.40" width="3.35" height="72.30" fill="#f3a2a2"/>
<rect x="1344.59" y="163.40" width="3.35" height="72.30" fill="#f3a7a7"/>
<rect x="1347.64" y="163.40" width="3.86" height="72.30" fill="#dfdfff"/>
<rect x="1351.20" y="163.40" width="3.86" height="72.30" fill="#fdf1f1"/>
<rect x="1354.77" y="163.40" width="3.86" height="72.30" fill="#ececff"/>
<rect x="1358.33" y="163.40" width="3.86" height="72.30" fill="#fceaea"/>
<rect x="1361.89" y="163.40" width="3.51" height="72.30" fill="#e95c5c"/>
<rect x="1365.10" y="163.40" width="3.51" height="72.30" fill="#ea6262"/>
<rect x="1368.31" y="163.40" width="3.51" height="72.30" fill="#ec7373"/>
<rect x="1371.51" y="163.40" width="3.51" height="72.30" fill="#ec7070"/>
<rect x="1374.72" y="163.40" width="3.51" height="72.30" fill="#e95757"/>
<rect x="1377.93" y="163.40" width="3.51" height="72.30" fill="#f29e9e"/>
<rect x="1381.13" y="163.40" width="3.51" height="72.30" fill="#ee8282"/>
<rect x="1384.34" y="163.40" width="3.51" height="72.30" fill="#ee8282"/>
<rect x="1387.55" y="163.40" width="3.51" height="72.30" fill="#f09292"/>
<rect x="1390.75" y="163.40" width="3.51" height="72.30" fill="#e95c5c"/>
<rect x="1393.96" y="163.40" width="3.51" height="72.30" fill="#f08b8b"/>
<rect x="1397.17" y="163.40" width="3.51" height="72.30" fill="#ea6161"/>
<rect x="1400.37" y="163.40" width="3.51" height="72.30" fill="#f5b5b5"/>
<rect x="1403.58" y="163.40" width="3.51" height="72.30" fill="#f6b9b9"/>
<rect x="1406.79" y="163.40" width="3.51" height="72.30" fill="#ed7979"/>
<rect x="1410.00" y="163.40" width="3.35" height="72.30" fill="#ee8080"/>
<rect x="1413.05" y="163.40" width="3.35" height="72.30" fill="#f19393"/>
<rect x="1416.11" y="163.40" width="3.35" height="72.30" fill="#f08d8d"/>
<rect x="1419.16" y="163.40" width="3.35" height="72.30" fill="#f5b2b2"/>
<rect x="1422.22" y="163.40" width="3.35" height="72.30" fill="#f19999"/>
<rect x="1425.27" y="163.40" width="3.35" height="72.30" fill="#f2a1a1"/>
<rect x="1428.32" y="163.40" width="3.35" height="72.30" fill="#f09191"/>
<rect x="1431.38" y="163.40" width="3.42" height="72.30" fill="#e95757"/>
<rect x="1434.50" y="163.40" width="3.42" height="72.30" fill="#ea6565"/>
<rect x="1437.61" y="163.40" width="3.42" height="72.30" fill="#ea6060"/>
<rect x="1440.73" y="163.40" width="3.42" height="72.30" fill="#ec7272"/>
<rect x="1443.85" y="163.40" width="3.42" height="72.30" fill="#ec6e6e"/>
<rect x="1446.97" y="163.40" width="3.42" height="72.30" fill="#ea6464"/>
<rect x="1450.09" y="163.40" width="3.64" height="72.30" fill="#f6b9b9"/>
<rect x="1453.43" y="163.40" width="3.64" height="72.30" fill="#f19696"/>
<rect x="1456.77" y="163.40" width="3.64" height="72.30" fill="#f7c6c6"/>
<rect x="1460.11" y="163.40" width="3.64" height="72.30" fill="#ef8888"/>
<rect x="1463.45" y="163.40" width="3.27" height="72.30" fill="#f4aeae"/>
<rect x="1466.42" y="163.40" width="3.27" height="72.30" fill="#ee8383"/>
<rect x="1469.39" y="163.40" width="3.27" height="72.30" fill="#f4a9a9"/>
<rect x="1472.36" y="163.40" width="3.27" height="72.30" fill="#ed7777"/>
<rect x="1475.32" y="163.40" width="3.27" height="72.30" fill="#f19696"/>
<rect x="1478.29" y="163.40" width="3.27" height="72.30" fill="#f09191"/>
<rect x="1481.26" y="163.40" width="3.86" height="72.30" fill="#f4aeae"/>
<rect x="1484.83" y="163.40" width="3.86" height="72.30" fill="#f8cece"/>
<rect x="1488.39" y="163.40" width="3.86" height="72.30" fill="#fad8d8"/>
<rect x="1491.95" y="163.40" width="2.97" height="72.30" fill="#f7c3c3"/>
<rect x="1494.62" y="163.40" width="2.97" height="72.30" fill="#ee7f7f"/>
<rect x="1497.30" y="163.40" width="3.86" height="72.30" fill="#e53d3d"/>
<rect x="1500.86" y="163.40" width="3.86" height="72.30" fill="#e53b3b"/>
<rect x="1504.42" y="163.40" width="3.86" height="72.30" fill="#e43333"/>
<rect x="1507.99" y="163.40" width="2.97" height="72.30" fill="#e64444"/>
<rect x="1510.66" y="163.40" width="2.97" height="72.30" fill="#ef8484"/>
<rect x="1513.33" y="163.40" width="3.86" height="72.30" fill="#e33030"/>
<rect x="1516.89" y="163.40" width="3.86" height="72.30" fill="#e53838"/>
<rect x="1520.46" y="163.40" width="3.57" height="72.30" fill="#e01313"/>
<rect x="1523.72" y="163.40" width="3.57" height="72.30" fill="#e32f2f"/>
<rect x="1526.99" y="163.40" width="3.57" height="72.30" fill="#e11e1e"/>
<rect x="1530.26" y="163.40" width="3.57" height="72.30" fill="#df0f0f"/>
<rect x="1533.52" y="163.40" width="3.57" height="72.30" fill="#de0707"/>
<rect x="1536.79" y="163.40" width="3.57" height="72.30" fill="#de0606"/>
<rect x="1540.06" y="163.40" width="3.27" height="72.30" fill="#eb6767"/>
<rect x="1543.02" y="163.40" width="3.27" height="72.30" fill="#e95858"/>
<rect x="1545.99" y="163.40" width="3.27" height="72.30" fill="#e95b5b"/>
<rect x="1548.96" y="163.40" width="3.27" height="72.30" fill="#ec7070"/>
<rect x="1551.93" y="163.40" width="3.27" height="72.30" fill="#ec7171"/>
<rect x="1554.90" y="163.40" width="3.27" height="72.30" fill="#e74d4d"/>
<rect x="1557.87" y="163.40" width="3.68" height="72.30" fill="#e33030"/>
<rect x="1561.26" y="163.40" width="3.68" height="72.30" fill="#e43535"/>
<rect x="1564.64" y="163.40" width="3.68" height="72.30" fill="#e22222"/>
<rect x="1568.03" y="163.40" width="3.68" height="72.30" fill="#e64141"/>
<rect x="1571.41" y="163.40" width="3.68" height="72.30" fill="#e32c2c"/>
<rect x="1574.80" y="163.40" width="3.64" height="72.30" fill="#e74c4c"/>
<rect x="1578.14" y="163.40" width="3.64" height="72.30" fill="#e74d4d"/>
<rect x="1581.48" y="163.40" width="3.64" height="72.30" fill="#e64545"/>
<rect x="1584.82" y="163.40" width="3.64" height="72.30" fill="#e74a4a"/>
<rect x="1588.16" y="163.40" width="3.86" height="72.30" fill="#e01616"/>
<rect x="1591.72" y="163.40" width="3.86" height="72.30" fill="#e01616"/>
<rect x="1595.28" y="163.40" width="3.86" height="72.30" fill="#dd0202"/>
<rect x="1598.85" y="163.40" width="3.51" height="72.30" fill="#dd0303"/>
<rect x="1602.05" y="163.40" width="3.51" height="72.30" fill="#dd0000"/>
<rect x="1605.26" y="163.40" width="3.51" height="72.30" fill="#dd0000"/>
<rect x="1608.47" y="163.40" width="3.51" height="72.30" fill="#dd0404"/>
<rect x="1611.67" y="163.40" width="3.51" height="72.30" fill="#dd0000"/>
<rect x="1614.88" y="163.40" width="3.31" height="72.30" fill="#e22424"/>
<rect x="1617.89" y="163.40" width="3.31" height="72.30" fill="#df0c0c"/>
<rect x="1620.89" y="163.40" width="3.31" height="72.30" fill="#e22323"/>
<rect x="1623.90" y="163.40" width="3.31" height="72.30" fill="#e11f1f"/>
<rect x="1626.91" y="163.40" width="3.31" height="72.30" fill="#e01616"/>
<rect x="1629.91" y="163.40" width="3.31" height="72.30" fill="#df1010"/>
<rect x="1632.92" y="163.40" width="3.31" height="72.30" fill="#df0f0f"/>
<rect x="1635.93" y="163.40" width="3.31" height="72.30" fill="#df0f0f"/>
<rect x="1638.93" y="163.40" width="4.75" height="72.30" fill="#fcebeb"/>
<rect x="1643.39" y="163.40" width="2.97" height="72.30" fill="#f09292"/>
<rect x="1646.06" y="163.40" width="2.97" height="72.30" fill="#ed7575"/>
<rect x="1648.73" y="163.40" width="2.97" height="72.30" fill="#ed7a7a"/>
<rect x="1651.40" y="163.40" width="3.71" height="72.30" fill="#e64040"/>
<rect x="1654.82" y="163.40" width="3.71" height="72.30" fill="#e22626"/>
<rect x="1658.23" y="163.40" width="3.71" height="72.30" fill="#e33030"/>
<rect x="1661.65" y="163.40" width="3.71" height="72.30" fill="#e64040"/>
<rect x="1665.06" y="163.40" width="3.71" height="72.30" fill="#e32d2d"/>
<rect x="1668.48" y="163.40" width="3.71" height="72.30" fill="#e64545"/>
<rect x="1671.89" y="163.40" width="3.86" height="72.30" fill="#fffdfd"/>
<rect x="1675.46" y="163.40" width="3.86" height="72.30" fill="#fadbdb"/>
<rect x="1679.02" y="163.40" width="3.86" height="72.30" fill="#f0f0ff"/>
<rect x="1682.58" y="163.40" width="2.97" height="72.30" fill="#ee7f7f"/>
<rect x="1685.25" y="163.40" width="2.97" height="72.30" fill="#f19999"/>
<rect x="1687.93" y="163.40" width="3.57" height="72.30" fill="#f7c6c6"/>
<rect x="1691.19" y="163.40" width="3.57" height="72.30" fill="#fcebeb"/>
<rect x="1694.46" y="163.40" width="3.57" height="72.30" fill="#f9d4d4"/>
<rect x="1697.72" y="163.40" width="4.75" height="72.30" fill="#3535ff"/>
<rect x="1702.18" y="163.40" width="3.27" height="72.30" fill="#c4c4ff"/>
<rect x="1705.15" y="163.40" width="3.27" height="72.30" fill="#e3e3ff"/>
<rect x="1708.12" y="163.40" width="3.27" height="72.30" fill="#d7d7ff"/>
<rect x="1711.09" y="163.40" width="4.75" height="72.30" fill="#fadcdc"/>
<rect x="804.45" y="235.50" width="3.33" height="72.30" fill="#9f9fff"/>
<rect x="807.48" y="235.50" width="3.33" height="72.30" fill="#9e9eff"/>
<rect x="810.51" y="235.50" width="3.33" height="72.30" fill="#8585ff"/>
<rect x="813.54" y="235.50" width="3.33" height="72.30" fill="#a9a9ff"/>
<rect x="816.57" y="235.50" width="3.33" height="72.30" fill="#7777ff"/>
<rect x="819.60" y="235.50" width="4.75" height="72.30" fill="#f5b4b4"/>
<rect x="824.05" y="235.50" width="3.42" height="72.30" fill="#fefbfb"/>
<rect x="827.17" y="235.50" width="3.42" height="72.30" fill="#fef6f6"/>
<rect x="830.29" y="235.50" width="3.51" height="72.30" fill="#6e6eff"/>
<rect x="833.49" y="235.50" width="3.51" height="72.30" fill="#4747ff"/>
<rect x="836.70" y="235.50" width="3.51" height="72.30" fill="#3c3cff"/>
<rect x="839.91" y="235.50" width="3.51" height="72.30" fill="#6060ff"/>
<rect x="843.11" y="235.50" width="3.51" height="72.30" fill="#4242ff"/>
<rect x="846.32" y="235.50" width="3.35" height="72.30" fill="#6464ff"/>
<rect x="849.38" y="235.50" width="3.35" height="72.30" fill="#5050ff"/>
<rect x="852.43" y="235.50" width="3.35" height="72.30" fill="#7878ff"/>
<rect x="855.48" y="235.50" width="3.35" height="72.30" fill="#7474ff"/>
<rect x="858.54" y="235.50" width="3.35" height="72.30" fill="#7070ff"/>
<rect x="861.59" y="235.50" width="3.35" height="72.30" fill="#6666ff"/>
<rect x="864.65" y="235.50" width="3.35" height="72.30" fill="#6767ff"/>
<rect x="867.70" y="235.50" width="3.68" height="72.30" fill="#9393ff"/>
<rect x="871.08" y="235.50" width="3.68" height="72.30" fill="#a1a1ff"/>
<rect x="874.47" y="235.50" width="3.68" height="72.30" fill="#9e9eff"/>
<rect x="877.85" y="235.50" width="3.68" height="72.30" fill="#a3a3ff"/>
<rect x="881.24" y="235.50" width="3.68" height="72.30" fill="#9090ff"/>
<rect x="884.62" y="235.50" width="3.86" height="72.30" fill="#3f3fff"/>
<rect x="888.19" y="235.50" width="3.86" height="72.30" fill="#2a2aff"/>
<rect x="891.75" y="235.50" width="3.86" height="72.30" fill="#3838ff"/>
<rect x="895.31" y="235.50" width="3.86" height="72.30" fill="#3737ff"/>
<rect x="898.88" y="235.50" width="4.75" height="72.30" fill="#c2c2ff"/>
<rect x="903.33" y="235.50" width="3.51" height="72.30" fill="#3e3eff"/>
<rect x="906.54" y="235.50" width="3.51" height="72.30" fill="#6e6eff"/>
<rect x="909.75" y="235.50" width="3.51" height="72.30" fill="#5353ff"/>
<rect x="912.95" y="235.50" width="3.51" height="72.30" fill="#5b5bff"/>
<rect x="916.16" y="235.50" width="3.51" height="72.30" fill="#5555ff"/>
<rect x="919.37" y="235.50" width="3.51" height="72.30" fill="#9c9cff"/>
<rect x="922.57" y="235.50" width="3.51" height="72.30" fill="#8080ff"/>
<rect x="925.78" y="235.50" width="3.51" height="72.30" fill="#9797ff"/>
<rect x="928.99" y="235.50" width="3.51" height="72.30" fill="#8f8fff"/>
<rect x="932.19" y="235.50" width="3.51" height="72.30" fill="#9999ff"/>
<rect x="935.40" y="235.50" width="3.67" height="72.30" fill="#0000ff"/>
<rect x="938.77" y="235.50" width="3.67" height="72.30" fill="#0808ff"/>
<rect x="942.13" y="235.50" width="3.67" height="72.30" fill="#0303ff"/>
<rect x="945.50" y="235.50" width="3.67" height="72.30" fill="#0000ff"/>
<rect x="948.86" y="235.50" width="3.67" height="72.30" fill="#0000ff"/>
<rect x="952.23" y="235.50" width="3.67" height="72.30" fill="#0000ff"/>
<rect x="955.59" y="235.50" width="3.67" height="72.30" fill="#0606ff"/>
<rect x="958.96" y="235.50" width="3.67" height="72.30" fill="#0000ff"/>
<rect x="962.32" y="235.50" width="3.67" height="72.30" fill="#0e0eff"/>
<rect x="965.69" y="235.50" width="3.35" height="72.30" fill="#2727ff"/>
<rect x="968.74" y="235.50" width="3.35" height="72.30" fill="#1919ff"/>
<rect x="971.80" y="235.50" width="3.35" height="72.30" fill="#1e1eff"/>
<rect x="974.85" y="235.50" width="3.35" height="72.30" fill="#3030ff"/>
<rect x="977.90" y="235.50" width="3.35" height="72.30" fill="#1e1eff"/>
<rect x="980.96" y="235.50" width="3.35" height="72.30" fill="#3131ff"/>
<rect x="984.01" y="235.50" width="3.35" height="72.30" fill="#3333ff"/>
<rect x="987.07" y="235.50" width="3.51" height="72.30" fill="#1313ff"/>
<rect x="990.27" y="235.50" width="3.51" height="72.30" fill="#1818ff"/>
<rect x="993.48" y="235.50" width="3.51" height="72.30" fill="#0b0bff"/>
<rect x="996.69" y="235.50" width="3.51" height="72.30" fill="#0d0dff"/>
<rect x="999.89" y="235.50" width="3.51" height="72.30" fill="#0606ff"/>
<rect x="1003.10" y="235.50" width="3.51" height="72.30" fill="#0606ff"/>
<rect x="1006.31" y="235.50" width="3.51" height="72.30" fill="#0000ff"/>
<rect x="1009.51" y="235.50" width="3.51" height="72.30" fill="#0707ff"/>
<rect x="1012.72" y="235.50" width="3.51" height="72.30" fill="#0101ff"/>
<rect x="1015.93" y="235.50" width="3.51" height="72.30" fill="#0000ff"/>
<rect x="1019.13" y="235.50" width="3.51" height="72.30" fill="#0e0eff"/>
<rect x="1022.34" y="235.50" width="3.51" height="72.30" fill="#1212ff"/>
<rect x="1025.55" y="235.50" width="3.51" height="72.30" fill="#0909ff"/>
<rect x="1028.75" y="235.50" width="3.51" height="72.30" fill="#1c1cff"/>
<rect x="1031.96" y="235.50" width="3.51" height="72.30" fill="#1717ff"/>
<rect x="1035.17" y="235.50" width="3.51" height="72.30" fill="#4141ff"/>
<rect x="1038.38" y="235.50" width="3.51" height="72.30" fill="#2b2bff"/>
<rect x="1041.58" y="235.50" width="3.51" height="72.30" fill="#1e1eff"/>
<rect x="1044.79" y="235.50" width="3.51" height="72.30" fill="#3b3bff"/>
<rect x="1048.00" y="235.50" width="3.51" height="72.30" fill="#3737ff"/>
<rect x="1051.20" y="235.50" width="3.51" height="72.30" fill="#3d3dff"/>
<rect x="1054.41" y="235.50" width="3.51" height="72.30" fill="#3939ff"/>
<rect x="1057.62" y="235.50" width="3.51" height="72.30" fill="#4444ff"/>
<rect x="1060.82" y="235.50" width="3.51" height="72.30" fill="#2f2fff"/>
<rect x="1064.03" y="235.50" width="3.51" height="72.30" fill="#3c3cff"/>
<rect x="1067.24" y="235.50" width="3.71" height="72.30" fill="#2727ff"/>
<rect x="1070.65" y="235.50" width="3.71" height="72.30" fill="#1313ff"/>
<rect x="1074.07" y="235.50" width="3.71" height="72.30" fill="#2d2dff"/>
<rect x="1077.48" y="235.50" width="3.71" height="72.30" fill="#4848ff"/>
<rect x="1080.90" y="235.50" width="3.71" height="72.30" fill="#1c1cff"/>
<rect x="1084.31" y="235.50" width="3.71" height="72.30" fill="#4141ff"/>
<rect x="1087.72" y="235.50" width="3.42" height="72.30" fill="#ececff"/>
<rect x="1090.84" y="235.50" width="3.42" height="72.30" fill="#f4f4ff"/>
<rect x="1093.96" y="235.50" width="3.33" height="72.30" fill="#fbe4e4"/>
<rect x="1096.99" y="235.50" width="3.33" height="72.30" fill="#fbe0e0"/>
<rect x="1100.00" y="235.50" width="3.57" height="72.30" fill="#8585ff"/>
<rect x="1103.27" y="235.50" width="3.57" height="72.30" fill="#9c9cff"/>
<rect x="1106.53" y="235.50" width="3.57" height="72.30" fill="#a2a2ff"/>
<rect x="1109.80" y="235.50" width="2.97" height="72.30" fill="#5959ff"/>
<rect x="1112.47" y="235.50" width="3.42" height="72.30" fill="#9595ff"/>
<rect x="1115.59" y="235.50" width="3.42" height="72.30" fill="#c8c8ff"/>
<rect x="1118.71" y="235.50" width="3.86" height="72.30" fill="#8787ff"/>
<rect x="1122.27" y="235.50" width="3.42" height="72.30" fill="#f3a6a6"/>
<rect x="1125.39" y="235.50" width="3.42" height="72.30" fill="#f5f5ff"/>
<rect x="1128.51" y="235.50" width="3.42" height="72.30" fill="#9d9dff"/>
<rect x="1131.62" y="235.50" width="3.42" height="72.30" fill="#7272ff"/>
<rect x="1134.74" y="235.50" width="3.42" height="72.30" fill="#a1a1ff"/>
<rect x="1137.86" y="235.50" width="3.42" height="72.30" fill="#a5a5ff"/>
<rect x="1140.98" y="235.50" width="3.86" height="72.30" fill="#b0b0ff"/>
<rect x="1144.54" y="235.50" width="3.86" height="72.30" fill="#a5a5ff"/>
<rect x="1148.10" y="235.50" width="3.86" height="72.30" fill="#d1d1ff"/>
<rect x="1151.67" y="235.50" width="4.75" height="72.30" fill="#ec7373"/>
<rect x="1156.12" y="235.50" width="4.75" height="72.30" fill="#e9e9ff"/>
<rect x="1160.57" y="235.50" width="3.54" height="72.30" fill="#df1010"/>
<rect x="1163.81" y="235.50" width="3.54" height="72.30" fill="#e22929"/>
<rect x="1167.05" y="235.50" width="3.54" height="72.30" fill="#e01515"/>
<rect x="1170.29" y="235.50" width="3.54" height="72.30" fill="#de0b0b"/>
<rect x="1173.53" y="235.50" width="3.54" height="72.30" fill="#de0b0b"/>
<rect x="1176.77" y="235.50" width="3.54" height="72.30" fill="#dd0000"/>
<rect x="1180.01" y="235.50" width="3.54" height="72.30" fill="#e01919"/>
<rect x="1183.25" y="235.50" width="3.54" height="72.30" fill="#e22626"/>
<rect x="1186.49" y="235.50" width="3.54" height="72.30" fill="#de0808"/>
<rect x="1189.73" y="235.50" width="3.54" height="72.30" fill="#e01313"/>
<rect x="1192.97" y="235.50" width="3.54" height="72.30" fill="#de0a0a"/>
<rect x="1196.21" y="235.50" width="3.35" height="72.30" fill="#e22929"/>
<rect x="1199.26" y="235.50" width="3.35" height="72.30" fill="#e32b2b"/>
<rect x="1202.31" y="235.50" width="3.35" height="72.30" fill="#e11f1f"/>
<rect x="1205.37" y="235.50" width="3.35" height="72.30" fill="#e12020"/>
<rect x="1208.42" y="235.50" width="3.35" height="72.30" fill="#e74a4a"/>
<rect x="1211.48" y="235.50" width="3.35" height="72.30" fill="#e43434"/>
<rect x="1214.53" y="235.50" width="3.35" height="72.30" fill="#e01717"/>
<rect x="1217.58" y="235.50" width="3.42" height="72.30" fill="#ec6d6d"/>
<rect x="1220.70" y="235.50" width="3.42" height="72.30" fill="#e85555"/>
<rect x="1223.82" y="235.50" width="3.42" height="72.30" fill="#eb6767"/>
<rect x="1226.94" y="235.50" width="3.42" height="72.30" fill="#ec6d6d"/>
<rect x="1230.06" y="235.50" width="4.75" height="72.30" fill="#f6bcbc"/>
<rect x="1234.51" y="235.50" width="3.53" height="72.30" fill="#e74848"/>
<rect x="1237.74" y="235.50" width="3.53" height="72.30" fill="#e95d5d"/>
<rect x="1240.97" y="235.50" width="3.53" height="72.30" fill="#e74a4a"/>
<rect x="1244.20" y="235.50" width="3.53" height="72.30" fill="#ec6f6f"/>
<rect x="1247.43" y="235.50" width="3.53" height="72.30" fill="#ea6565"/>
<rect x="1250.65" y="235.50" width="3.53" height="72.30" fill="#e74a4a"/>
<rect x="1253.88" y="235.50" width="3.53" height="72.30" fill="#e95959"/>
<rect x="1257.11" y="235.50" width="3.53" height="72.30" fill="#eb6b6b"/>
<rect x="1260.34" y="235.50" width="3.27" height="72.30" fill="#f8cdcd"/>
<rect x="1263.31" y="235.50" width="3.27" height="72.30" fill="#f9d0d0"/>
<rect x="1266.28" y="235.50" width="3.27" height="72.30" fill="#f6b8b8"/>
<rect x="1269.25" y="235.50" width="3.86" height="72.30" fill="#ed7979"/>
<rect x="1272.81" y="235.50" width="3.86" height="72.30" fill="#f09292"/>
<rect x="1276.38" y="235.50" width="3.86" height="72.30" fill="#f19696"/>
<rect x="1279.94" y="235.50" width="3.42" height="72.30" fill="#f5b6b6"/>
<rect x="1283.06" y="235.50" width="3.42" height="72.30" fill="#f5b8b8"/>
<rect x="1286.17" y="235.50" width="3.42" height="72.30" fill="#f09191"/>
<rect x="1289.29" y="235.50" width="3.42" height="72.30" fill="#f08e8e"/>
<rect x="1292.41" y="235.50" width="2.97" height="72.30" fill="#eb6666"/>
<rect x="1295.08" y="235.50" width="2.97" height="72.30" fill="#ed7878"/>
<rect x="1297.76" y="235.50" width="3.42" height="72.30" fill="#e11c1c"/>
<rect x="1300.87" y="235.50" width="3.42" height="72.30" fill="#df0f0f"/>
<rect x="1303.99" y="235.50" width="3.42" height="72.30" fill="#e11e1e"/>
<rect x="1307.11" y="235.50" width="3.42" height="72.30" fill="#e01717"/>
<rect x="1310.23" y="235.50" width="3.42" height="72.30" fill="#e32d2d"/>
<rect x="1313.34" y="235.50" width="3.42" height="72.30" fill="#e11f1f"/>
<rect x="1316.46" y="235.50" width="3.42" height="72.30" fill="#de0808"/>
<rect x="1319.58" y="235.50" width="3.42" height="72.30" fill="#e22626"/>
<rect x="1322.70" y="235.50" width="3.57" height="72.30" fill="#e53939"/>
<rect x="1325.96" y="235.50" width="3.57" height="72.30" fill="#e22828"/>
<rect x="1329.23" y="235.50" width="3.57" height="72.30" fill="#df1111"/>
<rect x="1332.50" y="235.50" width="3.57" height="72.30" fill="#e01414"/>
<rect x="1335.76" y="235.50" width="3.57" height="72.30" fill="#e32b2b"/>
<rect x="1339.03" y="235.50" width="3.57" height="72.30" fill="#e32c2c"/>
<rect x="1342.29" y="235.50" width="3.57" height="72.30" fill="#e22828"/>
<rect x="1345.56" y="235.50" width="3.57" height="72.30" fill="#e43232"/>
<rect x="1348.83" y="235.50" width="3.57" height="72.30" fill="#e22626"/>
<rect x="1352.09" y="235.50" width="3.57" height="72.30" fill="#e32a2a"/>
<rect x="1355.36" y="235.50" width="3.57" height="72.30" fill="#e53939"/>
<rect x="1358.63" y="235.50" width="3.57" height="72.30" fill="#e32e2e"/>
<rect x="1361.89" y="235.50" width="3.51" height="72.30" fill="#eb6a6a"/>
<rect x="1365.10" y="235.50" width="3.51" height="72.30" fill="#ed7575"/>
<rect x="1368.31" y="235.50" width="3.51" height="72.30" fill="#ed7979"/>
<rect x="1371.51" y="235.50" width="3.51" height="72.30" fill="#e95656"/>
<rect x="1374.72" y="235.50" width="3.51" height="72.30" fill="#e64545"/>
<rect x="1377.93" y="235.50" width="3.51" height="72.30" fill="#e85151"/>
<rect x="1381.13" y="235.50" width="3.51" height="72.30" fill="#e85353"/>
<rect x="1384.34" y="235.50" width="3.51" height="72.30" fill="#e64545"/>
<rect x="1387.55" y="235.50" width="3.51" height="72.30" fill="#e85050"/>
<rect x="1390.75" y="235.50" width="3.51" height="72.30" fill="#e95959"/>
<rect x="1393.96" y="235.50" width="3.51" height="72.30" fill="#e43737"/>
<rect x="1397.17" y="235.50" width="3.51" height="72.30" fill="#e95d5d"/>
<rect x="1400.37" y="235.50" width="3.51" height="72.30" fill="#e95858"/>
<rect x="1403.58" y="235.50" width="3.51" height="72.30" fill="#e95757"/>
<rect x="1406.79" y="235.50" width="3.51" height="72.30" fill="#e95a5a"/>
<rect x="1410.00" y="235.50" width="3.57" height="72.30" fill="#e85050"/>
<rect x="1413.27" y="235.50" width="3.57" height="72.30" fill="#e64444"/>
<rect x="1416.53" y="235.50" width="3.57" height="72.30" fill="#e43636"/>
<rect x="1419.80" y="235.50" width="3.57" height="72.30" fill="#e64242"/>
<rect x="1423.06" y="235.50" width="3.57" height="72.30" fill="#e74c4c"/>
<rect x="1426.33" y="235.50" width="3.57" height="72.30" fill="#ea6060"/>
<rect x="1429.60" y="235.50" width="3.71" height="72.30" fill="#e95a5a"/>
<rect x="1433.01" y="235.50" width="3.71" height="72.30" fill="#eb6969"/>
<rect x="1436.43" y="235.50" width="3.71" height="72.30" fill="#e95b5b"/>
<rect x="1439.84" y="235.50" width="3.71" height="72.30" fill="#e74949"/>
<rect x="1443.26" y="235.50" width="3.71" height="72.30" fill="#e85656"/>
<rect x="1446.67" y="235.50" width="3.71" height="72.30" fill="#e95d5d"/>
<rect x="1450.09" y="235.50" width="3.42" height="72.30" fill="#e33030"/>
<rect x="1453.20" y="235.50" width="3.42" height="72.30" fill="#e22727"/>
<rect x="1456.32" y="235.50" width="3.42" height="72.30" fill="#e22525"/>
<rect x="1459.44" y="235.50" width="3.42" height="72.30" fill="#e43232"/>
<rect x="1462.56" y="235.50" width="3.42" height="72.30" fill="#e32d2d"/>
<rect x="1465.67" y="235.50" width="3.42" height="72.30" fill="#e11b1b"/>
<rect x="1468.79" y="235.50" width="3.42" height="72.30" fill="#e53c3c"/>
<rect x="1471.91" y="235.50" width="3.42" height="72.30" fill="#e32c2c"/>
<rect x="1475.03" y="235.50" width="3.42" height="72.30" fill="#e43535"/>
<rect x="1478.15" y="235.50" width="3.42" height="72.30" fill="#df1212"/>
<rect x="1481.26" y="235.50" width="3.51" height="72.30" fill="#e32b2b"/>
<rect x="1484.47" y="235.50" width="3.51" height="72.30" fill="#e32c2c"/>
<rect x="1487.68" y="235.50" width="3.51" height="72.30" fill="#e32e2e"/>
<rect x="1490.88" y="235.50" width="3.51" height="72.30" fill="#e32f2f"/>
<rect x="1494.09" y="235.50" width="3.51" height="72.30" fill="#e32f2f"/>
<rect x="1497.30" y="235.50" width="3.20" height="72.30" fill="#1212ff"/>
<rect x="1500.19" y="235.50" width="3.20" height="72.30" fill="#2a2aff"/>
<rect x="1503.09" y="235.50" width="3.20" height="72.30" fill="#2e2eff"/>
<rect x="1505.98" y="235.50" width="3.20" height="72.30" fill="#1414ff"/>
<rect x="1508.88" y="235.50" width="3.42" height="72.30" fill="#0808ff"/>
<rect x="1512.00" y="235.50" width="3.42" height="72.30" fill="#0707ff"/>
<rect x="1515.11" y="235.50" width="3.86" height="72.30" fill="#1e1eff"/>
<rect x="1518.68" y="235.50" width="3.86" height="72.30" fill="#2d2dff"/>
<rect x="1522.24" y="235.50" width="3.27" height="72.30" fill="#fcfcff"/>
<rect x="1525.21" y="235.50" width="3.27" height="72.30" fill="#f6f6ff"/>
<rect x="1528.18" y="235.50" width="3.27" height="72.30" fill="#fdefef"/>
<rect x="1531.15" y="235.50" width="3.27" height="72.30" fill="#e1e1ff"/>
<rect x="1534.12" y="235.50" width="3.27" height="72.30" fill="#fefeff"/>
<rect x="1537.09" y="235.50" width="3.27" height="72.30" fill="#fdf4f4"/>
<rect x="1540.06" y="235.50" width="3.27" height="72.30" fill="#ec7272"/>
<rect x="1543.02" y="235.50" width="3.27" height="72.30" fill="#ee7f7f"/>
<rect x="1545.99" y="235.50" width="3.27" height="72.30" fill="#ef8484"/>
<rect x="1548.96" y="235.50" width="3.27" height="72.30" fill="#ec7272"/>
<rect x="1551.93" y="235.50" width="3.27" height="72.30" fill="#f3a6a6"/>
<rect x="1554.90" y="235.50" width="3.27" height="72.30" fill="#ec6e6e"/>
<rect x="1557.87" y="235.50" width="3.42" height="72.30" fill="#f6b9b9"/>
<rect x="1560.99" y="235.50" width="3.42" height="72.30" fill="#f9cfcf"/>
<rect x="1564.11" y="235.50" width="3.42" height="72.30" fill="#f6bcbc"/>
<rect x="1567.22" y="235.50" width="3.42" height="72.30" fill="#fadcdc"/>
<rect x="1570.34" y="235.50" width="4.75" height="72.30" fill="#f1f1ff"/>
<rect x="1574.80" y="235.50" width="3.64" height="72.30" fill="#f19393"/>
<rect x="1578.14" y="235.50" width="3.64" height="72.30" fill="#f29c9c"/>
<rect x="1581.48" y="235.50" width="3.64" height="72.30" fill="#ee7e7e"/>
<rect x="1584.82" y="235.50" width="3.64" height="72.30" fill="#f29e9e"/>
<rect x="1588.16" y="235.50" width="3.86" height="72.30" fill="#acacff"/>
<rect x="1591.72" y="235.50" width="3.86" height="72.30" fill="#b5b5ff"/>
<rect x="1595.28" y="235.50" width="3.57" height="72.30" fill="#bdbdff"/>
<rect x="1598.55" y="235.50" width="3.57" height="72.30" fill="#9a9aff"/>
<rect x="1601.82" y="235.50" width="3.57" height="72.30" fill="#8c8cff"/>
<rect x="1605.08" y="235.50" width="3.57" height="72.30" fill="#8484ff"/>
<rect x="1608.35" y="235.50" width="3.57" height="72.30" fill="#8282ff"/>
<rect x="1611.62" y="235.50" width="3.57" height="72.30" fill="#9696ff"/>
<rect x="1614.88" y="235.50" width="2.97" height="72.30" fill="#f1f1ff"/>
<rect x="1617.55" y="235.50" width="2.97" height="72.30" fill="#fefafa"/>
<rect x="1620.23" y="235.50" width="3.27" height="72.30" fill="#f6bcbc"/>
<rect x="1623.20" y="235.50" width="3.27" height="72.30" fill="#f9d2d2"/>
<rect x="1626.16" y="235.50" width="3.27" height="72.30" fill="#fce9e9"/>
<rect x="1629.13" y="235.50" width="3.57" height="72.30" fill="#c3c3ff"/>
<rect x="1632.40" y="235.50" width="3.57" height="72.30" fill="#9e9eff"/>
<rect x="1635.67" y="235.50" width="3.57" height="72.30" fill="#bfbfff"/>
<rect x="1638.93" y="235.50" width="3.42" height="72.30" fill="#e64646"/>
<rect x="1642.05" y="235.50" width="3.42" height="72.30" fill="#e85252"/>
<rect x="1645.17" y="235.50" width="3.42" height="72.30" fill="#e64747"/>
<rect x="1648.29" y="235.50" width="3.42" height="72.30" fill="#ea6161"/>
<rect x="1651.40" y="235.50" width="2.97" height="72.30" fill="#fdfdff"/>
<rect x="1654.08" y="235.50" width="2.97" height="72.30" fill="#ededff"/>
<rect x="1656.75" y="235.50" width="2.97" height="72.30" fill="#e7e7ff"/>
<rect x="1659.42" y="235.50" width="3.27" height="72.30" fill="#f7c2c2"/>
<rect x="1662.39" y="235.50" width="3.27" height="72.30" fill="#fbfbff"/>
<rect x="1665.36" y="235.50" width="3.27" height="72.30" fill="#fadada"/>
<rect x="1668.33" y="235.50" width="3.86" height="72.30" fill="#6262ff"/>
<rect x="1671.89" y="235.50" width="3.86" height="72.30" fill="#9494ff"/>
<rect x="1675.46" y="235.50" width="3.86" height="72.30" fill="#6f6fff"/>
<rect x="1679.02" y="235.50" width="3.86" height="72.30" fill="#6a6aff"/>
<rect x="1682.58" y="235.50" width="3.33" height="72.30" fill="#3f3fff"/>
<rect x="1685.61" y="235.50" width="3.33" height="72.30" fill="#2424ff"/>
<rect x="1688.64" y="235.50" width="3.33" height="72.30" fill="#4747ff"/>
<rect x="1691.67" y="235.50" width="3.33" height="72.30" fill="#2929ff"/>
<rect x="1694.70" y="235.50" width="3.33" height="72.30" fill="#3232ff"/>
<rect x="1697.72" y="235.50" width="4.75" height="72.30" fill="#f6baba"/>
<rect x="1702.18" y="235.50" width="3.27" height="72.30" fill="#fbfbff"/>
<rect x="1705.15" y="235.50" width="3.27" height="72.30" fill="#acacff"/>
<rect x="1708.12" y="235.50" width="3.27" height="72.30" fill="#f8f8ff"/>
<rect x="1711.09" y="235.50" width="4.75" height="72.30" fill="#fdeeee"/>
<rect x="804.45" y="307.60" width="3.33" height="72.20" fill="#f19898"/>
<rect x="807.48" y="307.60" width="3.33" height="72.20" fill="#f5b1b1"/>
<rect x="810.51" y="307.60" width="3.33" height="72.20" fill="#f19494"/>
<rect x="813.54" y="307.60" width="3.33" height="72.20" fill="#f19595"/>
<rect x="816.57" y="307.60" width="3.33" height="72.20" fill="#f08d8d"/>
<rect x="819.60" y="307.60" width="2.97" height="72.20" fill="#f9d1d1"/>
<rect x="822.27" y="307.60" width="2.97" height="72.20" fill="#f8c9c9"/>
<rect x="824.94" y="307.60" width="2.97" height="72.20" fill="#e4e4ff"/>
<rect x="827.61" y="307.60" width="2.97" height="72.20" fill="#c2c2ff"/>
<rect x="830.29" y="307.60" width="3.86" height="72.20" fill="#dedeff"/>
<rect x="833.85" y="307.60" width="3.86" height="72.20" fill="#dbdbff"/>
<rect x="837.41" y="307.60" width="3.57" height="72.20" fill="#f8c7c7"/>
<rect x="840.68" y="307.60" width="3.57" height="72.20" fill="#fbe2e2"/>
<rect x="843.95" y="307.60" width="3.57" height="72.20" fill="#f6bebe"/>
<rect x="847.21" y="307.60" width="3.57" height="72.20" fill="#fad8d8"/>
<rect x="850.48" y="307.60" width="3.57" height="72.20" fill="#fdf2f2"/>
<rect x="853.74" y="307.60" width="3.57" height="72.20" fill="#f7c2c2"/>
<rect x="857.01" y="307.60" width="3.35" height="72.20" fill="#fce5e5"/>
<rect x="860.06" y="307.60" width="3.35" height="72.20" fill="#e1e1ff"/>
<rect x="863.12" y="307.60" width="3.35" height="72.20" fill="#cdcdff"/>
<rect x="866.17" y="307.60" width="3.35" height="72.20" fill="#cfcfff"/>
<rect x="869.23" y="307.60" width="3.35" height="72.20" fill="#fdfdff"/>
<rect x="872.28" y="307.60" width="3.35" height="72.20" fill="#d6d6ff"/>
<rect x="875.34" y="307.60" width="3.35" height="72.20" fill="#dbdbff"/>
<rect x="878.39" y="307.60" width="3.42" height="72.20" fill="#b5b5ff"/>
<rect x="881.51" y="307.60" width="3.42" height="72.20" fill="#a6a6ff"/>
<rect x="884.62" y="307.60" width="3.86" height="72.20" fill="#e43131"/>
<rect x="888.19" y="307.60" width="3.86" height="72.20" fill="#e53a3a"/>
<rect x="891.75" y="307.60" width="3.86" height="72.20" fill="#e53c3c"/>
<rect x="895.31" y="307.60" width="3.86" height="72.20" fill="#e33131"/>
<rect x="898.88" y="307.60" width="4.75" height="72.20" fill="#f4afaf"/>
<rect x="903.33" y="307.60" width="3.51" height="72.20" fill="#e32b2b"/>
<rect x="906.54" y="307.60" width="3.51" height="72.20" fill="#e53a3a"/>
<rect x="909.75" y="307.60" width="3.51" height="72.20" fill="#e32e2e"/>
<rect x="912.95" y="307.60" width="3.51" height="72.20" fill="#e32c2c"/>
<rect x="916.16" y="307.60" width="3.51" height="72.20" fill="#e43232"/>
<rect x="919.37" y="307.60" width="3.51" height="72.20" fill="#de0606"/>
<rect x="922.57" y="307.60" width="3.51" height="72.20" fill="#dd0202"/>
<rect x="925.78" y="307.60" width="3.51" height="72.20" fill="#de0b0b"/>
<rect x="928.99" y="307.60" width="3.51" height="72.20" fill="#df0c0c"/>
<rect x="932.19" y="307.60" width="3.51" height="72.20" fill="#e01818"/>
<rect x="935.40" y="307.60" width="2.97" height="72.20" fill="#fadddd"/>
<rect x="938.07" y="307.60" width="2.97" height="72.20" fill="#fce8e8"/>
<rect x="940.74" y="307.60" width="3.42" height="72.20" fill="#eb6b6b"/>
<rect x="943.86" y="307.60" width="3.42" height="72.20" fill="#ed7474"/>
<rect x="946.98" y="307.60" width="3.42" height="72.20" fill="#e95c5c"/>
<rect x="950.10" y="307.60" width="3.42" height="72.20" fill="#e53a3a"/>
<rect x="953.22" y="307.60" width="3.42" height="72.20" fill="#fadada"/>
<rect x="956.33" y="307.60" width="3.42" height="72.20" fill="#fbe3e3"/>
<rect x="959.45" y="307.60" width="3.42" height="72.20" fill="#fadada"/>
<rect x="962.57" y="307.60" width="3.42" height="72.20" fill="#fef5f5"/>
<rect x="965.69" y="307.60" width="3.86" height="72.20" fill="#e8e8ff"/>
<rect x="969.25" y="307.60" width="3.86" height="72.20" fill="#d4d4ff"/>
<rect x="972.81" y="307.60" width="3.27" height="72.20" fill="#fadcdc"/>
<rect x="975.78" y="307.60" width="3.27" height="72.20" fill="#f7c6c6"/>
<rect x="978.75" y="307.60" width="3.27" height="72.20" fill="#f7c6c6"/>
<rect x="981.72" y="307.60" width="2.97" height="72.20" fill="#fcfcff"/>
<rect x="984.39" y="307.60" width="2.97" height="72.20" fill="#e9e9ff"/>
<rect x="987.07" y="307.60" width="3.57" height="72.20" fill="#ef8787"/>
<rect x="990.33" y="307.60" width="3.57" height="72.20" fill="#f3a2a2"/>
<rect x="993.60" y="307.60" width="3.57" height="72.20" fill="#ee7d7d"/>
<rect x="996.86" y="307.60" width="3.57" height="72.20" fill="#f19393"/>
<rect x="1000.13" y="307.60" width="3.57" height="72.20" fill="#f08c8c"/>
<rect x="1003.40" y="307.60" width="3.57" height="72.20" fill="#ee7d7d"/>
<rect x="1006.66" y="307.60" width="3.61" height="72.20" fill="#e95c5c"/>
<rect x="1009.97" y="307.60" width="3.61" height="72.20" fill="#ee7c7c"/>
<rect x="1013.28" y="307.60" width="3.61" height="72.20" fill="#eb6a6a"/>
<rect x="1016.59" y="307.60" width="3.61" height="72.20" fill="#ea6060"/>
<rect x="1019.90" y="307.60" width="3.61" height="72.20" fill="#ed7979"/>
<rect x="1023.21" y="307.60" width="3.61" height="72.20" fill="#f09090"/>
<rect x="1026.51" y="307.60" width="3.61" height="72.20" fill="#eb6767"/>
<rect x="1029.82" y="307.60" width="3.61" height="72.20" fill="#eb6767"/>
<rect x="1033.13" y="307.60" width="3.61" height="72.20" fill="#ea5f5f"/>
<rect x="1036.44" y="307.60" width="3.61" height="72.20" fill="#ea6565"/>
<rect x="1039.75" y="307.60" width="3.61" height="72.20" fill="#ea6464"/>
<rect x="1043.06" y="307.60" width="3.61" height="72.20" fill="#ea6262"/>
<rect x="1046.37" y="307.60" width="3.61" height="72.20" fill="#e74e4e"/>
<rect x="1049.68" y="307.60" width="3.61" height="72.20" fill="#e95e5e"/>
<rect x="1052.98" y="307.60" width="3.86" height="72.20" fill="#f08e8e"/>
<rect x="1056.55" y="307.60" width="3.86" height="72.20" fill="#f2a1a1"/>
<rect x="1060.11" y="307.60" width="3.86" height="72.20" fill="#ee8282"/>
<rect x="1063.67" y="307.60" width="3.86" height="72.20" fill="#f29d9d"/>
<rect x="1067.24" y="307.60" width="3.71" height="72.20" fill="#ec7171"/>
<rect x="1070.65" y="307.60" width="3.71" height="72.20" fill="#f3a8a8"/>
<rect x="1074.07" y="307.60" width="3.71" height="72.20" fill="#ed7b7b"/>
<rect x="1077.48" y="307.60" width="3.71" height="72.20" fill="#ee8181"/>
<rect x="1080.90" y="307.60" width="3.71" height="72.20" fill="#ef8888"/>
<rect x="1084.31" y="307.60" width="3.71" height="72.20" fill="#eb6767"/>
<rect x="1087.72" y="307.60" width="2.97" height="72.20" fill="#e85353"/>
<rect x="1090.40" y="307.60" width="2.97" height="72.20" fill="#e95c5c"/>
<rect x="1093.07" y="307.60" width="2.97" height="72.20" fill="#ea6262"/>
<rect x="1095.74" y="307.60" width="4.58" height="72.20" fill="#dd0303"/>
<rect x="1100.00" y="307.60" width="2.97" height="72.20" fill="#e64141"/>
<rect x="1102.67" y="307.60" width="3.86" height="72.20" fill="#f9d4d4"/>
<rect x="1106.24" y="307.60" width="3.86" height="72.20" fill="#fefafa"/>
<rect x="1109.80" y="307.60" width="3.64" height="72.20" fill="#e01515"/>
<rect x="1113.14" y="307.60" width="3.64" height="72.20" fill="#e11f1f"/>
<rect x="1116.48" y="307.60" width="3.64" height="72.20" fill="#e32a2a"/>
<rect x="1119.82" y="307.60" width="3.64" height="72.20" fill="#e22828"/>
<rect x="1123.16" y="307.60" width="3.47" height="72.20" fill="#df1111"/>
<rect x="1126.33" y="307.60" width="3.47" height="72.20" fill="#dd0000"/>
<rect x="1129.50" y="307.60" width="3.47" height="72.20" fill="#de0b0b"/>
<rect x="1132.66" y="307.60" width="3.47" height="72.20" fill="#dd0000"/>
<rect x="1135.83" y="307.60" width="3.47" height="72.20" fill="#de0404"/>
<rect x="1139.00" y="307.60" width="3.47" height="72.20" fill="#de0606"/>
<rect x="1142.16" y="307.60" width="3.47" height="72.20" fill="#dd0000"/>
<rect x="1145.33" y="307.60" width="3.47" height="72.20" fill="#dd0000"/>
<rect x="1148.50" y="307.60" width="3.47" height="72.20" fill="#df0b0b"/>
<rect x="1151.67" y="307.60" width="3.27" height="72.20" fill="#e22727"/>
<rect x="1154.64" y="307.60" width="3.27" height="72.20" fill="#e11e1e"/>
<rect x="1157.60" y="307.60" width="3.27" height="72.20" fill="#e32929"/>
<rect x="1160.57" y="307.60" width="3.27" height="72.20" fill="#9494ff"/>
<rect x="1163.54" y="307.60" width="3.27" height="72.20" fill="#adadff"/>
<rect x="1166.51" y="307.60" width="3.27" height="72.20" fill="#9d9dff"/>
<rect x="1169.48" y="307.60" width="3.86" height="72.20" fill="#8181ff"/>
<rect x="1173.04" y="307.60" width="3.86" height="72.20" fill="#8d8dff"/>
<rect x="1176.61" y="307.60" width="3.86" height="72.20" fill="#8b8bff"/>
<rect x="1180.17" y="307.60" width="3.86" height="72.20" fill="#8888ff"/>
<rect x="1183.73" y="307.60" width="2.97" height="72.20" fill="#9898ff"/>
<rect x="1186.41" y="307.60" width="2.97" height="72.20" fill="#c7c7ff"/>
<rect x="1189.08" y="307.60" width="3.86" height="72.20" fill="#f9f9ff"/>
<rect x="1192.64" y="307.60" width="3.86" height="72.20" fill="#f4f4ff"/>
<rect x="1196.21" y="307.60" width="3.86" height="72.20" fill="#fefbfb"/>
<rect x="1199.77" y="307.60" width="3.86" height="72.20" fill="#c1c1ff"/>
<rect x="1203.33" y="307.60" width="3.86" height="72.20" fill="#e9e9ff"/>
<rect x="1206.89" y="307.60" width="3.86" height="72.20" fill="#e0e0ff"/>
<rect x="1210.46" y="307.60" width="3.86" height="72.20" fill="#fbdede"/>
<rect x="1214.02" y="307.60" width="3.86" height="72.20" fill="#f08f8f"/>
<rect x="1217.58" y="307.60" width="3.86" height="72.20" fill="#eb6767"/>
<rect x="1221.15" y="307.60" width="3.42" height="72.20" fill="#f8c9c9"/>
<rect x="1224.27" y="307.60" width="3.42" height="72.20" fill="#f6bdbd"/>
<rect x="1227.38" y="307.60" width="3.42" height="72.20" fill="#f2a0a0"/>
<rect x="1230.50" y="307.60" width="3.42" height="72.20" fill="#f29e9e"/>
<rect x="1233.62" y="307.60" width="3.27" height="72.20" fill="#fcebeb"/>
<rect x="1236.59" y="307.60" width="3.27" height="72.20" fill="#fcebeb"/>
<rect x="1239.56" y="307.60" width="3.27" height="72.20" fill="#fefbfb"/>
<rect x="1242.53" y="307.60" width="3.27" height="72.20" fill="#fbfbff"/>
<rect x="1245.50" y="307.60" width="3.27" height="72.20" fill="#fffdfd"/>
<rect x="1248.46" y="307.60" width="3.27" height="72.20" fill="#f9d5d5"/>
<rect x="1251.43" y="307.60" width="3.86" height="72.20" fill="#ddddff"/>
<rect x="1255.00" y="307.60" width="3.86" height="72.20" fill="#ccccff"/>
<rect x="1258.56" y="307.60" width="3.86" height="72.20" fill="#d4d4ff"/>
<rect x="1262.12" y="307.60" width="2.97" height="72.20" fill="#f7c4c4"/>
<rect x="1264.80" y="307.60" width="2.97" height="72.20" fill="#f6bbbb"/>
<rect x="1267.47" y="307.60" width="3.51" height="72.20" fill="#e2e2ff"/>
<rect x="1270.68" y="307.60" width="3.51" height="72.20" fill="#e3e3ff"/>
<rect x="1273.88" y="307.60" width="3.51" height="72.20" fill="#eeeeff"/>
<rect x="1277.09" y="307.60" width="3.51" height="72.20" fill="#f9d4d4"/>
<rect x="1280.30" y="307.60" width="3.51" height="72.20" fill="#ececff"/>
<rect x="1283.50" y="307.60" width="3.47" height="72.20" fill="#c1c1ff"/>
<rect x="1286.67" y="307.60" width="3.47" height="72.20" fill="#8484ff"/>
<rect x="1289.84" y="307.60" width="3.47" height="72.20" fill="#b8b8ff"/>
<rect x="1293.00" y="307.60" width="3.47" height="72.20" fill="#8787ff"/>
<rect x="1296.17" y="307.60" width="3.47" height="72.20" fill="#8e8eff"/>
<rect x="1299.34" y="307.60" width="3.47" height="72.20" fill="#9898ff"/>
<rect x="1302.51" y="307.60" width="3.47" height="72.20" fill="#a3a3ff"/>
<rect x="1305.67" y="307.60" width="3.47" height="72.20" fill="#aaaaff"/>
<rect x="1308.84" y="307.60" width="3.47" height="72.20" fill="#aeaeff"/>
<rect x="1312.01" y="307.60" width="3.42" height="72.20" fill="#8484ff"/>
<rect x="1315.13" y="307.60" width="3.42" height="72.20" fill="#7777ff"/>
<rect x="1318.24" y="307.60" width="3.42" height="72.20" fill="#b1b1ff"/>
<rect x="1321.36" y="307.60" width="3.42" height="72.20" fill="#8787ff"/>
<rect x="1324.48" y="307.60" width="3.42" height="72.20" fill="#b4b4ff"/>
<rect x="1327.60" y="307.60" width="3.42" height="72.20" fill="#d2d2ff"/>
<rect x="1330.71" y="307.60" width="3.42" height="72.20" fill="#bbbbff"/>
<rect x="1333.83" y="307.60" width="3.42" height="72.20" fill="#b2b2ff"/>
<rect x="1336.95" y="307.60" width="3.42" height="72.20" fill="#adadff"/>
<rect x="1340.07" y="307.60" width="3.42" height="72.20" fill="#ceceff"/>
<rect x="1343.19" y="307.60" width="3.42" height="72.20" fill="#8e8eff"/>
<rect x="1346.30" y="307.60" width="3.42" height="72.20" fill="#9191ff"/>
<rect x="1349.42" y="307.60" width="3.42" height="72.20" fill="#dcdcff"/>
<rect x="1352.54" y="307.60" width="3.42" height="72.20" fill="#a5a5ff"/>
<rect x="1355.66" y="307.60" width="3.42" height="72.20" fill="#c5c5ff"/>
<rect x="1358.77" y="307.60" width="3.42" height="72.20" fill="#f5f5ff"/>
<rect x="1361.89" y="307.60" width="3.67" height="72.20" fill="#8f8fff"/>
<rect x="1365.26" y="307.60" width="3.67" height="72.20" fill="#9c9cff"/>
<rect x="1368.62" y="307.60" width="3.67" height="72.20" fill="#a7a7ff"/>
<rect x="1371.99" y="307.60" width="3.67" height="72.20" fill="#8181ff"/>
<rect x="1375.35" y="307.60" width="3.67" height="72.20" fill="#9f9fff"/>
<rect x="1378.72" y="307.60" width="3.67" height="72.20" fill="#8c8cff"/>
<rect x="1382.08" y="307.60" width="3.67" height="72.20" fill="#8282ff"/>
<rect x="1385.45" y="307.60" width="3.67" height="72.20" fill="#9393ff"/>
<rect x="1388.81" y="307.60" width="3.67" height="72.20" fill="#9898ff"/>
<rect x="1392.18" y="307.60" width="3.20" height="72.20" fill="#b6b6ff"/>
<rect x="1395.07" y="307.60" width="3.20" height="72.20" fill="#b0b0ff"/>
<rect x="1397.97" y="307.60" width="3.20" height="72.20" fill="#d6d6ff"/>
<rect x="1400.86" y="307.60" width="3.20" height="72.20" fill="#dadaff"/>
<rect x="1403.76" y="307.60" width="3.42" height="72.20" fill="#5555ff"/>
<rect x="1406.88" y="307.60" width="3.42" height="72.20" fill="#4b4bff"/>
<rect x="1410.00" y="307.60" width="3.64" height="72.20" fill="#5454ff"/>
<rect x="1413.34" y="307.60" width="3.64" height="72.20" fill="#5858ff"/>
<rect x="1416.68" y="307.60" width="3.64" height="72.20" fill="#5353ff"/>
<rect x="1420.02" y="307.60" width="3.64" height="72.20" fill="#6a6aff"/>
<rect x="1423.36" y="307.60" width="3.64" height="72.20" fill="#7676ff"/>
<rect x="1426.70" y="307.60" width="3.64" height="72.20" fill="#7676ff"/>
<rect x="1430.04" y="307.60" width="3.64" height="72.20" fill="#6666ff"/>
<rect x="1433.38" y="307.60" width="3.64" height="72.20" fill="#5f5fff"/>
<rect x="1436.72" y="307.60" width="3.86" height="72.20" fill="#5c5cff"/>
<rect x="1440.29" y="307.60" width="3.86" height="72.20" fill="#5b5bff"/>
<rect x="1443.85" y="307.60" width="3.86" height="72.20" fill="#6363ff"/>
<rect x="1447.41" y="307.60" width="3.86" height="72.20" fill="#7171ff"/>
<rect x="1450.98" y="307.60" width="3.27" height="72.20" fill="#7373ff"/>
<rect x="1453.95" y="307.60" width="3.27" height="72.20" fill="#a7a7ff"/>
<rect x="1456.91" y="307.60" width="3.27" height="72.20" fill="#5858ff"/>
<rect x="1459.88" y="307.60" width="3.27" height="72.20" fill="#5e5eff"/>
<rect x="1462.85" y="307.60" width="3.27" height="72.20" fill="#6363ff"/>
<rect x="1465.82" y="307.60" width="3.27" height="72.20" fill="#6c6cff"/>
<rect x="1468.79" y="307.60" width="3.47" height="72.20" fill="#5555ff"/>
<rect x="1471.96" y="307.60" width="3.47" height="72.20" fill="#7b7bff"/>
<rect x="1475.13" y="307.60" width="3.47" height="72.20" fill="#4e4eff"/>
<rect x="1478.29" y="307.60" width="3.47" height="72.20" fill="#6b6bff"/>
<rect x="1481.46" y="307.60" width="3.47" height="72.20" fill="#5353ff"/>
<rect x="1484.63" y="307.60" width="3.47" height="72.20" fill="#5c5cff"/>
<rect x="1487.80" y="307.60" width="3.47" height="72.20" fill="#4949ff"/>
<rect x="1490.96" y="307.60" width="3.47" height="72.20" fill="#7e7eff"/>
<rect x="1494.13" y="307.60" width="3.47" height="72.20" fill="#5959ff"/>
<rect x="1497.30" y="307.60" width="3.86" height="72.20" fill="#f8cece"/>
<rect x="1500.86" y="307.60" width="3.86" height="72.20" fill="#ef8a8a"/>
<rect x="1504.42" y="307.60" width="3.86" height="72.20" fill="#f6bbbb"/>
<rect x="1507.99" y="307.60" width="2.97" height="72.20" fill="#fdf3f3"/>
<rect x="1510.66" y="307.60" width="2.97" height="72.20" fill="#fbfbff"/>
<rect x="1513.33" y="307.60" width="3.27" height="72.20" fill="#b8b8ff"/>
<rect x="1516.30" y="307.60" width="3.27" height="72.20" fill="#a9a9ff"/>
<rect x="1519.27" y="307.60" width="3.27" height="72.20" fill="#c8c8ff"/>
<rect x="1522.24" y="307.60" width="3.86" height="72.20" fill="#9e9eff"/>
<rect x="1525.80" y="307.60" width="3.86" height="72.20" fill="#8787ff"/>
<rect x="1529.37" y="307.60" width="3.86" height="72.20" fill="#7c7cff"/>
<rect x="1532.93" y="307.60" width="3.42" height="72.20" fill="#7878ff"/>
<rect x="1536.05" y="307.60" width="3.42" height="72.20" fill="#5656ff"/>
<rect x="1539.16" y="307.60" width="3.42" height="72.20" fill="#7e7eff"/>
<rect x="1542.28" y="307.60" width="3.42" height="72.20" fill="#6666ff"/>
<rect x="1545.40" y="307.60" width="3.42" height="72.20" fill="#5858ff"/>
<rect x="1548.52" y="307.60" width="3.42" height="72.20" fill="#7272ff"/>
<rect x="1551.64" y="307.60" width="3.42" height="72.20" fill="#6f6fff"/>
<rect x="1554.75" y="307.60" width="3.42" height="72.20" fill="#6060ff"/>
<rect x="1557.87" y="307.60" width="3.42" height="72.20" fill="#6a6aff"/>
<rect x="1560.99" y="307.60" width="3.42" height="72.20" fill="#7777ff"/>
<rect x="1564.11" y="307.60" width="3.42" height="72.20" fill="#7e7eff"/>
<rect x="1567.22" y="307.60" width="3.42" height="72.20" fill="#5757ff"/>
<rect x="1570.34" y="307.60" width="3.27" height="72.20" fill="#0f0fff"/>
<rect x="1573.31" y="307.60" width="3.27" height="72.20" fill="#4f4fff"/>
<rect x="1576.28" y="307.60" width="3.27" height="72.20" fill="#2f2fff"/>
<rect x="1579.25" y="307.60" width="3.27" height="72.20" fill="#2d2dff"/>
<rect x="1582.22" y="307.60" width="3.27" height="72.20" fill="#3939ff"/>
<rect x="1585.19" y="307.60" width="3.27" height="72.20" fill="#2d2dff"/>
<rect x="1588.16" y="307.60" width="3.27" height="72.20" fill="#fdf0f0"/>
<rect x="1591.13" y="307.60" width="3.27" height="72.20" fill="#d1d1ff"/>
<rect x="1594.10" y="307.60" width="3.27" height="72.20" fill="#ededff"/>
<rect x="1597.07" y="307.60" width="3.51" height="72.20" fill="#7f7fff"/>
<rect x="1600.27" y="307.60" width="3.51" height="72.20" fill="#b9b9ff"/>
<rect x="1603.48" y="307.60" width="3.51" height="72.20" fill="#9494ff"/>
<rect x="1606.69" y="307.60" width="3.51" height="72.20" fill="#b0b0ff"/>
<rect x="1609.89" y="307.60" width="3.51" height="72.20" fill="#b6b6ff"/>
<rect x="1613.10" y="307.60" width="3.51" height="72.20" fill="#8080ff"/>
<rect x="1616.31" y="307.60" width="3.51" height="72.20" fill="#9494ff"/>
<rect x="1619.51" y="307.60" width="3.51" height="72.20" fill="#a8a8ff"/>
<rect x="1622.72" y="307.60" width="3.51" height="72.20" fill="#9a9aff"/>
<rect x="1625.93" y="307.60" width="3.51" height="72.20" fill="#9696ff"/>
<rect x="1629.13" y="307.60" width="2.97" height="72.20" fill="#f7c4c4"/>
<rect x="1631.81" y="307.60" width="2.97" height="72.20" fill="#f7c2c2"/>
<rect x="1634.48" y="307.60" width="4.75" height="72.20" fill="#d6d6ff"/>
<rect x="1638.93" y="307.60" width="3.57" height="72.20" fill="#0b0bff"/>
<rect x="1642.20" y="307.60" width="3.57" height="72.20" fill="#1414ff"/>
<rect x="1645.47" y="307.60" width="3.57" height="72.20" fill="#0f0fff"/>
<rect x="1648.73" y="307.60" width="3.57" height="72.20" fill="#0e0eff"/>
<rect x="1652.00" y="307.60" width="3.57" height="72.20" fill="#0000ff"/>
<rect x="1655.26" y="307.60" width="3.57" height="72.20" fill="#2020ff"/>
<rect x="1658.53" y="307.60" width="3.57" height="72.20" fill="#0a0aff"/>
<rect x="1661.80" y="307.60" width="3.57" height="72.20" fill="#1010ff"/>
<rect x="1665.06" y="307.60" width="3.57" height="72.20" fill="#0c0cff"/>
<rect x="1668.33" y="307.60" width="3.27" height="72.20" fill="#4e4eff"/>
<rect x="1671.30" y="307.60" width="3.27" height="72.20" fill="#4f4fff"/>
<rect x="1674.27" y="307.60" width="3.27" height="72.20" fill="#4040ff"/>
<rect x="1677.24" y="307.60" width="3.27" height="72.20" fill="#5252ff"/>
<rect x="1680.21" y="307.60" width="3.27" height="72.20" fill="#5f5fff"/>
<rect x="1683.18" y="307.60" width="3.27" height="72.20" fill="#5353ff"/>
<rect x="1686.14" y="307.60" width="2.97" height="72.20" fill="#f8f8ff"/>
<rect x="1688.82" y="307.60" width="2.97" height="72.20" fill="#f2f2ff"/>
<rect x="1691.49" y="307.60" width="3.86" height="72.20" fill="#8d8dff"/>
<rect x="1695.05" y="307.60" width="3.86" height="72.20" fill="#b0b0ff"/>
<rect x="1698.62" y="307.60" width="3.86" height="72.20" fill="#7f7fff"/>
<rect x="1702.18" y="307.60" width="3.27" height="72.20" fill="#5252ff"/>
<rect x="1705.15" y="307.60" width="3.27" height="72.20" fill="#5c5cff"/>
<rect x="1708.12" y="307.60" width="3.27" height="72.20" fill="#5151ff"/>
<rect x="1711.09" y="307.60" width="4.75" height="72.20" fill="#0000ff"/>
<rect x="804.45" y="379.60" width="3.64" height="72.20" fill="#e64242"/>
<rect x="807.79" y="379.60" width="3.64" height="72.20" fill="#e11e1e"/>
<rect x="811.13" y="379.60" width="3.64" height="72.20" fill="#e64040"/>
<rect x="814.48" y="379.60" width="3.64" height="72.20" fill="#e43333"/>
<rect x="817.82" y="379.60" width="3.42" height="72.20" fill="#e95d5d"/>
<rect x="820.93" y="379.60" width="3.42" height="72.20" fill="#ea6464"/>
<rect x="824.05" y="379.60" width="3.49" height="72.20" fill="#e12020"/>
<rect x="827.24" y="379.60" width="3.49" height="72.20" fill="#e12222"/>
<rect x="830.43" y="379.60" width="3.49" height="72.20" fill="#df0e0e"/>
<rect x="833.62" y="379.60" width="3.49" height="72.20" fill="#e01515"/>
<rect x="836.80" y="379.60" width="3.49" height="72.20" fill="#df1010"/>
<rect x="839.99" y="379.60" width="3.49" height="72.20" fill="#df0c0c"/>
<rect x="843.18" y="379.60" width="3.49" height="72.20" fill="#de0b0b"/>
<rect x="846.37" y="379.60" width="3.49" height="72.20" fill="#e11b1b"/>
<rect x="849.56" y="379.60" width="3.49" height="72.20" fill="#e11f1f"/>
<rect x="852.74" y="379.60" width="3.49" height="72.20" fill="#dd0202"/>
<rect x="855.93" y="379.60" width="3.49" height="72.20" fill="#e01414"/>
<rect x="859.12" y="379.60" width="3.49" height="72.20" fill="#e01a1a"/>
<rect x="862.31" y="379.60" width="3.49" height="72.20" fill="#e22323"/>
<rect x="865.50" y="379.60" width="3.49" height="72.20" fill="#de0707"/>
<rect x="868.68" y="379.60" width="3.49" height="72.20" fill="#e11b1b"/>
<rect x="871.87" y="379.60" width="3.49" height="72.20" fill="#e01818"/>
<rect x="875.06" y="379.60" width="3.49" height="72.20" fill="#de0606"/>
<rect x="878.25" y="379.60" width="3.49" height="72.20" fill="#de0909"/>
<rect x="881.44" y="379.60" width="3.49" height="72.20" fill="#de0707"/>
<rect x="884.62" y="379.60" width="3.42" height="72.20" fill="#fcebeb"/>
<rect x="887.74" y="379.60" width="3.42" height="72.20" fill="#ececff"/>
<rect x="890.86" y="379.60" width="3.42" height="72.20" fill="#fbe4e4"/>
<rect x="893.98" y="379.60" width="3.42" height="72.20" fill="#f9d3d3"/>
<rect x="897.10" y="379.60" width="3.42" height="72.20" fill="#d4d4ff"/>
<rect x="900.21" y="379.60" width="3.42" height="72.20" fill="#fdfdff"/>
<rect x="903.33" y="379.60" width="3.51" height="72.20" fill="#f09292"/>
<rect x="906.54" y="379.60" width="3.51" height="72.20" fill="#f4afaf"/>
<rect x="909.75" y="379.60" width="3.51" height="72.20" fill="#f08d8d"/>
<rect x="912.95" y="379.60" width="3.51" height="72.20" fill="#f29c9c"/>
<rect x="916.16" y="379.60" width="3.51" height="72.20" fill="#f3a3a3"/>
<rect x="919.37" y="379.60" width="3.51" height="72.20" fill="#fefbfb"/>
<rect x="922.57" y="379.60" width="3.51" height="72.20" fill="#babaff"/>
<rect x="925.78" y="379.60" width="3.51" height="72.20" fill="#fffefe"/>
<rect x="928.99" y="379.60" width="3.51" height="72.20" fill="#fffcfc"/>
<rect x="932.19" y="379.60" width="3.51" height="72.20" fill="#b0b0ff"/>
<rect x="935.40" y="379.60" width="3.27" height="72.20" fill="#f5b7b7"/>
<rect x="938.37" y="379.60" width="3.27" height="72.20" fill="#f5b6b6"/>
<rect x="941.34" y="379.60" width="3.27" height="72.20" fill="#f8cccc"/>
<rect x="944.31" y="379.60" width="3.27" height="72.20" fill="#f7bfbf"/>
<rect x="947.28" y="379.60" width="3.27" height="72.20" fill="#f7c5c5"/>
<rect x="950.25" y="379.60" width="3.27" height="72.20" fill="#f5b1b1"/>
<rect x="953.22" y="379.60" width="3.42" height="72.20" fill="#e85555"/>
<rect x="956.33" y="379.60" width="3.42" height="72.20" fill="#ec6e6e"/>
<rect x="959.45" y="379.60" width="3.42" height="72.20" fill="#e53a3a"/>
<rect x="962.57" y="379.60" width="3.42" height="72.20" fill="#e53f3f"/>
<rect x="965.69" y="379.60" width="3.35" height="72.20" fill="#e43131"/>
<rect x="968.74" y="379.60" width="3.35" height="72.20" fill="#e11b1b"/>
<rect x="971.80" y="379.60" width="3.35" height="72.20" fill="#df0c0c"/>
<rect x="974.85" y="379.60" width="3.35" height="72.20" fill="#e53a3a"/>
<rect x="977.90" y="379.60" width="3.35" height="72.20" fill="#e32c2c"/>
<rect x="980.96" y="379.60" width="3.35" height="72.20" fill="#e32d2d"/>
<rect x="984.01" y="379.60" width="3.35" height="72.20" fill="#e11f1f"/>
<rect x="987.07" y="379.60" width="3.57" height="72.20" fill="#eb6b6b"/>
<rect x="990.33" y="379.60" width="3.57" height="72.20" fill="#ee7e7e"/>
<rect x="993.60" y="379.60" width="3.57" height="72.20" fill="#e85050"/>
<rect x="996.86" y="379.60" width="3.57" height="72.20" fill="#eb6c6c"/>
<rect x="1000.13" y="379.60" width="3.57" height="72.20" fill="#e95959"/>
<rect x="1003.40" y="379.60" width="3.57" height="72.20" fill="#e53e3e"/>
<rect x="1006.66" y="379.60" width="3.51" height="72.20" fill="#f08e8e"/>
<rect x="1009.87" y="379.60" width="3.51" height="72.20" fill="#ef8787"/>
<rect x="1013.08" y="379.60" width="3.51" height="72.20" fill="#ec6e6e"/>
<rect x="1016.28" y="379.60" width="3.51" height="72.20" fill="#ee8282"/>
<rect x="1019.49" y="379.60" width="3.51" height="72.20" fill="#ed7676"/>
<rect x="1022.70" y="379.60" width="3.67" height="72.20" fill="#e95959"/>
<rect x="1026.06" y="379.60" width="3.67" height="72.20" fill="#e32b2b"/>
<rect x="1029.43" y="379.60" width="3.67" height="72.20" fill="#e84f4f"/>
<rect x="1032.79" y="379.60" width="3.67" height="72.20" fill="#e85454"/>
<rect x="1036.16" y="379.60" width="3.67" height="72.20" fill="#e95757"/>
<rect x="1039.52" y="379.60" width="3.67" height="72.20" fill="#e85353"/>
<rect x="1042.89" y="379.60" width="3.67" height="72.20" fill="#ec7474"/>
<rect x="1046.25" y="379.60" width="3.67" height="72.20" fill="#e95e5e"/>
<rect x="1049.62" y="379.60" width="3.67" height="72.20" fill="#e74d4d"/>
<rect x="1052.98" y="379.60" width="3.86" height="72.20" fill="#e64444"/>
<rect x="1056.55" y="379.60" width="3.86" height="72.20" fill="#e43232"/>
<rect x="1060.11" y="379.60" width="3.86" height="72.20" fill="#e43434"/>
<rect x="1063.67" y="379.60" width="3.86" height="72.20" fill="#e53a3a"/>
<rect x="1067.24" y="379.60" width="3.71" height="72.20" fill="#e22626"/>
<rect x="1070.65" y="379.60" width="3.71" height="72.20" fill="#e64141"/>
<rect x="1074.07" y="379.60" width="3.71" height="72.20" fill="#e74747"/>
<rect x="1077.48" y="379.60" width="3.71" height="72.20" fill="#e95959"/>
<rect x="1080.90" y="379.60" width="3.71" height="72.20" fill="#e74b4b"/>
<rect x="1084.31" y="379.60" width="3.71" height="72.20" fill="#e85151"/>
<rect x="1087.72" y="379.60" width="3.37" height="72.20" fill="#3232ff"/>
<rect x="1090.80" y="379.60" width="3.37" height="72.20" fill="#3636ff"/>
<rect x="1093.87" y="379.60" width="3.37" height="72.20" fill="#5555ff"/>
<rect x="1096.94" y="379.60" width="3.37" height="72.20" fill="#4545ff"/>
<rect x="1100.00" y="379.60" width="3.57" height="72.20" fill="#6767ff"/>
<rect x="1103.27" y="379.60" width="3.57" height="72.20" fill="#6262ff"/>
<rect x="1106.53" y="379.60" width="3.57" height="72.20" fill="#7878ff"/>
<rect x="1109.80" y="379.60" width="3.86" height="72.20" fill="#a4a4ff"/>
<rect x="1113.36" y="379.60" width="3.33" height="72.20" fill="#5050ff"/>
<rect x="1116.39" y="379.60" width="3.33" height="72.20" fill="#6a6aff"/>
<rect x="1119.42" y="379.60" width="3.33" height="72.20" fill="#6b6bff"/>
<rect x="1122.45" y="379.60" width="3.33" height="72.20" fill="#6767ff"/>
<rect x="1125.48" y="379.60" width="3.33" height="72.20" fill="#5b5bff"/>
<rect x="1128.51" y="379.60" width="3.86" height="72.20" fill="#b5b5ff"/>
<rect x="1132.07" y="379.60" width="3.86" height="72.20" fill="#cbcbff"/>
<rect x="1135.63" y="379.60" width="3.86" height="72.20" fill="#ababff"/>
<rect x="1139.19" y="379.60" width="3.86" height="72.20" fill="#a1a1ff"/>
<rect x="1142.76" y="379.60" width="3.27" height="72.20" fill="#ceceff"/>
<rect x="1145.73" y="379.60" width="3.27" height="72.20" fill="#acacff"/>
<rect x="1148.70" y="379.60" width="3.27" height="72.20" fill="#ababff"/>
<rect x="1151.67" y="379.60" width="3.27" height="72.20" fill="#babaff"/>
<rect x="1154.64" y="379.60" width="3.27" height="72.20" fill="#7f7fff"/>
<rect x="1157.60" y="379.60" width="3.27" height="72.20" fill="#ddddff"/>
<rect x="1160.57" y="379.60" width="3.86" height="72.20" fill="#7e7eff"/>
<rect x="1164.14" y="379.60" width="3.86" height="72.20" fill="#8989ff"/>
<rect x="1167.70" y="379.60" width="3.86" height="72.20" fill="#8686ff"/>
<rect x="1171.26" y="379.60" width="3.61" height="72.20" fill="#9595ff"/>
<rect x="1174.57" y="379.60" width="3.61" height="72.20" fill="#7272ff"/>
<rect x="1177.88" y="379.60" width="3.61" height="72.20" fill="#b0b0ff"/>
<rect x="1181.19" y="379.60" width="3.61" height="72.20" fill="#9898ff"/>
<rect x="1184.50" y="379.60" width="3.61" height="72.20" fill="#9292ff"/>
<rect x="1187.81" y="379.60" width="3.61" height="72.20" fill="#cbcbff"/>
<rect x="1191.12" y="379.60" width="3.61" height="72.20" fill="#7373ff"/>
<rect x="1194.42" y="379.60" width="2.97" height="72.20" fill="#fbdede"/>
<rect x="1197.10" y="379.60" width="2.97" height="72.20" fill="#fef5f5"/>
<rect x="1199.77" y="379.60" width="2.97" height="72.20" fill="#e3e3ff"/>
<rect x="1202.44" y="379.60" width="3.71" height="72.20" fill="#4e4eff"/>
<rect x="1205.86" y="379.60" width="3.71" height="72.20" fill="#1e1eff"/>
<rect x="1209.27" y="379.60" width="3.71" height="72.20" fill="#3535ff"/>
<rect x="1212.68" y="379.60" width="3.71" height="72.20" fill="#3232ff"/>
<rect x="1216.10" y="379.60" width="3.71" height="72.20" fill="#3636ff"/>
<rect x="1219.51" y="379.60" width="3.71" height="72.20" fill="#2626ff"/>
<rect x="1222.93" y="379.60" width="3.27" height="72.20" fill="#0e0eff"/>
<rect x="1225.90" y="379.60" width="3.27" height="72.20" fill="#0303ff"/>
<rect x="1228.87" y="379.60" width="3.27" height="72.20" fill="#0000ff"/>
<rect x="1231.84" y="379.60" width="3.27" height="72.20" fill="#0000ff"/>
<rect x="1234.81" y="379.60" width="3.27" height="72.20" fill="#0303ff"/>
<rect x="1237.78" y="379.60" width="3.27" height="72.20" fill="#0000ff"/>
<rect x="1240.74" y="379.60" width="3.57" height="72.20" fill="#2c2cff"/>
<rect x="1244.01" y="379.60" width="3.57" height="72.20" fill="#2b2bff"/>
<rect x="1247.28" y="379.60" width="3.57" height="72.20" fill="#1f1fff"/>
<rect x="1250.54" y="379.60" width="3.57" height="72.20" fill="#0d0dff"/>
<rect x="1253.81" y="379.60" width="3.57" height="72.20" fill="#1616ff"/>
<rect x="1257.08" y="379.60" width="3.57" height="72.20" fill="#2b2bff"/>
<rect x="1260.34" y="379.60" width="3.61" height="72.20" fill="#0707ff"/>
<rect x="1263.65" y="379.60" width="3.61" height="72.20" fill="#2121ff"/>
<rect x="1266.96" y="379.60" width="3.61" height="72.20" fill="#0808ff"/>
<rect x="1270.27" y="379.60" width="3.61" height="72.20" fill="#1111ff"/>
<rect x="1273.58" y="379.60" width="3.61" height="72.20" fill="#1414ff"/>
<rect x="1276.89" y="379.60" width="3.61" height="72.20" fill="#0e0eff"/>
<rect x="1280.19" y="379.60" width="3.61" height="72.20" fill="#1010ff"/>
<rect x="1283.50" y="379.60" width="3.86" height="72.20" fill="#4141ff"/>
<rect x="1287.07" y="379.60" width="3.86" height="72.20" fill="#3131ff"/>
<rect x="1290.63" y="379.60" width="3.86" height="72.20" fill="#3838ff"/>
<rect x="1294.19" y="379.60" width="3.86" height="72.20" fill="#2e2eff"/>
<rect x="1297.76" y="379.60" width="3.64" height="72.20" fill="#8989ff"/>
<rect x="1301.10" y="379.60" width="3.64" height="72.20" fill="#6969ff"/>
<rect x="1304.44" y="379.60" width="3.64" height="72.20" fill="#7575ff"/>
<rect x="1307.78" y="379.60" width="3.64" height="72.20" fill="#3232ff"/>
<rect x="1311.12" y="379.60" width="3.64" height="72.20" fill="#5e5eff"/>
<rect x="1314.46" y="379.60" width="3.64" height="72.20" fill="#5353ff"/>
<rect x="1317.80" y="379.60" width="3.64" height="72.20" fill="#6767ff"/>
<rect x="1321.14" y="379.60" width="3.64" height="72.20" fill="#5e5eff"/>
<rect x="1324.48" y="379.60" width="3.47" height="72.20" fill="#3c3cff"/>
<rect x="1327.65" y="379.60" width="3.47" height="72.20" fill="#4848ff"/>
<rect x="1330.81" y="379.60" width="3.47" height="72.20" fill="#5959ff"/>
<rect x="1333.98" y="379.60" width="3.47" height="72.20" fill="#5d5dff"/>
<rect x="1337.15" y="379.60" width="3.47" height="72.20" fill="#4444ff"/>
<rect x="1340.32" y="379.60" width="3.47" height="72.20" fill="#5d5dff"/>
<rect x="1343.48" y="379.60" width="3.47" height="72.20" fill="#4343ff"/>
<rect x="1346.65" y="379.60" width="3.47" height="72.20" fill="#5656ff"/>
<rect x="1349.82" y="379.60" width="3.47" height="72.20" fill="#3f3fff"/>
<rect x="1352.98" y="379.60" width="3.42" height="72.20" fill="#4f4fff"/>
<rect x="1356.10" y="379.60" width="3.42" height="72.20" fill="#6262ff"/>
<rect x="1359.22" y="379.60" width="3.42" height="72.20" fill="#3c3cff"/>
<rect x="1362.34" y="379.60" width="3.42" height="72.20" fill="#5252ff"/>
<rect x="1365.46" y="379.60" width="3.42" height="72.20" fill="#2b2bff"/>
<rect x="1368.57" y="379.60" width="3.42" height="72.20" fill="#3737ff"/>
<rect x="1371.69" y="379.60" width="3.42" height="72.20" fill="#6767ff"/>
<rect x="1374.81" y="379.60" width="3.42" height="72.20" fill="#3f3fff"/>
<rect x="1377.93" y="379.60" width="3.42" height="72.20" fill="#4747ff"/>
<rect x="1381.04" y="379.60" width="3.42" height="72.20" fill="#2828ff"/>
<rect x="1384.16" y="379.60" width="3.42" height="72.20" fill="#4040ff"/>
<rect x="1387.28" y="379.60" width="3.42" height="72.20" fill="#3434ff"/>
<rect x="1390.40" y="379.60" width="3.42" height="72.20" fill="#5252ff"/>
<rect x="1393.52" y="379.60" width="3.42" height="72.20" fill="#3838ff"/>
<rect x="1396.63" y="379.60" width="3.42" height="72.20" fill="#6565ff"/>
<rect x="1399.75" y="379.60" width="3.42" height="72.20" fill="#3030ff"/>
<rect x="1402.87" y="379.60" width="3.86" height="72.20" fill="#8686ff"/>
<rect x="1406.43" y="379.60" width="3.86" height="72.20" fill="#5959ff"/>
<rect x="1410.00" y="379.60" width="3.86" height="72.20" fill="#7878ff"/>
<rect x="1413.56" y="379.60" width="3.86" height="72.20" fill="#9797ff"/>
<rect x="1417.13" y="379.60" width="3.57" height="72.20" fill="#5858ff"/>
<rect x="1420.39" y="379.60" width="3.57" height="72.20" fill="#4444ff"/>
<rect x="1423.66" y="379.60" width="3.57" height="72.20" fill="#6161ff"/>
<rect x="1426.92" y="379.60" width="3.57" height="72.20" fill="#6969ff"/>
<rect x="1430.19" y="379.60" width="3.57" height="72.20" fill="#6161ff"/>
<rect x="1433.46" y="379.60" width="3.57" height="72.20" fill="#6a6aff"/>
<rect x="1436.72" y="379.60" width="3.86" height="72.20" fill="#4d4dff"/>
<rect x="1440.29" y="379.60" width="3.86" height="72.20" fill="#8686ff"/>
<rect x="1443.85" y="379.60" width="3.86" height="72.20" fill="#7272ff"/>
<rect x="1447.41" y="379.60" width="3.86" height="72.20" fill="#4242ff"/>
<rect x="1450.98" y="379.60" width="3.42" height="72.20" fill="#9595ff"/>
<rect x="1454.09" y="379.60" width="3.42" height="72.20" fill="#6a6aff"/>
<rect x="1457.21" y="379.60" width="3.42" height="72.20" fill="#7c7cff"/>
<rect x="1460.33" y="379.60" width="3.42" height="72.20" fill="#4f4fff"/>
<rect x="1463.45" y="379.60" width="3.86" height="72.20" fill="#4f4fff"/>
<rect x="1467.01" y="379.60" width="3.86" height="72.20" fill="#3b3bff"/>
<rect x="1470.57" y="379.60" width="3.86" height="72.20" fill="#6767ff"/>
<rect x="1474.14" y="379.60" width="3.86" height="72.20" fill="#5656ff"/>
<rect x="1477.70" y="379.60" width="3.86" height="72.20" fill="#6e6eff"/>
<rect x="1481.26" y="379.60" width="3.86" height="72.20" fill="#7878ff"/>
<rect x="1484.83" y="379.60" width="3.86" height="72.20" fill="#9595ff"/>
<rect x="1488.39" y="379.60" width="3.86" height="72.20" fill="#7171ff"/>
<rect x="1491.95" y="379.60" width="3.57" height="72.20" fill="#b2b2ff"/>
<rect x="1495.22" y="379.60" width="3.57" height="72.20" fill="#8c8cff"/>
<rect x="1498.49" y="379.60" width="3.57" height="72.20" fill="#8181ff"/>
<rect x="1501.75" y="379.60" width="2.97" height="72.20" fill="#f1f1ff"/>
<rect x="1504.42" y="379.60" width="2.97" height="72.20" fill="#f7f7ff"/>
<rect x="1507.10" y="379.60" width="3.20" height="72.20" fill="#f19595"/>
<rect x="1509.99" y="379.60" width="3.20" height="72.20" fill="#ef8585"/>
<rect x="1512.89" y="379.60" width="3.20" height="72.20" fill="#f3a2a2"/>
<rect x="1515.78" y="379.60" width="3.20" height="72.20" fill="#f2a1a1"/>
<rect x="1518.68" y="379.60" width="3.86" height="72.20" fill="#f9d1d1"/>
<rect x="1522.24" y="379.60" width="3.86" height="72.20" fill="#8888ff"/>
<rect x="1525.80" y="379.60" width="3.86" height="72.20" fill="#7f7fff"/>
<rect x="1529.37" y="379.60" width="3.86" height="72.20" fill="#8484ff"/>
<rect x="1532.93" y="379.60" width="3.86" height="72.20" fill="#a1a1ff"/>
<rect x="1536.49" y="379.60" width="3.86" height="72.20" fill="#cbcbff"/>
<rect x="1540.06" y="379.60" width="3.47" height="72.20" fill="#3f3fff"/>
<rect x="1543.22" y="379.60" width="3.47" height="72.20" fill="#5353ff"/>
<rect x="1546.39" y="379.60" width="3.47" height="72.20" fill="#6868ff"/>
<rect x="1549.56" y="379.60" width="3.47" height="72.20" fill="#3e3eff"/>
<rect x="1552.72" y="379.60" width="3.47" height="72.20" fill="#6868ff"/>
<rect x="1555.89" y="379.60" width="3.47" height="72.20" fill="#5050ff"/>
<rect x="1559.06" y="379.60" width="3.47" height="72.20" fill="#5656ff"/>
<rect x="1562.23" y="379.60" width="3.47" height="72.20" fill="#5252ff"/>
<rect x="1565.39" y="379.60" width="3.47" height="72.20" fill="#6565ff"/>
<rect x="1568.56" y="379.60" width="3.57" height="72.20" fill="#7f7fff"/>
<rect x="1571.83" y="379.60" width="3.57" height="72.20" fill="#6363ff"/>
<rect x="1575.09" y="379.60" width="3.57" height="72.20" fill="#9393ff"/>
<rect x="1578.36" y="379.60" width="3.57" height="72.20" fill="#8989ff"/>
<rect x="1581.63" y="379.60" width="3.57" height="72.20" fill="#9999ff"/>
<rect x="1584.89" y="379.60" width="3.57" height="72.20" fill="#9898ff"/>
<rect x="1588.16" y="379.60" width="3.86" height="72.20" fill="#3a3aff"/>
<rect x="1591.72" y="379.60" width="3.86" height="72.20" fill="#5050ff"/>
<rect x="1595.28" y="379.60" width="3.42" height="72.20" fill="#b5b5ff"/>
<rect x="1598.40" y="379.60" width="3.42" height="72.20" fill="#b1b1ff"/>
<rect x="1601.52" y="379.60" width="3.42" height="72.20" fill="#b5b5ff"/>
<rect x="1604.64" y="379.60" width="3.42" height="72.20" fill="#babaff"/>
<rect x="1607.76" y="379.60" width="3.27" height="72.20" fill="#7575ff"/>
<rect x="1610.72" y="379.60" width="3.27" height="72.20" fill="#7d7dff"/>
<rect x="1613.69" y="379.60" width="3.27" height="72.20" fill="#9292ff"/>
<rect x="1616.66" y="379.60" width="3.48" height="72.20" fill="#3030ff"/>
<rect x="1619.84" y="379.60" width="3.48" height="72.20" fill="#3f3fff"/>
<rect x="1623.03" y="379.60" width="3.48" height="72.20" fill="#3131ff"/>
<rect x="1626.21" y="379.60" width="3.48" height="72.20" fill="#3030ff"/>
<rect x="1629.39" y="379.60" width="3.48" height="72.20" fill="#3a3aff"/>
<rect x="1632.57" y="379.60" width="3.48" height="72.20" fill="#4242ff"/>
<rect x="1635.75" y="379.60" width="3.48" height="72.20" fill="#5656ff"/>
<rect x="1638.93" y="379.60" width="4.75" height="72.20" fill="#f9f9ff"/>
<rect x="1643.39" y="379.60" width="3.86" height="72.20" fill="#c8c8ff"/>
<rect x="1646.95" y="379.60" width="3.27" height="72.20" fill="#fbe4e4"/>
<rect x="1649.92" y="379.60" width="3.27" height="72.20" fill="#fdf0f0"/>
<rect x="1652.89" y="379.60" width="3.27" height="72.20" fill="#b8b8ff"/>
<rect x="1655.86" y="379.60" width="3.27" height="72.20" fill="#fdefef"/>
<rect x="1658.83" y="379.60" width="3.27" height="72.20" fill="#fdf1f1"/>
<rect x="1661.80" y="379.60" width="3.27" height="72.20" fill="#f0f0ff"/>
<rect x="1664.77" y="379.60" width="3.42" height="72.20" fill="#ea6464"/>
<rect x="1667.88" y="379.60" width="3.42" height="72.20" fill="#e74c4c"/>
<rect x="1671.00" y="379.60" width="3.42" height="72.20" fill="#ed7a7a"/>
<rect x="1674.12" y="379.60" width="3.42" height="72.20" fill="#ec6f6f"/>
<rect x="1677.24" y="379.60" width="2.97" height="72.20" fill="#df0f0f"/>
<rect x="1679.91" y="379.60" width="2.97" height="72.20" fill="#e32f2f"/>
<rect x="1682.58" y="379.60" width="3.86" height="72.20" fill="#e95d5d"/>
<rect x="1686.14" y="379.60" width="3.86" height="72.20" fill="#e74848"/>
<rect x="1689.71" y="379.60" width="3.42" height="72.20" fill="#e01a1a"/>
<rect x="1692.83" y="379.60" width="3.42" height="72.20" fill="#e01717"/>
<rect x="1695.94" y="379.60" width="3.42" height="72.20" fill="#e11d1d"/>
<rect x="1699.06" y="379.60" width="3.42" height="72.20" fill="#de0909"/>
<rect x="1702.18" y="379.60" width="3.86" height="72.20" fill="#de0808"/>
<rect x="1705.74" y="379.60" width="3.86" height="72.20" fill="#e11b1b"/>
<rect x="1709.31" y="379.60" width="3.42" height="72.20" fill="#e43636"/>
<rect x="1712.42" y="379.60" width="3.42" height="72.20" fill="#e32a2a"/>
</g>
<path d="M805.0 455V463.7M805.5 455V463.5M806.2 455V465.3M806.7 455V459.8M807.5 455V459.2M808.0 455V461.0M808.8 455V458.5M809.3 455V467.6M810.0 455V460.0M810.5 455V458.1M810.8 455V463.8M811.3 455V462.3M812.1 455V464.2M812.6 455V464.5M813.5 455V466.8M814.0 455V461.1M814.6 455V468.6M815.1 455V461.8M815.4 455V460.6M815.9 455V466.9M816.4 455V458.9M816.9 455V464.2M817.9 455V467.5M818.4 455V459.2M818.8 455V472.5M819.3 455V467.2M819.7 455V461.4M820.2 455V471.3M820.5 455V463.5M821.0 455V463.6M821.4 455V465.9M821.9 455V476.2M822.2 455V480.2M822.7 455V471.2M823.2 455V463.5M823.7 455V463.3M823.9 455V465.7M824.4 455V459.5M824.7 455V464.3M825.2 455V470.4M825.5 455V482.9M826.0 455V468.0M826.5 455V462.8M827.0 455V461.2M827.4 455V464.5M827.9 455V461.9M828.4 455V463.1M828.9 455V477.6M829.2 455V459.3M830.5 455V460.5M831.8 455V458.5M832.8 455V458.7M834.7 455V459.8M836.1 455V458.2M838.0 455V460.9M839.7 455V459.8M841.7 455V458.1M843.2 455V460.2M845.1 455V460.2M846.9 455V460.7M848.6 455V460.6M850.3 455V459.1M851.9 455V458.2M853.9 455V460.6M855.3 455V460.2M856.7 455V460.5M857.9 455V460.1M859.5 455V460.8M860.7 455V460.7M862.2 455V460.7M864.1 455V460.6M865.9 455V460.5M867.9 455V458.8M869.5 455V459.5M870.5 455V460.6M871.5 455V458.4M872.6 455V460.5M874.2 455V460.0M876.1 455V460.1M877.9 455V458.5M879.6 455V459.2M881.5 455V458.3M883.2 455V458.4M884.9 455V466.9M885.4 455V460.9M886.2 455V467.3M886.7 455V461.5M887.5 455V465.0M888.0 455V459.6M889.0 455V463.3M889.5 455V464.0M890.4 455V461.4M890.9 455V458.6M891.7 455V462.8M892.2 455V458.2M892.7 455V465.7M893.2 455V459.1M894.0 455V466.2M894.5 455V463.3M895.5 455V458.8M896.0 455V459.7M896.7 455V466.3M897.2 455V462.3M898.1 455V466.8M898.6 455V459.6M899.2 455V463.6M899.7 455V459.5M900.5 455V458.3M901.0 455V465.4M901.8 455V463.5M902.3 455V461.8M903.3 455V467.0M903.8 455V460.1M904.7 455V462.7M905.2 455V460.4M906.2 455V459.3M906.7 455V464.0M907.2 455V461.5M907.7 455V462.7M908.1 455V463.0M908.6 455V459.9M909.2 455V461.7M909.7 455V461.2M910.4 455V463.2M910.9 455V464.5M911.4 455V465.3M911.9 455V464.2M912.3 455V467.8M912.8 455V464.8M913.2 455V466.2M913.7 455V461.2M914.0 455V460.0M914.5 455V463.2M914.9 455V463.0M915.4 455V463.8M915.8 455V458.7M916.3 455V458.8M917.0 455V463.6M917.5 455V459.1M918.4 455V458.9M918.9 455V458.5M919.8 455V461.2M920.3 455V461.6M921.0 455V458.1M921.5 455V463.4M922.1 455V459.9M922.6 455V459.3M923.4 455V466.4M923.9 455V462.8M924.5 455V467.6M925.0 455V464.1M925.9 455V465.6M926.4 455V464.2M927.3 455V464.8M927.8 455V463.9M928.6 455V458.7M929.1 455V460.6M929.8 455V460.3M930.3 455V465.2M931.0 455V461.8M931.5 455V465.6M932.3 455V467.6M932.8 455V458.2M933.3 455V461.9M933.8 455V458.4M934.2 455V460.5M934.7 455V464.9M935.6 455V463.6M936.1 455V465.6M936.5 455V463.9M937.0 455V463.8M937.4 455V462.6M937.9 455V459.3M938.2 455V467.3M938.7 455V461.2M939.3 455V460.8M939.8 455V463.0M940.1 455V460.4M940.6 455V458.3M941.2 455V466.8M941.7 455V463.7M942.6 455V458.7M943.1 455V464.9M944.1 455V460.4M944.6 455V462.0M945.3 455V467.6M945.8 455V464.2M946.2 455V458.5M946.7 455V462.0M947.5 455V462.5M948.0 455V460.0M948.8 455V463.2M949.3 455V465.6M949.8 455V459.1M950.3 455V464.8M950.8 455V460.7M951.3 455V463.2M952.1 455V460.3M953.1 455V458.2M954.2 455V458.3M955.7 455V459.9M957.6 455V458.2M959.0 455V458.8M960.4 455V460.0M961.7 455V459.6M963.6 455V459.3M965.2 455V459.5M966.5 455V460.3M968.2 455V460.1M969.3 455V460.1M971.2 455V460.8M972.7 455V460.4M973.9 455V459.1M975.5 455V460.4M977.3 455V459.7M978.8 455V459.6M980.8 455V460.0M981.9 455V459.6M983.0 455V458.2M984.9 455V458.3M986.0 455V460.2M987.2 455V458.7M988.8 455V460.3M990.3 455V460.2M992.2 455V459.2M993.9 455V460.6M995.7 455V460.7M997.4 455V459.6M999.2 455V459.3M1000.3 455V460.2M1001.7 455V458.5M1003.0 455V458.3M1004.8 455V458.5M1005.9 455V458.6M1007.1 455V458.8M1008.5 455V458.8M1010.5 455V459.0M1012.4 455V459.4M1013.9 455V459.5M1015.4 455V459.1M1017.1 455V459.8M1018.6 455V459.9M1019.9 455V459.6M1021.7 455V458.2M1023.7 455V459.8M1025.0 455V460.4M1026.9 455V458.3M1028.1 455V459.6M1029.3 455V460.5M1031.0 455V459.1M1032.1 455V459.2M1034.1 455V460.5M1035.1 455V459.1M1036.3 455V459.7M1037.3 455V461.0M1038.5 455V459.8M1039.9 455V460.0M1041.5 455V460.2M1043.2 455V460.1M1044.4 455V458.5M1045.9 455V459.9M1047.7 455V459.2M1049.7 455V460.4M1051.3 455V458.1M1052.8 455V460.4M1054.4 455V458.5M1056.3 455V459.6M1057.8 455V460.1M1059.0 455V460.8M1060.2 455V458.2M1061.6 455V459.4M1063.2 455V459.7M1064.3 455V460.5M1065.5 455V459.6M1067.1 455V458.9M1068.9 455V459.1M1070.7 455V458.0M1071.8 455V459.6M1073.5 455V458.4M1075.1 455V459.4M1076.7 455V460.1M1078.5 455V459.5M1080.3 455V460.6M1081.8 455V459.7M1083.3 455V459.6M1085.2 455V459.0M1086.9 455V458.9M1088.0 455V459.6M1088.5 455V462.4M1088.9 455V466.7M1089.4 455V463.2M1089.7 455V469.4M1090.2 455V467.5M1090.8 455V468.1M1091.3 455V460.2M1092.2 455V459.2M1092.7 455V465.8M1093.7 455V458.0M1094.2 455V460.4M1095.1 455V463.0M1095.6 455V461.5M1096.1 455V464.2M1096.6 455V467.2M1097.0 455V461.7M1097.5 455V467.0M1098.2 455V460.1M1098.7 455V466.6M1099.6 455V458.6M1100.1 455V459.0M1100.9 455V459.7M1101.4 455V464.8M1101.7 455V460.8M1102.2 455V461.0M1103.0 455V467.9M1103.5 455V461.7M1104.2 455V460.9M1104.7 455V460.9M1105.2 455V466.0M1105.7 455V458.9M1106.4 455V464.6M1106.9 455V458.4M1107.2 455V461.6M1107.7 455V465.4M1108.7 455V470.3M1109.2 455V458.3M1109.7 455V469.6M1110.2 455V462.9M1111.0 455V462.5M1111.5 455V464.5M1112.1 455V468.6M1112.6 455V464.7M1113.1 455V467.7M1113.6 455V459.6M1114.4 455V467.9M1114.9 455V460.3M1115.2 455V465.5M1115.7 455V465.0M1116.2 455V459.9M1116.7 455V458.2M1117.3 455V461.3M1117.8 455V465.8M1118.5 455V464.8M1119.0 455V465.8M1119.5 455V465.8M1120.0 455V463.1M1120.3 455V468.3M1120.8 455V459.7M1121.7 455V458.8M1122.2 455V462.0M1122.8 455V467.5M1123.3 455V467.7M1124.2 455V458.5M1124.7 455V460.4M1125.3 455V459.0M1125.8 455V458.3M1126.6 455V460.9M1127.1 455V460.5M1127.6 455V462.2M1128.1 455V467.6M1128.5 455V462.3M1129.0 455V464.8M1129.9 455V463.8M1130.4 455V461.9M1131.2 455V460.7M1131.7 455V461.4M1132.1 455V458.6M1133.8 455V460.6M1135.1 455V458.1M1136.4 455V459.1M1138.3 455V458.1M1140.0 455V459.6M1141.6 455V458.1M1142.9 455V460.2M1144.1 455V458.6M1145.3 455V458.9M1146.8 455V460.4M1148.1 455V460.0M1149.4 455V460.1M1151.3 455V472.8M1151.8 455V461.1M1152.2 455V464.5M1152.7 455V462.4M1153.3 455V460.8M1153.8 455V466.9M1154.2 455V467.9M1154.7 455V467.4M1155.0 455V464.7M1155.5 455V462.9M1155.8 455V466.4M1156.3 455V465.9M1156.9 455V473.2M1157.4 455V465.6M1157.8 455V466.0M1158.3 455V466.2M1159.0 455V474.0M1159.5 455V468.3M1160.1 455V459.2M1161.1 455V458.4M1162.5 455V459.1M1163.6 455V458.6M1165.0 455V458.7M1166.7 455V459.6M1168.2 455V460.5M1169.5 455V459.0M1170.9 455V460.1M1172.5 455V460.9M1173.7 455V459.9M1175.3 455V459.1M1176.6 455V458.5M1177.7 455V458.2M1179.5 455V459.4M1181.0 455V460.4M1182.3 455V460.3M1184.2 455V459.7M1185.9 455V459.9M1187.7 455V458.4M1189.3 455V469.8M1189.8 455V467.5M1190.3 455V465.9M1190.8 455V461.9M1191.2 455V466.9M1191.7 455V459.2M1192.1 455V462.1M1192.6 455V458.3M1193.1 455V461.9M1193.6 455V465.8M1194.5 455V470.3M1195.0 455V461.8M1195.8 455V464.7M1196.3 455V464.3M1196.8 455V469.4M1197.3 455V475.7M1197.5 455V458.9M1198.0 455V478.5M1198.4 455V470.5M1198.9 455V466.2M1199.1 455V469.8M1199.6 455V459.9M1200.1 455V472.1M1200.6 455V460.8M1200.9 455V503.4M1201.4 455V465.3M1201.7 455V476.9M1202.2 455V487.2M1202.3 455V483.1M1202.8 455V481.8M1203.0 455V467.2M1203.5 455V464.6M1204.4 455V465.1M1204.9 455V459.3M1205.4 455V465.4M1205.9 455V460.4M1206.2 455V463.2M1206.7 455V464.2M1207.3 455V465.9M1207.8 455V464.3M1208.2 455V467.3M1208.7 455V461.1M1209.4 455V460.2M1209.9 455V461.0M1210.8 455V461.6M1211.3 455V462.9M1211.6 455V461.3M1212.1 455V463.7M1212.8 455V464.7M1213.3 455V459.4M1213.6 455V462.9M1214.1 455V461.1M1215.1 455V460.0M1215.6 455V464.7M1216.0 455V467.7M1216.5 455V461.3M1216.9 455V460.7M1217.4 455V463.2M1218.4 455V459.5M1218.9 455V462.8M1219.3 455V464.0M1219.8 455V464.8M1220.5 455V463.6M1221.0 455V458.9M1221.6 455V464.5M1222.1 455V461.2M1222.8 455V458.3M1223.3 455V462.8M1224.0 455V467.1M1224.5 455V459.2M1225.3 455V461.1M1225.8 455V463.6M1226.7 455V459.2M1227.2 455V465.6M1228.2 455V466.1M1228.7 455V464.1M1229.0 455V466.5M1229.5 455V463.4M1230.1 455V463.3M1230.6 455V464.6M1231.3 455V465.7M1231.8 455V461.7M1232.7 455V465.6M1233.2 455V462.2M1233.6 455V461.6M1234.1 455V458.8M1234.5 455V459.8M1235.0 455V461.0M1235.9 455V458.2M1237.1 455V459.9M1238.9 455V458.6M1240.3 455V458.0M1242.0 455V458.5M1243.9 455V459.8M1245.3 455V458.9M1246.4 455V459.9M1248.3 455V459.2M1249.8 455V460.8M1251.6 455V458.9M1253.3 455V459.4M1254.7 455V460.2M1256.1 455V458.2M1257.4 455V459.3M1258.7 455V460.1M1260.0 455V459.2M1261.8 455V460.6M1263.3 455V458.3M1264.4 455V459.1M1266.4 455V458.1M1267.8 455V459.1M1269.2 455V460.0M1271.1 455V460.9M1272.5 455V460.5M1274.2 455V461.0M1276.2 455V458.6M1277.4 455V459.9M1279.1 455V458.8M1280.9 455V460.3M1282.7 455V458.1M1284.0 455V459.5M1285.3 455V460.3M1286.9 455V459.4M1288.0 455V460.6M1289.9 455V460.9M1290.9 455V458.5M1292.6 455V460.1M1294.6 455V459.9M1295.6 455V459.2M1297.1 455V460.0M1299.1 455V459.7M1301.0 455V459.2M1302.4 455V459.1M1303.9 455V458.1M1305.0 455V459.6M1306.4 455V458.7M1308.1 455V459.5M1310.1 455V459.1M1311.4 455V458.9M1313.0 455V458.9M1314.5 455V460.3M1316.0 455V460.6M1317.3 455V460.0M1319.1 455V460.4M1320.1 455V460.3M1321.1 455V460.8M1322.7 455V458.0M1324.1 455V460.0M1326.1 455V458.2M1327.5 455V460.3M1329.2 455V458.2M1330.4 455V458.9M1331.9 455V460.8M1333.8 455V459.4M1335.3 455V460.1M1336.9 455V458.6M1338.3 455V459.7M1339.6 455V459.8M1341.6 455V459.0M1342.8 455V458.8M1344.4 455V458.8M1346.0 455V459.7M1347.9 455V459.4M1349.2 455V460.3M1350.7 455V459.7M1351.8 455V460.4M1353.6 455V459.7M1355.5 455V460.1M1357.2 455V458.8M1358.5 455V458.4M1359.8 455V458.9M1361.6 455V459.8M1363.4 455V459.6M1365.3 455V460.3M1366.5 455V459.4M1367.9 455V458.7M1369.0 455V460.8M1370.0 455V460.7M1371.9 455V458.2M1373.0 455V458.1M1375.0 455V460.1M1376.8 455V459.6M1378.3 455V458.6M1379.7 455V459.5M1380.8 455V458.9M1382.7 455V460.6M1383.7 455V459.5M1385.4 455V459.8M1387.4 455V458.3M1389.3 455V458.1M1391.2 455V460.1M1392.7 455V460.3M1393.7 455V458.2M1395.7 455V460.5M1397.0 455V459.0M1398.4 455V460.0M1399.6 455V460.6M1401.0 455V458.7M1402.2 455V459.6M1403.5 455V460.2M1405.3 455V459.6M1407.3 455V459.1M1409.1 455V460.3M1410.9 455V459.4M1411.9 455V459.5M1413.7 455V460.9M1415.1 455V460.8M1416.8 455V460.6M1418.7 455V459.4M1419.9 455V459.0M1421.4 455V459.7M1423.0 455V460.8M1424.9 455V459.5M1426.9 455V459.4M1428.7 455V459.4M1430.1 455V458.2M1431.3 455V460.4M1433.0 455V459.4M1434.6 455V459.1M1436.2 455V459.0M1437.7 455V459.0M1438.9 455V460.8M1440.8 455V458.5M1442.8 455V458.9M1444.7 455V458.9M1446.7 455V459.5M1448.3 455V459.4M1449.6 455V459.3M1450.8 455V460.7M1452.2 455V459.7M1453.7 455V459.4M1455.0 455V460.5M1456.9 455V460.8M1458.7 455V460.1M1460.5 455V458.5M1461.8 455V458.7M1462.9 455V459.5M1464.5 455V458.2M1465.6 455V460.9M1466.9 455V458.6M1468.7 455V461.0M1469.8 455V460.2M1471.4 455V460.8M1472.9 455V459.2M1474.5 455V460.3M1476.0 455V458.9M1477.4 455V460.8M1478.7 455V460.9M1480.6 455V460.3M1482.5 455V459.6M1484.2 455V458.7M1485.3 455V459.1M1487.2 455V459.9M1488.6 455V458.7M1490.6 455V458.4M1492.3 455V460.3M1493.9 455V460.8M1495.2 455V463.3M1495.7 455V465.6M1496.1 455V463.4M1496.6 455V460.1M1497.1 455V465.5M1497.6 455V462.9M1498.2 455V459.0M1498.7 455V461.6M1499.0 455V458.7M1499.5 455V460.1M1499.9 455V462.2M1500.4 455V462.4M1501.2 455V464.7M1501.7 455V462.7M1502.1 455V458.5M1502.6 455V461.6M1502.9 455V467.3M1503.4 455V464.5M1504.0 455V467.6M1504.5 455V458.9M1505.1 455V461.9M1505.6 455V464.8M1506.4 455V462.4M1506.9 455V460.8M1507.4 455V464.1M1507.9 455V461.1M1508.5 455V462.6M1509.0 455V464.7M1509.9 455V467.6M1510.4 455V464.0M1511.2 455V460.9M1511.7 455V463.5M1512.5 455V462.3M1513.0 455V463.0M1513.7 455V467.6M1514.2 455V460.6M1514.7 455V464.0M1515.2 455V459.7M1515.6 455V466.9M1516.1 455V458.5M1517.0 455V461.8M1517.5 455V462.5M1518.3 455V463.7M1518.8 455V459.9M1519.5 455V467.7M1520.0 455V459.0M1520.5 455V463.6M1521.0 455V462.0M1521.8 455V460.8M1522.3 455V464.2M1522.9 455V467.7M1523.4 455V462.4M1524.3 455V458.2M1525.5 455V459.1M1526.6 455V459.1M1527.7 455V458.9M1529.6 455V458.7M1530.9 455V459.5M1531.9 455V460.5M1533.1 455V460.1M1534.5 455V460.6M1536.0 455V459.8M1537.3 455V458.7M1538.4 455V460.9M1540.1 455V458.5M1541.3 455V459.1M1543.2 455V459.6M1544.3 455V458.1M1545.4 455V458.1M1546.5 455V458.8M1548.2 455V459.0M1549.5 455V459.7M1550.5 455V458.9M1551.8 455V458.3M1553.3 455V459.5M1555.0 455V459.5M1556.4 455V459.5M1557.9 455V459.6M1559.8 455V458.7M1561.1 455V458.6M1562.9 455V460.1M1564.6 455V459.4M1566.5 455V458.2M1568.3 455V459.6M1569.4 455V461.0M1571.0 455V460.8M1572.7 455V459.8M1573.9 455V459.4M1575.6 455V458.7M1577.1 455V459.0M1578.8 455V458.1M1580.1 455V460.9M1581.2 455V459.9M1582.2 455V460.4M1584.2 455V459.0M1586.1 455V458.1M1587.5 455V460.5M1588.7 455V458.8M1590.4 455V458.6M1590.9 455V459.4M1591.9 455V464.6M1592.4 455V462.8M1593.1 455V458.6M1593.6 455V461.8M1593.9 455V458.3M1594.4 455V465.5M1595.3 455V459.8M1595.8 455V461.8M1596.5 455V460.3M1597.0 455V459.4M1597.5 455V462.6M1598.0 455V464.4M1598.8 455V460.2M1599.8 455V460.6M1601.7 455V458.1M1603.4 455V458.5M1604.9 455V459.2M1605.9 455V459.8M1607.3 455V459.6M1608.4 455V459.2M1609.8 455V460.1M1610.9 455V458.9M1612.0 455V459.2M1613.8 455V458.3M1615.6 455V460.6M1617.4 455V461.0M1619.1 455V460.9M1620.2 455V459.9M1622.0 455V461.0M1623.2 455V459.7M1624.5 455V461.0M1625.6 455V460.1M1627.0 455V459.0M1628.1 455V460.3M1629.3 455V459.8M1630.9 455V460.0M1632.0 455V458.3M1633.8 455V459.1M1635.0 455V458.2M1636.1 455V459.8M1637.5 455V459.3M1638.0 455V463.6M1638.6 455V464.2M1639.1 455V465.2M1639.6 455V466.3M1640.1 455V463.3M1640.9 455V463.5M1641.4 455V462.3M1642.4 455V466.5M1642.9 455V460.4M1643.7 455V462.2M1644.2 455V465.7M1644.9 455V461.8M1645.4 455V466.4M1645.7 455V465.3M1646.2 455V459.3M1646.9 455V466.2M1647.4 455V461.7M1648.4 455V460.3M1648.9 455V458.1M1649.2 455V459.5M1649.7 455V465.4M1650.4 455V464.5M1650.9 455V458.4M1651.2 455V458.4M1651.7 455V463.5M1652.6 455V460.2M1653.1 455V458.4M1653.6 455V467.8M1654.1 455V459.7M1654.8 455V461.4M1655.3 455V464.1M1655.7 455V463.4M1656.2 455V459.2M1657.1 455V460.7M1657.6 455V462.6M1658.1 455V462.5M1658.6 455V463.8M1659.0 455V459.0M1659.5 455V459.4M1660.2 455V461.9M1660.7 455V461.1M1661.5 455V459.4M1662.0 455V463.9M1662.8 455V464.5M1663.3 455V465.3M1664.1 455V462.0M1664.6 455V461.4M1665.1 455V461.8M1665.6 455V465.1M1666.5 455V462.1M1667.0 455V463.4M1667.9 455V461.2M1668.4 455V461.2M1668.8 455V460.7M1669.3 455V464.3M1669.8 455V463.1M1670.3 455V459.7M1670.8 455V465.8M1671.3 455V458.3M1671.9 455V460.0M1672.4 455V459.0M1673.1 455V458.2M1673.6 455V461.8M1674.1 455V468.4M1674.6 455V461.0M1675.3 455V459.3M1675.8 455V464.8M1676.2 455V459.0M1676.7 455V461.4M1677.4 455V467.6M1677.9 455V466.0M1678.5 455V466.3M1679.0 455V463.6M1679.6 455V463.5M1680.1 455V464.0M1681.0 455V466.8M1681.5 455V458.8M1682.0 455V462.7M1682.5 455V461.9M1683.4 455V466.6M1683.9 455V458.0M1684.4 455V466.2M1684.9 455V462.9M1685.5 455V460.2M1686.0 455V461.9M1686.4 455V459.5M1686.9 455V459.7M1687.2 455V468.6M1687.7 455V465.0M1688.1 455V466.1M1688.6 455V464.8M1689.1 455V467.6M1689.6 455V465.6M1690.4 455V465.7M1690.9 455V464.5M1691.5 455V462.0M1692.0 455V461.8M1692.5 455V464.1M1693.0 455V459.2M1693.6 455V458.3M1694.1 455V458.7M1695.0 455V458.3M1695.5 455V460.6M1696.3 455V462.1M1696.8 455V459.5M1697.6 455V466.5M1698.1 455V458.7M1698.7 455V462.8M1699.2 455V461.0M1699.6 455V466.7M1700.1 455V465.7M1701.1 455V459.8M1701.6 455V466.3M1702.0 455V461.2M1702.5 455V461.7M1702.9 455V467.6M1703.4 455V465.2M1704.0 455V468.1M1704.5 455V463.0M1705.1 455V460.4M1705.6 455V458.5M1706.2 455V462.3M1706.7 455V462.7M1707.4 455V462.0M1707.9 455V460.3M1708.2 455V463.1M1708.7 455V458.2M1709.3 455V463.6M1709.8 455V458.2M1710.5 455V463.3M1711.0 455V460.9M1711.9 455V466.9M1712.4 455V465.5M1713.0 455V463.7M1713.5 455V462.8M1714.4 455V458.6M1714.9 455V464.3" fill="none" stroke="#0a0a0a" stroke-width="1.1"/><path d="M805.0 456V484.4M806.2 456V475.8M807.5 456V466.9M808.8 456V485.3M810.0 456V476.1h2.6V464.5M810.8 456V482.7M812.1 456V474.6h5.0V470.8M813.5 456V469.8h2.2V465.4M814.6 456V485.1M815.4 456V474.9M816.4 456V481.3h2.3V467.8M817.9 456V470.2h2.2V465.9M818.8 456V480.3M819.7 456V479.3M820.5 456V491.6M821.4 456V480.6M822.2 456V479.0M823.2 456V488.7M823.9 456V478.9M824.7 456V483.0M825.5 456V485.9M826.5 456V490.7M827.4 456V488.2M828.4 456V490.3M829.2 458.1V462.0h7.8V459.3M834.7 456.8V471.1h3.6V466.4M836.1 457.1V465.4h5.6V461.9M839.7 458.1V462.0h2.6V456.9M843.2 458.2V472.0h2.9V462.0M846.9 457.3V468.7h7.5V458.3M856.7 457.4V469.4h2.7V460.5M859.5 456.6V461.7h4.2V457.7M862.2 458.4V468.5h3.6V461.5M864.1 457.5V467.7h4.2V463.2M867.9 457.2V466.3h4.0V461.9M869.5 456.2V470.3h7.9V462.1M870.5 458.4V469.0h5.6V462.7M872.6 457.3V463.1h2.8V458.3M876.1 457.4V466.5h3.5V463.3M877.9 457.8V465.2h6.3V459.6M884.9 456V472.8M886.2 456V474.1h4.2V468.9M887.5 456V478.3M889.0 456V468.6M890.4 456V470.6M891.7 456V476.8h4.4V464.0M892.7 456V465.7M894.0 456V479.1M895.5 456V472.0h4.2V465.9M896.7 456V468.4M898.1 456V477.5M899.2 456V472.2M900.5 456V471.9M901.8 456V474.8h3.6V465.5M903.3 456V471.1h3.3V466.7M904.7 456V466.4M906.2 456V463.6h2.7V460.9M907.2 456V465.0M908.1 456V466.5M909.2 456V472.1h2.6V465.9M910.4 456V473.5M911.4 456V478.4h2.9V473.0M912.3 456V465.5h4.2V460.1M913.2 456V476.5h3.2V469.2M914.0 456V478.5M914.9 456V471.6M915.8 456V463.8M917.0 456V466.3h4.5V464.2M918.4 456V479.2M919.8 456V471.9M921.0 456V477.4h3.4V470.3M922.1 456V471.8h4.7V467.1M923.4 456V470.0M924.5 456V467.5M925.9 456V470.0M927.3 456V476.1M928.6 456V471.1h3.1V465.3M929.8 456V474.4h4.0V466.8M931.0 456V474.0M932.3 456V473.5M933.3 456V466.5M934.2 456V472.4M935.6 456V473.9M936.5 456V464.0M937.4 456V471.5M938.2 456V472.0M939.3 456V472.6h4.1V463.4M940.1 456V465.8M941.2 456V464.0M942.6 456V470.4M944.1 456V478.9M945.3 456V473.3h3.9V465.2M946.2 456V465.3M947.5 456V473.0M948.8 456V479.2M949.8 456V476.4M950.8 456V472.7M952.1 458.6V463.2h7.9V457.1M953.1 457.6V464.8h5.9V461.6M955.7 458.2V465.3h3.7V460.6M957.6 456.6V468.3h5.9V458.9M963.6 456.2V461.8h7.3V459.8M966.5 456.9V462.8h6.1V460.5M968.2 457.1V462.2h4.5V457.6M972.7 458.7V463.8h4.7V457.1M973.9 456.6V464.2h4.7V459.8M977.3 456.1V467.8h7.3V462.3M988.8 457.5V464.0h7.8V458.4M1001.7 456.2V464.8h4.1V457.0M1004.8 456.1V465.1h5.7V457.4M1005.9 456.7V463.0h6.4V458.4M1007.1 458.5V467.8h4.2V460.4M1012.4 457.2V461.4h7.7V457.2M1013.9 456.0V469.9h6.1V463.8M1017.1 458.6V462.3h4.3V459.4M1019.9 458.5V467.9h2.5V458.5M1021.7 457.4V467.4h3.0V460.7M1029.3 457.4V463.7h2.9V460.0M1038.5 457.0V464.3h5.5V460.3M1039.9 458.8V462.7h6.5V459.4M1041.5 456.3V468.4h3.0V463.6M1043.2 456.3V464.6h7.1V458.9M1044.4 457.3V464.6h2.9V457.3M1047.7 458.1V464.7h2.6V460.0M1051.3 457.1V464.0h6.1V461.1M1056.3 459.0V465.5h3.3V458.6M1060.2 458.8V466.1h6.3V461.1M1061.6 457.6V469.8h3.2V458.2M1063.2 457.8V469.2h8.0V458.8M1064.3 458.5V469.1h3.8V460.6M1065.5 458.8V461.2h3.5V456.6M1070.7 457.7V465.2h3.3V460.3M1071.8 456.1V466.1h4.3V459.2M1085.2 457.8V467.5h7.5V459.0M1088.0 456V475.6M1088.9 456V470.0h3.2V461.9M1089.7 456V479.0M1090.8 456V480.7M1092.2 456V467.6M1093.7 456V471.3h2.2V467.4M1095.1 456V477.3h2.1V472.0M1096.1 456V485.5M1097.0 456V483.8h4.5V469.3M1098.2 456V485.9h3.9V467.8M1099.6 456V480.2h4.7V473.8M1100.9 456V484.7M1101.7 456V479.9h2.5V466.0M1103.0 456V478.9M1104.2 456V484.5M1105.2 456V485.6M1106.4 456V477.6h2.8V471.2M1107.2 456V470.2h3.6V461.6M1108.7 456V474.7M1109.7 456V468.8M1111.0 456V481.4M1112.1 456V475.9M1113.1 456V477.8h3.3V470.9M1114.4 456V475.3h3.7V466.6M1115.2 456V477.0M1116.2 456V475.4M1117.3 456V466.5M1118.5 456V470.0h2.9V460.5M1119.5 456V470.6M1120.3 456V470.4h4.1V466.3M1121.7 456V472.7h4.9V461.3M1122.8 456V468.0M1124.2 456V483.7h3.2V468.4M1125.3 456V485.9M1126.6 456V476.6h3.4V471.8M1127.6 456V477.8h3.2V469.6M1128.5 456V483.2M1129.9 456V482.7M1131.2 456V468.9M1132.1 459.0V467.8h4.2V461.1M1133.8 457.1V466.8h2.9V459.1M1135.1 458.1V465.4h4.7V457.4M1136.4 458.2V473.3h4.5V460.2M1138.3 457.0V466.8h3.0V457.8M1140.0 456.5V466.9h3.8V463.4M1141.6 458.1V467.3h5.5V463.0M1144.1 458.6V470.6h4.7V462.9M1145.3 457.9V464.8h2.7V462.0M1151.3 456V485.7h3.3V470.7M1152.2 456V481.9h2.5V469.0M1153.3 456V474.7h3.0V465.6M1154.2 456V483.5M1155.0 456V469.8M1155.8 456V481.1h2.8V463.8M1156.9 456V475.3M1157.8 456V494.7M1159.0 456V485.6M1160.1 458.7V470.2h7.3V462.7M1163.6 457.6V468.7h3.8V464.9M1175.3 456.7V469.4h5.4V463.5M1177.7 457.4V462.7h6.4V460.2M1179.5 456.8V470.6h7.3V465.8M1181.0 457.0V469.0h3.9V459.5M1187.7 456.0V468.6h3.8V463.4M1189.3 456V467.8M1190.3 456V484.6M1191.2 456V465.9h4.2V463.9M1192.1 456V476.4M1193.1 456V482.6h3.2V472.2M1194.5 456V479.6M1195.8 456V495.9M1196.8 456V496.2M1197.5 456V496.8M1198.4 456V505.2M1199.1 456V494.8M1200.1 456V497.7M1200.9 456V514.7M1201.7 456V503.0M1202.3 456V508.7M1203.0 456V479.9M1204.4 456V463.6h2.4V458.6M1205.4 456V471.8h2.6V468.3M1206.2 456V476.5M1207.3 456V476.1M1208.2 456V475.0h4.7V461.9M1209.4 456V469.4M1210.8 456V469.1h4.7V462.1M1211.6 456V466.8M1212.8 456V465.0h3.1V460.6M1213.6 456V468.6M1215.1 456V468.6M1216.0 456V479.4h3.2V471.3M1216.9 456V479.1h2.6V467.1M1218.4 456V469.6M1219.3 456V477.6M1220.5 456V477.3M1221.6 456V469.7h3.8V464.0M1222.8 456V470.7M1224.0 456V471.1M1225.3 456V479.8M1226.7 456V471.5h4.5V465.7M1228.2 456V471.8M1229.0 456V467.4M1230.1 456V466.5h3.9V459.5M1231.3 456V467.3M1232.7 456V478.4M1233.6 456V463.8h4.6V461.6M1234.5 456V477.5M1240.3 457.8V466.0h6.0V461.3M1242.0 456.3V470.4h5.1V465.0M1243.9 458.2V464.6h8.0V458.4M1249.8 456.9V470.5h3.8V461.1M1260.0 457.0V472.8h3.9V463.5M1264.4 458.7V470.8h6.2V463.3M1274.2 456.7V467.7h4.7V459.6M1276.2 456.3V464.0h4.7V458.0M1280.9 458.8V467.8h2.6V458.2M1282.7 458.4V468.6h5.4V464.0M1284.0 457.5V468.9h3.2V464.4M1285.3 457.4V467.1h2.8V462.3M1288.0 457.8V473.7h5.4V464.1M1292.6 456.9V468.5h2.7V463.9M1295.6 457.0V465.4h3.1V457.4M1301.0 457.3V465.1h3.9V460.4M1306.4 456.7V462.5h4.2V458.7M1308.1 457.8V462.8h7.8V460.7M1314.5 458.4V460.5h3.9V458.4M1317.3 457.0V466.9h7.1V461.5M1320.1 457.9V464.3h5.5V457.2M1327.5 457.0V463.1h4.9V460.4M1329.2 456.3V465.8h6.2V459.6M1331.9 456.4V462.8h5.4V457.3M1333.8 458.8V462.9h4.6V458.0M1335.3 456.5V465.4h3.1V458.4M1336.9 457.6V461.0h4.4V457.7M1344.4 457.3V465.7h4.6V458.6M1349.2 458.1V462.0h7.2V460.1M1350.7 458.4V460.9h7.7V457.2M1351.8 456.4V461.3h5.4V457.8M1355.5 458.6V466.6h6.5V461.6M1357.2 456.9V460.0h5.5V458.2M1359.8 458.6V463.5h7.3V460.5M1365.3 458.4V460.2h7.7V458.0M1366.5 457.7V465.1h7.7V459.6M1370.0 456.9V463.9h3.2V456.8M1376.8 457.1V463.6h3.5V458.9M1379.7 457.7V463.3h5.6V456.9M1380.8 458.8V464.9h7.7V457.0M1389.3 456.1V466.1h7.8V462.9M1397.0 457.6V465.4h3.9V459.3M1399.6 458.4V460.9h3.9V458.0M1402.2 456.9V466.1h3.5V461.7M1405.3 457.2V465.3h3.8V461.3M1407.3 456.4V466.4h7.9V460.8M1409.1 457.8V465.5h4.6V461.0M1411.9 456.6V460.3h7.5V458.6M1415.1 456.4V465.0h7.7V461.2M1418.7 456.2V460.7h4.0V456.6M1419.9 457.6V462.0h3.5V459.8M1423.0 458.3V461.4h2.9V458.8M1424.9 458.4V462.2h5.6V459.3M1428.7 458.3V466.6h7.9V463.3M1430.1 456.1V461.1h6.6V458.9M1433.0 456.8V460.0h4.2V458.7M1436.2 457.6V466.2h5.7V460.6M1442.8 456.5V465.0h3.8V459.2M1444.7 457.5V464.8h4.4V459.2M1446.7 457.7V459.9h5.2V458.1M1448.3 458.9V463.4h5.1V458.3M1449.6 458.4V465.6h3.8V457.9M1453.7 456.6V465.9h5.3V460.9M1462.9 458.8V465.5h5.9V457.5M1469.8 458.6V466.1h6.7V458.3M1472.9 456.7V460.0h3.4V456.9M1476.0 458.8V461.2h6.1V457.5M1480.6 456.1V461.8h5.4V458.4M1484.2 456.2V464.0h3.8V460.0M1495.2 456V472.1h4.3V461.3M1496.1 456V475.3M1497.1 456V475.1M1498.2 456V479.2M1499.0 456V474.9M1499.9 456V475.7M1501.2 456V464.0M1502.1 456V463.5h3.2V460.0M1502.9 456V471.4M1504.0 456V468.3h4.6V462.8M1505.1 456V467.5M1506.4 456V470.5M1507.4 456V468.3M1508.5 456V470.8M1509.9 456V469.9M1511.2 456V479.2M1512.5 456V467.0M1513.7 456V475.2h3.2V469.1M1514.7 456V469.9M1515.6 456V473.0M1517.0 456V475.2M1518.3 456V475.0M1519.5 456V476.3h4.2V471.7M1520.5 456V471.5h3.9V467.6M1521.8 456V470.3h3.8V463.6M1522.9 456V479.2M1524.3 457.1V469.6h6.3V458.8M1529.6 458.2V463.3h3.0V457.6M1534.5 458.4V467.2h4.2V460.9M1538.4 458.7V466.8h4.9V458.2M1540.1 458.6V469.8h3.7V458.3M1541.3 456.2V469.9h2.8V459.9M1544.3 456.2V472.8h5.8V459.1M1549.5 456.8V465.9h3.9V461.2M1553.3 458.0V471.8h6.6V461.1M1559.8 457.9V465.3h2.7V458.1M1564.6 458.8V468.1h7.3V457.3M1566.5 456.9V472.7h5.5V462.5M1569.4 456.3V463.6h4.6V458.4M1578.8 458.3V469.2h3.7V464.7M1581.2 456.2V470.9h6.5V459.7M1582.2 457.4V464.2h2.7V460.9M1584.2 457.8V471.1h3.5V460.8M1587.5 458.9V469.9h3.5V461.6M1590.4 456V467.2h4.5V463.3M1591.9 456V469.6M1593.1 456V469.7M1593.9 456V469.4h2.4V464.0M1595.3 456V471.6M1596.5 456V475.4h4.6V462.1M1597.5 456V473.6M1598.8 456.1V472.0h3.3V465.6M1599.8 457.8V463.3h2.8V457.4M1601.7 456.6V465.7h3.6V462.1M1603.4 457.7V468.6h4.6V463.7M1605.9 457.8V466.2h2.6V457.7M1610.9 458.8V471.1h6.8V460.2M1615.6 457.7V469.4h7.8V458.2M1619.1 458.3V467.0h5.6V462.8M1620.2 457.3V466.1h5.8V461.9M1622.0 458.5V466.6h6.3V462.2M1623.2 457.0V462.3h2.5V460.4M1625.6 458.8V467.9h6.5V458.2M1627.0 458.1V466.0h6.6V460.2M1629.3 458.2V462.7h4.8V460.0M1632.0 457.6V467.7h7.0V459.4M1633.8 456.1V469.8h2.6V463.8M1637.5 456V477.1M1638.6 456V476.1M1639.6 456V472.3h3.4V463.0M1640.9 456V464.9h3.8V461.7M1642.4 456V472.1M1643.7 456V472.6M1644.9 456V464.6M1645.7 456V466.5M1646.9 456V469.2M1648.4 456V479.9M1649.2 456V477.4h4.0V464.7M1650.4 456V480.8h2.4V473.1M1651.2 456V472.4M1652.6 456V474.8M1653.6 456V475.5h4.8V471.1M1654.8 456V480.2M1655.7 456V473.7M1657.1 456V469.6h4.2V465.2M1658.1 456V477.0M1659.0 456V478.8M1660.2 456V467.0M1661.5 456V474.7M1662.8 456V481.4M1664.1 456V470.5M1665.1 456V478.4M1666.5 456V468.4h2.3V464.7M1667.9 456V465.9h3.9V463.4M1668.8 456V467.9M1669.8 456V469.1M1670.8 456V475.4M1671.9 456V465.2M1673.1 456V474.7h2.1V465.5M1674.1 456V480.6M1675.3 456V465.4M1676.2 456V466.6M1677.4 456V477.6M1678.5 456V466.7M1679.6 456V476.3M1681.0 456V466.4h2.5V464.1M1682.0 456V474.1h4.3V464.4M1683.4 456V473.8h4.7V461.9M1684.4 456V475.9M1685.5 456V468.5M1686.4 456V473.5M1687.2 456V470.7h4.5V467.6M1688.1 456V480.9h2.4V465.5M1689.1 456V472.4h3.1V462.9M1690.4 456V471.8M1691.5 456V476.3M1692.5 456V464.6M1693.6 456V471.5M1695.0 456V470.5h2.4V464.6M1696.3 456V465.7h4.3V460.0M1697.6 456V467.2h4.3V463.5M1698.7 456V472.4M1699.6 456V474.7M1701.1 456V467.5M1702.0 456V479.1M1702.9 456V473.1h2.9V463.6M1704.0 456V478.7h2.7V471.1M1705.1 456V464.7M1706.2 456V469.1h4.0V462.1M1707.4 456V464.7h2.9V459.1M1708.2 456V479.8M1709.3 456V465.6M1710.5 456V477.5M1711.9 456V477.0M1713.0 456V473.4M1714.4 456V475.0" fill="none" stroke="#1c1c1c" stroke-width="0.75"/>
<path d="M813.1 482.0V504.7H820.1V483.7M809.6 462.7V482.0H815.7V466.2M825.4 483.7V506.1H856.0V490.4M843.7 473.2V490.4H869.1V481.6M835.0 461.0V473.2H850.7V462.7M861.2 469.7V481.6H876.1V471.5M816.6 504.7V521.4H841.1V506.1M894.5 491.6V507.4H918.1V496.9M890.1 473.2V491.6H899.7V475.0M909.3 482.0V496.9H926.0V486.4M905.0 466.2V482.0H912.8V469.7M922.5 469.7V486.4H930.3V471.5M940.8 483.7V514.4H996.8V507.9M965.3 485.8V507.9H1027.4V494.6M958.3 471.5V485.8H973.2V474.1M1004.7 480.2V494.6H1051.0V482.9M994.2 466.2V480.2H1013.4V468.0M1033.6 475.0V482.9H1067.7V476.4M1058.0 464.5V476.4H1077.3V466.2M1027.4 464.5V475.0H1039.7V466.2M905.8 507.4V534.5H968.8V514.4M828.9 521.4V545.8H937.3V534.5M1101.4 516.1V548.1H1143.4V520.1M1093.5 494.2V516.1H1109.2V505.6M1104.0 483.7V505.6H1114.5V494.2M1131.1 489.9V520.1H1155.6V496.0M1125.9 475.0V489.9H1136.4V482.0M1191.5 524.3V552.0H1264.9V535.9M1184.5 500.4V524.3H1199.3V506.5M1174.0 481.1V500.4H1195.0V485.5M1217.7 508.2V535.9H1313.9V520.1M1210.7 483.7V508.2H1223.8V501.2M1219.5 475.0V501.2H1228.2V483.7M1257.1 497.7V520.1H1370.8V499.1M1244.0 476.7V497.7H1271.1V489.0M1263.2 471.5V489.0H1278.9V475.0M1310.4 471.5V486.9H1344.5V476.7M1335.8 466.2V476.7H1354.2V468.0M1303.4 462.7V471.5H1317.4V464.5M1238.7 464.5V476.7H1250.1V466.2M1165.2 462.7V481.1H1181.0V466.2M1327.1 486.9V499.1H1414.0V491.4M1381.3 471.5V490.3H1447.6V480.3M1369.0 462.7V471.1H1394.4V464.5M1418.8 469.7V480.3H1477.3V475.5M1408.2 461.1V469.7H1429.3V463.0M1463.9 463.0V475.5H1489.8V466.9M1509.0 510.6V539.8H1581.9V517.7M1502.2 488.0V510.6H1515.7V499.5M1497.4 472.6V488.0H1505.1V474.5M1511.8 476.5V499.5H1520.5V478.4M1549.2 491.8V517.7H1614.5V508.1M1532.9 478.4V491.8H1566.5V481.3M1555.0 468.8V481.3H1577.1V470.7M1528.1 464.9V478.4H1537.7V466.9M1598.2 489.9V508.1H1629.8V491.8M1592.4 472.6V489.9H1603.9V474.5M1626.0 472.6V491.8H1633.7V474.5M1650.0 528.3V546.1H1691.2V535.4M1642.3 490.8V528.3H1657.7V506.2M1653.8 478.4V506.2H1662.4V482.2M1677.8 498.5V535.4H1704.7V508.1M1672.0 478.4V498.5H1683.6V480.3M1699.9 482.2V508.1H1708.5V484.1M883.1 555.8H1670.1M883.1 545.8V555.8M1122.4 548.1V555.8M1229.1 552.0V555.8M1545.4 539.8V555.8M1670.1 546.1V555.8" fill="none" stroke="#444" stroke-width="1.4"/>
<rect x="804.5" y="451.2" width="911" height="5.5" fill="#050505"/>
<text x="1722" y="207.0" class="ls" font-size="22" fill="#333" textLength="30.3" lengthAdjust="spacingAndGlyphs">MP</text>
<text x="1722" y="279.0" class="ls" font-size="22" fill="#333" textLength="31.5" lengthAdjust="spacingAndGlyphs">MD</text>
<text x="1722" y="351.0" class="ls" font-size="22" fill="#333" textLength="45.6" lengthAdjust="spacingAndGlyphs">PSO</text>
<text x="1722" y="423.0" class="ls" font-size="22" fill="#333" textLength="29.0" lengthAdjust="spacingAndGlyphs">CK</text>
<text transform="translate(791 612.3) rotate(-90)" class="ls" font-size="28" font-weight="bold" fill="#1a1a1a" textLength="609" lengthAdjust="spacingAndGlyphs">Cluster analysis of differentially expressed genes</text>
</g>
<g id="panelC">
<rect x="258.4" y="815.2" width="364.5" height="777.3" fill="#fff" stroke="#b0b0b0" stroke-width="1.2"/>
<rect x="258.4" y="819.19" width="313.8" height="22.91" fill="#5a9e87"/>
<text x="573.4" y="835.1" class="ls" font-size="9" fill="#111">*</text>
<text x="102.6" y="835.5" class="ls" font-size="13" fill="#111" stroke="#111" stroke-width="0.45" textLength="151.4" lengthAdjust="spacingAndGlyphs">multicellular organismal process</text>
<line x1="255.4" x2="258.4" y1="830.6" y2="830.6" stroke="#222" stroke-width="1"/>
<rect x="258.4" y="844.93" width="282.1" height="22.91" fill="#5a9e87"/>
<text x="541.7" y="860.9" class="ls" font-size="9" fill="#111">*</text>
<text x="146.6" y="861.3" class="ls" font-size="13" fill="#111" stroke="#111" stroke-width="0.45" textLength="107.4" lengthAdjust="spacingAndGlyphs">developmental process</text>
<line x1="255.4" x2="258.4" y1="856.4" y2="856.4" stroke="#222" stroke-width="1"/>
<rect x="258.4" y="870.67" width="265.9" height="22.91" fill="#5a9e87"/>
<text x="525.5" y="886.6" class="ls" font-size="9" fill="#111">*</text>
<text x="96.8" y="887.0" class="ls" font-size="13" fill="#111" stroke="#111" stroke-width="0.45" textLength="157.2" lengthAdjust="spacingAndGlyphs">anatomical structure development</text>
<line x1="255.4" x2="258.4" y1="882.1" y2="882.1" stroke="#222" stroke-width="1"/>
<rect x="258.4" y="896.40" width="249.6" height="22.91" fill="#5a9e87"/>
<text x="509.2" y="912.4" class="ls" font-size="9" fill="#111">*</text>
<text x="88.5" y="912.8" class="ls" font-size="13" fill="#111" stroke="#111" stroke-width="0.45" textLength="165.5" lengthAdjust="spacingAndGlyphs">multicellular organism development</text>
<line x1="255.4" x2="258.4" y1="907.9" y2="907.9" stroke="#222" stroke-width="1"/>
<rect x="258.4" y="922.14" width="231.1" height="22.91" fill="#5a9e87"/>
<text x="490.7" y="938.1" class="ls" font-size="9" fill="#111">*</text>
<text x="158.5" y="938.5" class="ls" font-size="13" fill="#111" stroke="#111" stroke-width="0.45" textLength="95.5" lengthAdjust="spacingAndGlyphs">system development</text>
<line x1="255.4" x2="258.4" y1="933.6" y2="933.6" stroke="#222" stroke-width="1"/>
<rect x="258.4" y="947.88" width="192.3" height="22.91" fill="#5a9e87"/>
<text x="451.9" y="963.8" class="ls" font-size="9" fill="#111">*</text>
<text x="170.3" y="964.2" class="ls" font-size="13" fill="#111" stroke="#111" stroke-width="0.45" textLength="83.7" lengthAdjust="spacingAndGlyphs">cell differentiation</text>
<line x1="255.4" x2="258.4" y1="959.3" y2="959.3" stroke="#222" stroke-width="1"/>
<rect x="258.4" y="973.62" width="174.3" height="22.91" fill="#5a9e87"/>
<text x="433.9" y="989.6" class="ls" font-size="9" fill="#111">*</text>
<text x="131.6" y="990.0" class="ls" font-size="13" fill="#111" stroke="#111" stroke-width="0.45" textLength="122.4" lengthAdjust="spacingAndGlyphs">animal organ development</text>
<line x1="255.4" x2="258.4" y1="985.1" y2="985.1" stroke="#222" stroke-width="1"/>
<rect x="258.4" y="999.36" width="165.9" height="22.91" fill="#5a9e87"/>
<text x="425.5" y="1015.3" class="ls" font-size="9" fill="#111">*</text>
<text x="42.3" y="1015.7" class="ls" font-size="13" fill="#111" stroke="#111" stroke-width="0.45" textLength="211.7" lengthAdjust="spacingAndGlyphs">regulation of multicellular organismal process</text>
<line x1="255.4" x2="258.4" y1="1010.8" y2="1010.8" stroke="#222" stroke-width="1"/>
<rect x="258.4" y="1025.10" width="162.0" height="22.91" fill="#5a9e87"/>
<text x="421.6" y="1041.1" class="ls" font-size="9" fill="#111">*</text>
<text x="76.2" y="1041.5" class="ls" font-size="13" fill="#111" stroke="#111" stroke-width="0.45" textLength="177.8" lengthAdjust="spacingAndGlyphs">cellular response to chemical stimulus</text>
<line x1="255.4" x2="258.4" y1="1036.6" y2="1036.6" stroke="#222" stroke-width="1"/>
<rect x="258.4" y="1050.84" width="160.7" height="22.91" fill="#5a9e87"/>
<text x="420.3" y="1066.8" class="ls" font-size="9" fill="#111">*</text>
<text x="112.2" y="1067.2" class="ls" font-size="13" fill="#111" stroke="#111" stroke-width="0.45" textLength="141.8" lengthAdjust="spacingAndGlyphs">response to organic substance</text>
<line x1="255.4" x2="258.4" y1="1062.3" y2="1062.3" stroke="#222" stroke-width="1"/>
<rect x="258.4" y="1076.57" width="155.8" height="22.91" fill="#5a9e87"/>
<text x="415.4" y="1092.5" class="ls" font-size="9" fill="#111">*</text>
<text x="73.1" y="1092.9" class="ls" font-size="13" fill="#111" stroke="#111" stroke-width="0.45" textLength="180.9" lengthAdjust="spacingAndGlyphs">cell surface receptor signaling pathway</text>
<line x1="255.4" x2="258.4" y1="1088.0" y2="1088.0" stroke="#222" stroke-width="1"/>
<rect x="258.4" y="1102.31" width="147.4" height="22.91" fill="#5a9e87"/>
<text x="407.0" y="1118.3" class="ls" font-size="9" fill="#111">*</text>
<text x="84.5" y="1118.7" class="ls" font-size="13" fill="#111" stroke="#111" stroke-width="0.45" textLength="169.5" lengthAdjust="spacingAndGlyphs">anatomical structure morphogenesis</text>
<line x1="255.4" x2="258.4" y1="1113.8" y2="1113.8" stroke="#222" stroke-width="1"/>
<rect x="258.4" y="1128.05" width="142.6" height="22.91" fill="#5a9e87"/>
<text x="402.2" y="1144.0" class="ls" font-size="9" fill="#111">*</text>
<text x="117.1" y="1144.4" class="ls" font-size="13" fill="#111" stroke="#111" stroke-width="0.45" textLength="136.9" lengthAdjust="spacingAndGlyphs">response to external stimulus</text>
<line x1="255.4" x2="258.4" y1="1139.5" y2="1139.5" stroke="#222" stroke-width="1"/>
<rect x="258.4" y="1153.79" width="141.3" height="22.91" fill="#5a9e87"/>
<text x="400.9" y="1169.7" class="ls" font-size="9" fill="#111">*</text>
<text x="140.0" y="1170.1" class="ls" font-size="13" fill="#111" stroke="#111" stroke-width="0.45" textLength="114.0" lengthAdjust="spacingAndGlyphs">regulation of localization</text>
<line x1="255.4" x2="258.4" y1="1165.2" y2="1165.2" stroke="#222" stroke-width="1"/>
<rect x="258.4" y="1179.53" width="140.4" height="22.91" fill="#5a9e87"/>
<text x="400.0" y="1195.5" class="ls" font-size="9" fill="#111">*</text>
<text x="85.8" y="1195.9" class="ls" font-size="13" fill="#111" stroke="#111" stroke-width="0.45" textLength="168.2" lengthAdjust="spacingAndGlyphs">regulation of developmental process</text>
<line x1="255.4" x2="258.4" y1="1191.0" y2="1191.0" stroke="#222" stroke-width="1"/>
<rect x="258.4" y="1205.27" width="137.8" height="22.91" fill="#5a9e87"/>
<text x="397.4" y="1221.2" class="ls" font-size="9" fill="#111">*</text>
<text x="75.3" y="1221.6" class="ls" font-size="13" fill="#111" stroke="#111" stroke-width="0.45" textLength="178.7" lengthAdjust="spacingAndGlyphs">cellular response to organic substance</text>
<line x1="255.4" x2="258.4" y1="1216.7" y2="1216.7" stroke="#222" stroke-width="1"/>
<rect x="258.4" y="1231.00" width="118.8" height="22.91" fill="#5a9e87"/>
<text x="378.4" y="1247.0" class="ls" font-size="9" fill="#111">*</text>
<text x="54.6" y="1247.4" class="ls" font-size="13" fill="#111" stroke="#111" stroke-width="0.45" textLength="199.4" lengthAdjust="spacingAndGlyphs">movement of cell or subcellular component</text>
<line x1="255.4" x2="258.4" y1="1242.5" y2="1242.5" stroke="#222" stroke-width="1"/>
<rect x="258.4" y="1256.74" width="115.3" height="22.91" fill="#5a9e87"/>
<text x="374.9" y="1272.7" class="ls" font-size="9" fill="#111">*</text>
<text x="19.8" y="1273.1" class="ls" font-size="13" fill="#111" stroke="#111" stroke-width="0.45" textLength="234.2" lengthAdjust="spacingAndGlyphs">regulation of multicellular organismal development</text>
<line x1="255.4" x2="258.4" y1="1268.2" y2="1268.2" stroke="#222" stroke-width="1"/>
<rect x="258.4" y="1282.48" width="110.5" height="22.91" fill="#5a9e87"/>
<text x="370.1" y="1298.4" class="ls" font-size="9" fill="#111">*</text>
<text x="202.5" y="1298.8" class="ls" font-size="13" fill="#111" stroke="#111" stroke-width="0.45" textLength="51.5" lengthAdjust="spacingAndGlyphs">locomotion</text>
<line x1="255.4" x2="258.4" y1="1293.9" y2="1293.9" stroke="#222" stroke-width="1"/>
<rect x="258.4" y="1308.22" width="105.6" height="22.91" fill="#5a9e87"/>
<text x="365.2" y="1324.2" class="ls" font-size="9" fill="#111">*</text>
<text x="126.8" y="1324.6" class="ls" font-size="13" fill="#111" stroke="#111" stroke-width="0.45" textLength="127.2" lengthAdjust="spacingAndGlyphs">cell population proliferation</text>
<line x1="255.4" x2="258.4" y1="1319.7" y2="1319.7" stroke="#222" stroke-width="1"/>
<rect x="258.4" y="1333.96" width="99.5" height="22.91" fill="#5a9e87"/>
<text x="359.1" y="1349.9" class="ls" font-size="9" fill="#111">*</text>
<text x="200.3" y="1350.3" class="ls" font-size="13" fill="#111" stroke="#111" stroke-width="0.45" textLength="53.7" lengthAdjust="spacingAndGlyphs">cell motility</text>
<line x1="255.4" x2="258.4" y1="1345.4" y2="1345.4" stroke="#222" stroke-width="1"/>
<rect x="258.4" y="1359.70" width="99.5" height="22.91" fill="#5a9e87"/>
<text x="359.1" y="1375.6" class="ls" font-size="9" fill="#111">*</text>
<text x="170.3" y="1376.0" class="ls" font-size="13" fill="#111" stroke="#111" stroke-width="0.45" textLength="83.7" lengthAdjust="spacingAndGlyphs">localization of cell</text>
<line x1="255.4" x2="258.4" y1="1371.1" y2="1371.1" stroke="#222" stroke-width="1"/>
<rect x="258.4" y="1385.43" width="94.6" height="22.91" fill="#5a9e87"/>
<text x="354.2" y="1401.4" class="ls" font-size="9" fill="#111">*</text>
<text x="190.6" y="1401.8" class="ls" font-size="13" fill="#111" stroke="#111" stroke-width="0.45" textLength="63.4" lengthAdjust="spacingAndGlyphs">cell migration</text>
<line x1="255.4" x2="258.4" y1="1396.9" y2="1396.9" stroke="#222" stroke-width="1"/>
<rect x="258.4" y="1411.17" width="94.6" height="22.91" fill="#5a9e87"/>
<text x="354.2" y="1427.1" class="ls" font-size="9" fill="#111">*</text>
<text x="65.6" y="1427.5" class="ls" font-size="13" fill="#111" stroke="#111" stroke-width="0.45" textLength="188.4" lengthAdjust="spacingAndGlyphs">regulation of cell population proliferation</text>
<line x1="255.4" x2="258.4" y1="1422.6" y2="1422.6" stroke="#222" stroke-width="1"/>
<rect x="258.4" y="1436.91" width="53.7" height="22.91" fill="#5a9e87"/>
<text x="313.3" y="1452.9" class="ls" font-size="9" fill="#111">*</text>
<text x="138.7" y="1453.3" class="ls" font-size="13" fill="#111" stroke="#111" stroke-width="0.45" textLength="115.3" lengthAdjust="spacingAndGlyphs">vasculature development</text>
<line x1="255.4" x2="258.4" y1="1448.4" y2="1448.4" stroke="#222" stroke-width="1"/>
<rect x="258.4" y="1462.65" width="53.7" height="22.91" fill="#5a9e87"/>
<text x="313.3" y="1478.6" class="ls" font-size="9" fill="#111">*</text>
<text x="88.0" y="1479.0" class="ls" font-size="13" fill="#111" stroke="#111" stroke-width="0.45" textLength="166.0" lengthAdjust="spacingAndGlyphs">cardiovascular system development</text>
<line x1="255.4" x2="258.4" y1="1474.1" y2="1474.1" stroke="#222" stroke-width="1"/>
<rect x="258.4" y="1488.39" width="51.5" height="22.91" fill="#5a9e87"/>
<text x="311.1" y="1504.3" class="ls" font-size="9" fill="#111">*</text>
<text x="133.8" y="1504.7" class="ls" font-size="13" fill="#111" stroke="#111" stroke-width="0.45" textLength="120.2" lengthAdjust="spacingAndGlyphs">blood vessel development</text>
<line x1="255.4" x2="258.4" y1="1499.8" y2="1499.8" stroke="#222" stroke-width="1"/>
<rect x="258.4" y="1514.13" width="35.2" height="22.91" fill="#5a9e87"/>
<text x="294.8" y="1530.1" class="ls" font-size="9" fill="#111">*</text>
<text x="104.8" y="1530.5" class="ls" font-size="13" fill="#111" stroke="#111" stroke-width="0.45" textLength="149.2" lengthAdjust="spacingAndGlyphs">extracellular matrix organization</text>
<line x1="255.4" x2="258.4" y1="1525.6" y2="1525.6" stroke="#222" stroke-width="1"/>
<rect x="258.4" y="1539.86" width="194.1" height="22.91" fill="#454f85"/>
<text x="453.7" y="1555.8" class="ls" font-size="9" fill="#111">*</text>
<text x="164.2" y="1556.2" class="ls" font-size="13" fill="#111" stroke="#111" stroke-width="0.45" textLength="89.8" lengthAdjust="spacingAndGlyphs">extracellular region</text>
<line x1="255.4" x2="258.4" y1="1551.3" y2="1551.3" stroke="#222" stroke-width="1"/>
<rect x="258.4" y="1565.60" width="45.3" height="22.91" fill="#454f85"/>
<text x="304.9" y="1581.6" class="ls" font-size="9" fill="#111">*</text>
<text x="165.1" y="1582.0" class="ls" font-size="13" fill="#111" stroke="#111" stroke-width="0.45" textLength="88.9" lengthAdjust="spacingAndGlyphs">extracellular matrix</text>
<line x1="255.4" x2="258.4" y1="1577.1" y2="1577.1" stroke="#222" stroke-width="1"/>
<line x1="258.4" x2="258.4" y1="815.2" y2="1593.5" stroke="#000" stroke-width="2"/>
<line x1="257.4" x2="623.5" y1="1592.5" y2="1592.5" stroke="#000" stroke-width="2.4"/>
<line x1="258.4" x2="258.4" y1="1592.5" y2="1596.5" stroke="#222" stroke-width="1.2"/>
<text x="255.6" y="1611.5" class="ls" font-size="13" fill="#111" stroke="#111" stroke-width="0.2" textLength="5.5" lengthAdjust="spacingAndGlyphs">0</text>
<line x1="346.9" x2="346.9" y1="1592.5" y2="1596.5" stroke="#222" stroke-width="1.2"/>
<text x="338.9" y="1611.5" class="ls" font-size="13" fill="#111" stroke="#111" stroke-width="0.2" textLength="16.0" lengthAdjust="spacingAndGlyphs">250</text>
<line x1="434.9" x2="434.9" y1="1592.5" y2="1596.5" stroke="#222" stroke-width="1.2"/>
<text x="426.9" y="1611.5" class="ls" font-size="13" fill="#111" stroke="#111" stroke-width="0.2" textLength="16.0" lengthAdjust="spacingAndGlyphs">500</text>
<line x1="522.9" x2="522.9" y1="1592.5" y2="1596.5" stroke="#222" stroke-width="1.2"/>
<text x="514.9" y="1611.5" class="ls" font-size="13" fill="#111" stroke="#111" stroke-width="0.2" textLength="16.0" lengthAdjust="spacingAndGlyphs">750</text>
<line x1="611.4" x2="611.4" y1="1592.5" y2="1596.5" stroke="#222" stroke-width="1.2"/>
<text x="600.9" y="1611.5" class="ls" font-size="13" fill="#111" stroke="#111" stroke-width="0.2" textLength="21.0" lengthAdjust="spacingAndGlyphs">1000</text>
<text x="386" y="1634.5" class="ls" font-size="19" font-weight="bold" fill="#111" textLength="111" lengthAdjust="spacingAndGlyphs">Number of genes</text>
<text x="253.1" y="801" class="ls" font-size="28" font-weight="bold" fill="#111" textLength="376.4" lengthAdjust="spacingAndGlyphs">The Most Enriched GO Terms (MPvsCK_ALL)</text>
<text transform="translate(14.5 1246) rotate(-90)" class="ls" font-size="14" font-weight="bold" fill="#111" textLength="84" lengthAdjust="spacingAndGlyphs">GO term</text>
<path d="M641.7 1153.6H752" fill="none" stroke="#0a0a0a" stroke-width="2.8" stroke-dasharray="9.7 6.6"/>
<path d="M633.5 1253.8H760" fill="none" stroke="#0a0a0a" stroke-width="2.8" stroke-dasharray="9.7 6.6"/>
<path d="M634.5 1152V1248M759.3 1152V1248" fill="none" stroke="#0a0a0a" stroke-width="2.1" stroke-dasharray="16.5 9.5"/>
<text x="639" y="1180.5" class="ls" font-size="20" font-weight="bold" fill="#111" textLength="28" lengthAdjust="spacingAndGlyphs">type</text>
<rect x="640.5" y="1193.7" width="15.4" height="24.7" fill="#5a9e87"/>
<rect x="640.5" y="1220" width="15.4" height="24.3" fill="#454f85"/>
<text x="663" y="1211.5" class="ls" font-size="13" fill="#111" stroke="#111" stroke-width="0.55" textLength="86.6" lengthAdjust="spacingAndGlyphs">biological_process</text>
<text x="663" y="1237.5" class="ls" font-size="13" fill="#111" stroke="#111" stroke-width="0.55" textLength="91" lengthAdjust="spacingAndGlyphs">cellular_component</text>
</g>
<g id="panelD">
<defs><linearGradient id="qv" x1="0" x2="0" y1="0" y2="1"><stop offset="0" stop-color="#c0524f"/><stop offset="0.5" stop-color="#9279a4"/><stop offset="1" stop-color="#6496df"/></linearGradient></defs>
<rect x="1261.8" y="740.2" width="289.5" height="940.7" fill="#fff"/>
<line x1="1275.2" x2="1275.2" y1="740.2" y2="1680.9" stroke="#e9e9e9" stroke-width="1.6"/>
<line x1="1359.1" x2="1359.1" y1="740.2" y2="1680.9" stroke="#e9e9e9" stroke-width="1.6"/>
<line x1="1442.4" x2="1442.4" y1="740.2" y2="1680.9" stroke="#e9e9e9" stroke-width="1.6"/>
<line x1="1525.1" x2="1525.1" y1="740.2" y2="1680.9" stroke="#e9e9e9" stroke-width="1.6"/>
<line x1="1317.2" x2="1317.2" y1="740.2" y2="1680.9" stroke="#efefef" stroke-width="1.1"/>
<line x1="1399.9" x2="1399.9" y1="740.2" y2="1680.9" stroke="#efefef" stroke-width="1.1"/>
<line x1="1483.7" x2="1483.7" y1="740.2" y2="1680.9" stroke="#efefef" stroke-width="1.1"/>
<line x1="1261.8" x2="1551.3" y1="767.5" y2="767.5" stroke="#e9e9e9" stroke-width="1.6"/>
<line x1="1261.8" x2="1551.3" y1="814.2" y2="814.2" stroke="#e9e9e9" stroke-width="1.6"/>
<line x1="1261.8" x2="1551.3" y1="860.8" y2="860.8" stroke="#e9e9e9" stroke-width="1.6"/>
<line x1="1261.8" x2="1551.3" y1="907.5" y2="907.5" stroke="#e9e9e9" stroke-width="1.6"/>
<line x1="1261.8" x2="1551.3" y1="954.1" y2="954.1" stroke="#e9e9e9" stroke-width="1.6"/>
<line x1="1261.8" x2="1551.3" y1="1000.8" y2="1000.8" stroke="#e9e9e9" stroke-width="1.6"/>
<line x1="1261.8" x2="1551.3" y1="1047.5" y2="1047.5" stroke="#e9e9e9" stroke-width="1.6"/>
<line x1="1261.8" x2="1551.3" y1="1094.1" y2="1094.1" stroke="#e9e9e9" stroke-width="1.6"/>
<line x1="1261.8" x2="1551.3" y1="1140.8" y2="1140.8" stroke="#e9e9e9" stroke-width="1.6"/>
<line x1="1261.8" x2="1551.3" y1="1187.4" y2="1187.4" stroke="#e9e9e9" stroke-width="1.6"/>
<line x1="1261.8" x2="1551.3" y1="1234.1" y2="1234.1" stroke="#e9e9e9" stroke-width="1.6"/>
<line x1="1261.8" x2="1551.3" y1="1280.8" y2="1280.8" stroke="#e9e9e9" stroke-width="1.6"/>
<line x1="1261.8" x2="1551.3" y1="1327.4" y2="1327.4" stroke="#e9e9e9" stroke-width="1.6"/>
<line x1="1261.8" x2="1551.3" y1="1374.1" y2="1374.1" stroke="#e9e9e9" stroke-width="1.6"/>
<line x1="1261.8" x2="1551.3" y1="1420.7" y2="1420.7" stroke="#e9e9e9" stroke-width="1.6"/>
<line x1="1261.8" x2="1551.3" y1="1467.4" y2="1467.4" stroke="#e9e9e9" stroke-width="1.6"/>
<line x1="1261.8" x2="1551.3" y1="1514.1" y2="1514.1" stroke="#e9e9e9" stroke-width="1.6"/>
<line x1="1261.8" x2="1551.3" y1="1560.7" y2="1560.7" stroke="#e9e9e9" stroke-width="1.6"/>
<line x1="1261.8" x2="1551.3" y1="1607.4" y2="1607.4" stroke="#e9e9e9" stroke-width="1.6"/>
<line x1="1261.8" x2="1551.3" y1="1654.0" y2="1654.0" stroke="#e9e9e9" stroke-width="1.6"/>
<ellipse cx="1432.5" cy="767.5" rx="9.2" ry="14.3" fill="#c45a57"/>
<line x1="1257.8" x2="1261.8" y1="767.5" y2="767.5" stroke="#222" stroke-width="1.2"/>
<text x="1113.9" y="774.5" class="ls" font-size="21" font-weight="bold" fill="#1a1a1a" stroke="#1a1a1a" stroke-width="0.3" textLength="141.5" lengthAdjust="spacingAndGlyphs">Autophagy - animal</text>
<ellipse cx="1345.0" cy="814.2" rx="7.5" ry="12.0" fill="#8490c6"/>
<line x1="1257.8" x2="1261.8" y1="814.2" y2="814.2" stroke="#222" stroke-width="1.2"/>
<text x="1090.0" y="821.2" class="ls" font-size="21" font-weight="bold" fill="#1a1a1a" stroke="#1a1a1a" stroke-width="0.3" textLength="165.4" lengthAdjust="spacingAndGlyphs">TNF signaling pathway</text>
<ellipse cx="1329.5" cy="860.8" rx="6.7" ry="10.7" fill="#6c8fd0"/>
<line x1="1257.8" x2="1261.8" y1="860.8" y2="860.8" stroke="#222" stroke-width="1.2"/>
<text x="814.0" y="867.8" class="ls" font-size="21" font-weight="bold" fill="#1a1a1a" stroke="#1a1a1a" stroke-width="0.3" textLength="441.4" lengthAdjust="spacingAndGlyphs">Viral protein interaction with cytokine and cytokine receptor</text>
<ellipse cx="1291.3" cy="907.5" rx="9.5" ry="15.0" fill="#6f8dcf"/>
<line x1="1257.8" x2="1261.8" y1="907.5" y2="907.5" stroke="#222" stroke-width="1.2"/>
<text x="974.1" y="914.5" class="ls" font-size="21" font-weight="bold" fill="#1a1a1a" stroke="#1a1a1a" stroke-width="0.3" textLength="281.3" lengthAdjust="spacingAndGlyphs">Cytokine-cytokine receptor interaction</text>
<ellipse cx="1317.3" cy="954.1" rx="6.5" ry="10.5" fill="#6a92d6"/>
<line x1="1257.8" x2="1261.8" y1="954.1" y2="954.1" stroke="#222" stroke-width="1.2"/>
<text x="1082.5" y="961.1" class="ls" font-size="21" font-weight="bold" fill="#1a1a1a" stroke="#1a1a1a" stroke-width="0.3" textLength="172.9" lengthAdjust="spacingAndGlyphs">IL-17 signaling pathway</text>
<ellipse cx="1341.0" cy="1000.8" rx="4.7" ry="7.7" fill="#699ae1"/>
<line x1="1257.8" x2="1261.8" y1="1000.8" y2="1000.8" stroke="#222" stroke-width="1.2"/>
<text x="1083.6" y="1007.8" class="ls" font-size="21" font-weight="bold" fill="#1a1a1a" stroke="#1a1a1a" stroke-width="0.3" textLength="171.8" lengthAdjust="spacingAndGlyphs">Tryptophan metabolism</text>
<ellipse cx="1306.3" cy="1047.5" rx="6.2" ry="10.0" fill="#699ae1"/>
<line x1="1257.8" x2="1261.8" y1="1047.5" y2="1047.5" stroke="#222" stroke-width="1.2"/>
<text x="1104.6" y="1054.5" class="ls" font-size="21" font-weight="bold" fill="#1a1a1a" stroke="#1a1a1a" stroke-width="0.3" textLength="150.8" lengthAdjust="spacingAndGlyphs">Rheumatoid arthritis</text>
<ellipse cx="1538.3" cy="1094.1" rx="2.2" ry="3.6" fill="#699ae1"/>
<line x1="1257.8" x2="1261.8" y1="1094.1" y2="1094.1" stroke="#222" stroke-width="1.2"/>
<text x="1087.1" y="1101.1" class="ls" font-size="21" font-weight="bold" fill="#1a1a1a" stroke="#1a1a1a" stroke-width="0.3" textLength="168.3" lengthAdjust="spacingAndGlyphs">Vitamin B6 metabolism</text>
<ellipse cx="1310.0" cy="1140.8" rx="5.2" ry="8.5" fill="#699ae1"/>
<line x1="1257.8" x2="1261.8" y1="1140.8" y2="1140.8" stroke="#222" stroke-width="1.2"/>
<text x="1132.0" y="1147.8" class="ls" font-size="21" font-weight="bold" fill="#1a1a1a" stroke="#1a1a1a" stroke-width="0.3" textLength="123.4" lengthAdjust="spacingAndGlyphs">Viral myocarditis</text>
<ellipse cx="1298.5" cy="1187.4" rx="6.2" ry="10.0" fill="#699ae1"/>
<line x1="1257.8" x2="1261.8" y1="1187.4" y2="1187.4" stroke="#222" stroke-width="1.2"/>
<text x="1072.6" y="1194.4" class="ls" font-size="21" font-weight="bold" fill="#1a1a1a" stroke="#1a1a1a" stroke-width="0.3" textLength="182.8" lengthAdjust="spacingAndGlyphs">ECM-receptor interaction</text>
<ellipse cx="1300.3" cy="1234.1" rx="6.0" ry="9.6" fill="#699ae1"/>
<line x1="1257.8" x2="1261.8" y1="1234.1" y2="1234.1" stroke="#222" stroke-width="1.2"/>
<text x="837.8" y="1241.1" class="ls" font-size="21" font-weight="bold" fill="#1a1a1a" stroke="#1a1a1a" stroke-width="0.3" textLength="417.6" lengthAdjust="spacingAndGlyphs">Arrhythmogenic right ventricular cardiomyopathy (ARVC)</text>
<ellipse cx="1292.2" cy="1280.8" rx="6.2" ry="10.0" fill="#699ae1"/>
<line x1="1257.8" x2="1261.8" y1="1280.8" y2="1280.8" stroke="#222" stroke-width="1.2"/>
<text x="858.8" y="1287.8" class="ls" font-size="21" font-weight="bold" fill="#1a1a1a" stroke="#1a1a1a" stroke-width="0.3" textLength="396.6" lengthAdjust="spacingAndGlyphs">AGE-RAGE signaling pathway in diabetic complications</text>
<ellipse cx="1277.5" cy="1327.4" rx="7.7" ry="12.2" fill="#699ae1"/>
<line x1="1257.8" x2="1261.8" y1="1327.4" y2="1327.4" stroke="#222" stroke-width="1.2"/>
<text x="1038.2" y="1334.4" class="ls" font-size="21" font-weight="bold" fill="#1a1a1a" stroke="#1a1a1a" stroke-width="0.3" textLength="217.2" lengthAdjust="spacingAndGlyphs">Chemokine signaling pathway</text>
<ellipse cx="1281.5" cy="1374.1" rx="7.0" ry="11.2" fill="#699ae1"/>
<line x1="1257.8" x2="1261.8" y1="1374.1" y2="1374.1" stroke="#222" stroke-width="1.2"/>
<text x="1065.0" y="1381.1" class="ls" font-size="21" font-weight="bold" fill="#1a1a1a" stroke="#1a1a1a" stroke-width="0.3" textLength="190.4" lengthAdjust="spacingAndGlyphs">Relaxin signaling pathway</text>
<ellipse cx="1289.0" cy="1420.7" rx="6.0" ry="9.8" fill="#699ae1"/>
<line x1="1257.8" x2="1261.8" y1="1420.7" y2="1420.7" stroke="#222" stroke-width="1.2"/>
<text x="1015.5" y="1427.7" class="ls" font-size="21" font-weight="bold" fill="#1a1a1a" stroke="#1a1a1a" stroke-width="0.3" textLength="239.9" lengthAdjust="spacingAndGlyphs">Protein digestion and absorption</text>
<ellipse cx="1292.0" cy="1467.4" rx="5.8" ry="9.5" fill="#699ae1"/>
<line x1="1257.8" x2="1261.8" y1="1467.4" y2="1467.4" stroke="#222" stroke-width="1.2"/>
<text x="972.4" y="1474.4" class="ls" font-size="21" font-weight="bold" fill="#1a1a1a" stroke="#1a1a1a" stroke-width="0.3" textLength="283.0" lengthAdjust="spacingAndGlyphs">Complement and coagulation cascades</text>
<ellipse cx="1288.3" cy="1514.1" rx="6.2" ry="10.0" fill="#699ae1"/>
<line x1="1257.8" x2="1261.8" y1="1514.1" y2="1514.1" stroke="#222" stroke-width="1.2"/>
<text x="1172.2" y="1521.1" class="ls" font-size="21" font-weight="bold" fill="#1a1a1a" stroke="#1a1a1a" stroke-width="0.3" textLength="83.2" lengthAdjust="spacingAndGlyphs">Amoebiasis</text>
<ellipse cx="1302.6" cy="1560.7" rx="4.6" ry="7.5" fill="#699ae1"/>
<line x1="1257.8" x2="1261.8" y1="1560.7" y2="1560.7" stroke="#222" stroke-width="1.2"/>
<text x="1201.3" y="1567.7" class="ls" font-size="21" font-weight="bold" fill="#1a1a1a" stroke="#1a1a1a" stroke-width="0.3" textLength="54.1" lengthAdjust="spacingAndGlyphs">Malaria</text>
<ellipse cx="1275.0" cy="1607.4" rx="7.5" ry="12.0" fill="#699ae1"/>
<line x1="1257.8" x2="1261.8" y1="1607.4" y2="1607.4" stroke="#222" stroke-width="1.2"/>
<text x="1148.3" y="1614.4" class="ls" font-size="21" font-weight="bold" fill="#1a1a1a" stroke="#1a1a1a" stroke-width="0.3" textLength="107.1" lengthAdjust="spacingAndGlyphs">Axon guidance</text>
<ellipse cx="1303.0" cy="1654.0" rx="4.6" ry="7.5" fill="#699ae1"/>
<line x1="1257.8" x2="1261.8" y1="1654.0" y2="1654.0" stroke="#222" stroke-width="1.2"/>
<text x="1130.2" y="1661.0" class="ls" font-size="21" font-weight="bold" fill="#1a1a1a" stroke="#1a1a1a" stroke-width="0.3" textLength="125.2" lengthAdjust="spacingAndGlyphs">ABC transporters</text>
<rect x="1261.8" y="740.2" width="289.5" height="940.7" fill="none" stroke="#3a3a3a" stroke-width="1.8"/>
<line x1="1260.6" x2="1552.3" y1="1681.2" y2="1681.2" stroke="#000" stroke-width="3.2"/>
<line x1="1261.8" x2="1261.8" y1="740.2" y2="1680.9" stroke="#000" stroke-width="2.4"/>
<line x1="1275.2" x2="1275.2" y1="1680.9" y2="1685.9" stroke="#222" stroke-width="1.2"/>
<text x="1264.2" y="1707" class="ls" font-size="20" font-weight="bold" fill="#1a1a1a" stroke="#1a1a1a" stroke-width="0.3" textLength="22" lengthAdjust="spacingAndGlyphs">0.2</text>
<line x1="1359.1" x2="1359.1" y1="1680.9" y2="1685.9" stroke="#222" stroke-width="1.2"/>
<text x="1348.1" y="1707" class="ls" font-size="20" font-weight="bold" fill="#1a1a1a" stroke="#1a1a1a" stroke-width="0.3" textLength="22" lengthAdjust="spacingAndGlyphs">0.4</text>
<line x1="1442.4" x2="1442.4" y1="1680.9" y2="1685.9" stroke="#222" stroke-width="1.2"/>
<text x="1431.4" y="1707" class="ls" font-size="20" font-weight="bold" fill="#1a1a1a" stroke="#1a1a1a" stroke-width="0.3" textLength="22" lengthAdjust="spacingAndGlyphs">0.6</text>
<line x1="1525.1" x2="1525.1" y1="1680.9" y2="1685.9" stroke="#222" stroke-width="1.2"/>
<text x="1514.1" y="1707" class="ls" font-size="20" font-weight="bold" fill="#1a1a1a" stroke="#1a1a1a" stroke-width="0.3" textLength="22" lengthAdjust="spacingAndGlyphs">0.8</text>
<text x="1359.5" y="1736" class="ls" font-size="25" font-weight="bold" fill="#1a1a1a" stroke="#1a1a1a" stroke-width="0.3" textLength="95" lengthAdjust="spacingAndGlyphs">Rich factor</text>
<text x="1164.6" y="721" class="ls" font-size="27" font-weight="bold" fill="#1a1a1a" stroke="#1a1a1a" stroke-width="0.3" textLength="484" lengthAdjust="spacingAndGlyphs">Statistics of Pathway Enrichment (MPvsCK_ALL)</text>
<rect x="1094.1" y="743.7" width="178.8" height="54.7" fill="none" stroke="#cc0000" stroke-width="3"/>
<text x="1572.8" y="1026.5" class="ls" font-size="24" font-weight="bold" fill="#1a1a1a" stroke="#1a1a1a" stroke-width="0.3" textLength="126" lengthAdjust="spacingAndGlyphs">-log10(qvalue)</text>
<rect x="1572.8" y="1040.7" width="22.2" height="183" fill="url(#qv)"/>
<line x1="1572.8" x2="1577" y1="1087.3" y2="1087.3" stroke="#fff" stroke-width="1" opacity="0.6"/>
<line x1="1590.8" x2="1595" y1="1087.3" y2="1087.3" stroke="#fff" stroke-width="1" opacity="0.6"/>
<text x="1603.5" y="1094.3" class="ls" font-size="20" font-weight="bold" fill="#1a1a1a" stroke="#1a1a1a" stroke-width="0.3" textLength="17" lengthAdjust="spacingAndGlyphs">12</text>
<line x1="1572.8" x2="1577" y1="1133.9" y2="1133.9" stroke="#fff" stroke-width="1" opacity="0.6"/>
<line x1="1590.8" x2="1595" y1="1133.9" y2="1133.9" stroke="#fff" stroke-width="1" opacity="0.6"/>
<text x="1603.5" y="1140.9" class="ls" font-size="20" font-weight="bold" fill="#1a1a1a" stroke="#1a1a1a" stroke-width="0.3" textLength="9" lengthAdjust="spacingAndGlyphs">8</text>
<line x1="1572.8" x2="1577" y1="1180.5" y2="1180.5" stroke="#fff" stroke-width="1" opacity="0.6"/>
<line x1="1590.8" x2="1595" y1="1180.5" y2="1180.5" stroke="#fff" stroke-width="1" opacity="0.6"/>
<text x="1603.5" y="1187.5" class="ls" font-size="20" font-weight="bold" fill="#1a1a1a" stroke="#1a1a1a" stroke-width="0.3" textLength="9" lengthAdjust="spacingAndGlyphs">4</text>
<text x="1572.8" y="1291" class="ls" font-size="24" font-weight="bold" fill="#1a1a1a" stroke="#1a1a1a" stroke-width="0.3" textLength="120" lengthAdjust="spacingAndGlyphs">Gene_number</text>
<ellipse cx="1583.9" cy="1324.4" rx="5.0" ry="8.0" fill="#363636"/>
<text x="1602.5" y="1331.4" class="ls" font-size="20" font-weight="bold" fill="#1a1a1a" stroke="#1a1a1a" stroke-width="0.3" textLength="18.5" lengthAdjust="spacingAndGlyphs">20</text>
<ellipse cx="1583.9" cy="1361.1" rx="7.0" ry="11.0" fill="#363636"/>
<text x="1602.5" y="1368.1" class="ls" font-size="20" font-weight="bold" fill="#1a1a1a" stroke="#1a1a1a" stroke-width="0.3" textLength="18.5" lengthAdjust="spacingAndGlyphs">40</text>
<ellipse cx="1583.9" cy="1397.8" rx="8.5" ry="13.0" fill="#363636"/>
<text x="1602.5" y="1404.8" class="ls" font-size="20" font-weight="bold" fill="#1a1a1a" stroke="#1a1a1a" stroke-width="0.3" textLength="18.5" lengthAdjust="spacingAndGlyphs">60</text>
</g>
<text x="23.0" y="66.8" class="lsf" font-size="50" font-weight="bold" fill="#000">A</text>
<text x="683.0" y="66.8" class="lsf" font-size="50" font-weight="bold" fill="#000">B</text>
<text x="21.5" y="704.3" class="lsf" font-size="50" font-weight="bold" fill="#000">C</text>
<text x="760.5" y="696.3" class="lsf" font-size="50" font-weight="bold" fill="#000">D</text>
</svg>
</body></html>
